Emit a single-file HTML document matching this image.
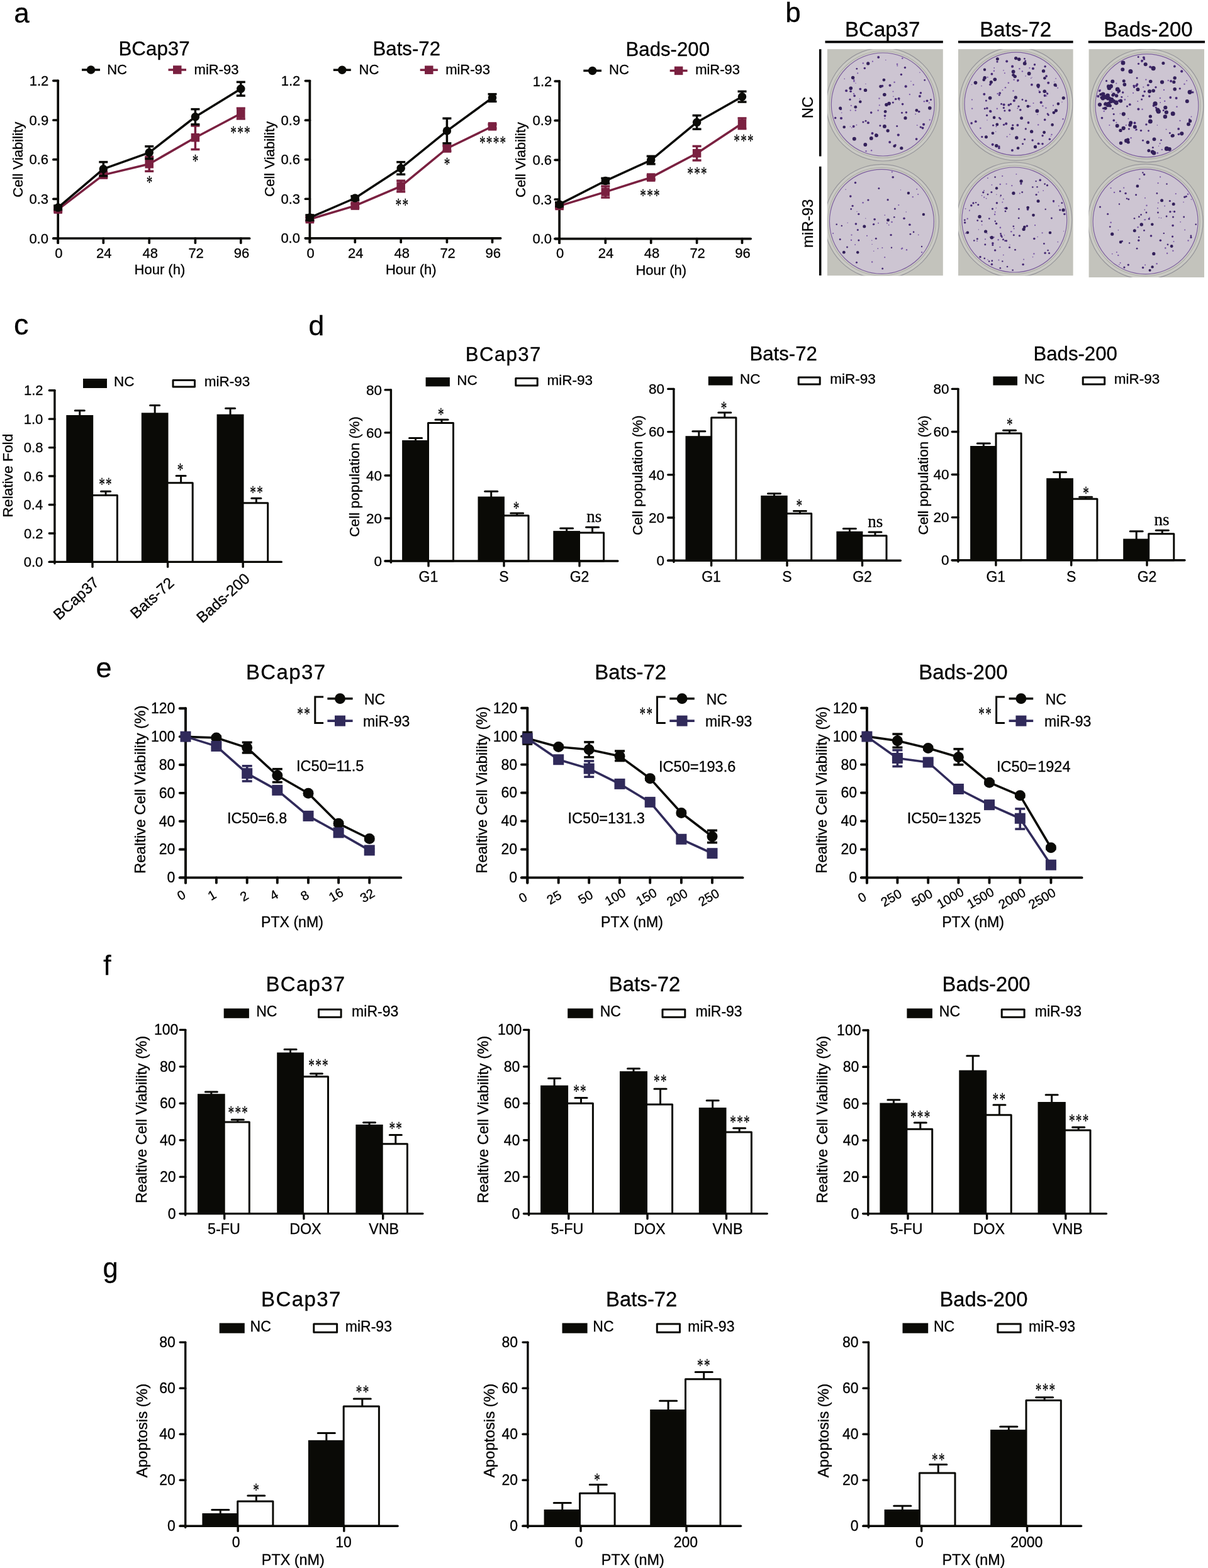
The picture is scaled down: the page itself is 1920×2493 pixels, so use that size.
<!DOCTYPE html>
<html><head><meta charset="utf-8"><title>Figure</title>
<style>html,body{margin:0;padding:0;background:#fff;width:1920px;height:2493px;overflow:hidden}svg{display:block}svg text{stroke:#000;stroke-width:0.3px}</style>
</head><body>
<svg width="1920" height="2493" viewBox="0 0 1920 2493">
<rect width="1920" height="2493" fill="#fff"/>
<text x="22.24" y="35.50" style="font-family:'Liberation Sans', Arial, Helvetica, sans-serif;font-size:44.00px" fill="#000">a</text>
<text x="1248.14" y="34.60" style="font-family:'Liberation Sans', Arial, Helvetica, sans-serif;font-size:44.00px" fill="#000">b</text>
<text x="22.02" y="532.40" style="font-family:'Liberation Sans', Arial, Helvetica, sans-serif;font-size:47.00px" fill="#000">c</text>
<text x="490.52" y="532.80" style="font-family:'Liberation Sans', Arial, Helvetica, sans-serif;font-size:44.50px" fill="#000">d</text>
<text x="152.60" y="1077.00" style="font-family:'Liberation Sans', Arial, Helvetica, sans-serif;font-size:45.00px" fill="#000">e</text>
<text x="164.34" y="1549.80" style="font-family:'Liberation Sans', Arial, Helvetica, sans-serif;font-size:44.00px" fill="#000">f</text>
<text x="163.46" y="2031.30" style="font-family:'Liberation Sans', Arial, Helvetica, sans-serif;font-size:43.50px" fill="#000">g</text>
<line x1="92.20" y1="128.30" x2="92.20" y2="386.15" stroke="#0a0a06" stroke-width="3.7" stroke-linecap="round"/>
<line x1="84.85" y1="379.00" x2="396.65" y2="379.00" stroke="#0a0a06" stroke-width="3.7" stroke-linecap="round"/>
<line x1="84.85" y1="379.00" x2="92.20" y2="379.00" stroke="#0a0a06" stroke-width="3.7" stroke-linecap="round"/>
<text x="46.39" y="386.59" style="font-family:'Liberation Sans', Arial, Helvetica, sans-serif;font-size:22.00px" fill="#000">0.0</text>
<line x1="84.85" y1="316.32" x2="92.20" y2="316.32" stroke="#0a0a06" stroke-width="3.7" stroke-linecap="round"/>
<text x="46.50" y="323.91" style="font-family:'Liberation Sans', Arial, Helvetica, sans-serif;font-size:22.00px" fill="#000">0.3</text>
<line x1="84.85" y1="253.65" x2="92.20" y2="253.65" stroke="#0a0a06" stroke-width="3.7" stroke-linecap="round"/>
<text x="46.50" y="261.24" style="font-family:'Liberation Sans', Arial, Helvetica, sans-serif;font-size:22.00px" fill="#000">0.6</text>
<line x1="84.85" y1="190.98" x2="92.20" y2="190.98" stroke="#0a0a06" stroke-width="3.7" stroke-linecap="round"/>
<text x="46.61" y="198.57" style="font-family:'Liberation Sans', Arial, Helvetica, sans-serif;font-size:22.00px" fill="#000">0.9</text>
<line x1="84.85" y1="128.30" x2="92.20" y2="128.30" stroke="#0a0a06" stroke-width="3.7" stroke-linecap="round"/>
<text x="46.72" y="136.00" style="font-family:'Liberation Sans', Arial, Helvetica, sans-serif;font-size:22.00px" fill="#000">1.2</text>
<line x1="92.20" y1="379.00" x2="92.20" y2="386.15" stroke="#0a0a06" stroke-width="3.7" stroke-linecap="round"/>
<line x1="164.30" y1="379.00" x2="164.30" y2="386.15" stroke="#0a0a06" stroke-width="3.7" stroke-linecap="round"/>
<line x1="237.20" y1="379.00" x2="237.20" y2="386.15" stroke="#0a0a06" stroke-width="3.7" stroke-linecap="round"/>
<line x1="310.40" y1="379.00" x2="310.40" y2="386.15" stroke="#0a0a06" stroke-width="3.7" stroke-linecap="round"/>
<line x1="382.80" y1="379.00" x2="382.80" y2="386.15" stroke="#0a0a06" stroke-width="3.7" stroke-linecap="round"/>
<line x1="92.20" y1="329.90" x2="92.20" y2="336.17" stroke="#7a2040" stroke-width="3.5" stroke-linecap="butt"/>
<line x1="85.20" y1="329.90" x2="99.20" y2="329.90" stroke="#7a2040" stroke-width="3.5" stroke-linecap="butt"/>
<line x1="85.20" y1="336.17" x2="99.20" y2="336.17" stroke="#7a2040" stroke-width="3.5" stroke-linecap="butt"/>
<line x1="164.30" y1="273.91" x2="164.30" y2="282.27" stroke="#7a2040" stroke-width="3.5" stroke-linecap="butt"/>
<line x1="157.30" y1="273.91" x2="171.30" y2="273.91" stroke="#7a2040" stroke-width="3.5" stroke-linecap="butt"/>
<line x1="157.30" y1="282.27" x2="171.30" y2="282.27" stroke="#7a2040" stroke-width="3.5" stroke-linecap="butt"/>
<line x1="237.20" y1="249.26" x2="237.20" y2="272.24" stroke="#7a2040" stroke-width="3.5" stroke-linecap="butt"/>
<line x1="230.20" y1="249.26" x2="244.20" y2="249.26" stroke="#7a2040" stroke-width="3.5" stroke-linecap="butt"/>
<line x1="230.20" y1="272.24" x2="244.20" y2="272.24" stroke="#7a2040" stroke-width="3.5" stroke-linecap="butt"/>
<line x1="310.40" y1="199.96" x2="310.40" y2="237.56" stroke="#7a2040" stroke-width="3.5" stroke-linecap="butt"/>
<line x1="303.40" y1="199.96" x2="317.40" y2="199.96" stroke="#7a2040" stroke-width="3.5" stroke-linecap="butt"/>
<line x1="303.40" y1="237.56" x2="317.40" y2="237.56" stroke="#7a2040" stroke-width="3.5" stroke-linecap="butt"/>
<line x1="382.80" y1="172.17" x2="382.80" y2="188.89" stroke="#7a2040" stroke-width="3.5" stroke-linecap="butt"/>
<line x1="375.80" y1="172.17" x2="389.80" y2="172.17" stroke="#7a2040" stroke-width="3.5" stroke-linecap="butt"/>
<line x1="375.80" y1="188.89" x2="389.80" y2="188.89" stroke="#7a2040" stroke-width="3.5" stroke-linecap="butt"/>
<path d="M92.20,333.04 L164.30,278.09 L237.20,260.75 L310.40,218.76 L382.80,180.53" fill="none" stroke="#7a2040" stroke-width="3.5" stroke-linejoin="round"/>
<rect x="85.45" y="326.29" width="13.50" height="13.50" fill="#7a2040"/>
<rect x="157.55" y="271.34" width="13.50" height="13.50" fill="#7a2040"/>
<rect x="230.45" y="254.00" width="13.50" height="13.50" fill="#7a2040"/>
<rect x="303.65" y="212.01" width="13.50" height="13.50" fill="#7a2040"/>
<rect x="376.05" y="173.78" width="13.50" height="13.50" fill="#7a2040"/>
<line x1="92.20" y1="326.98" x2="92.20" y2="333.25" stroke="#0a0a06" stroke-width="3.5" stroke-linecap="butt"/>
<line x1="85.20" y1="326.98" x2="99.20" y2="326.98" stroke="#0a0a06" stroke-width="3.5" stroke-linecap="butt"/>
<line x1="85.20" y1="333.25" x2="99.20" y2="333.25" stroke="#0a0a06" stroke-width="3.5" stroke-linecap="butt"/>
<line x1="164.30" y1="257.62" x2="164.30" y2="279.76" stroke="#0a0a06" stroke-width="3.5" stroke-linecap="butt"/>
<line x1="157.30" y1="257.62" x2="171.30" y2="257.62" stroke="#0a0a06" stroke-width="3.5" stroke-linecap="butt"/>
<line x1="157.30" y1="279.76" x2="171.30" y2="279.76" stroke="#0a0a06" stroke-width="3.5" stroke-linecap="butt"/>
<line x1="237.20" y1="232.76" x2="237.20" y2="252.40" stroke="#0a0a06" stroke-width="3.5" stroke-linecap="butt"/>
<line x1="230.20" y1="232.76" x2="244.20" y2="232.76" stroke="#0a0a06" stroke-width="3.5" stroke-linecap="butt"/>
<line x1="230.20" y1="252.40" x2="244.20" y2="252.40" stroke="#0a0a06" stroke-width="3.5" stroke-linecap="butt"/>
<line x1="310.40" y1="173.63" x2="310.40" y2="197.87" stroke="#0a0a06" stroke-width="3.5" stroke-linecap="butt"/>
<line x1="303.40" y1="173.63" x2="317.40" y2="173.63" stroke="#0a0a06" stroke-width="3.5" stroke-linecap="butt"/>
<line x1="303.40" y1="197.87" x2="317.40" y2="197.87" stroke="#0a0a06" stroke-width="3.5" stroke-linecap="butt"/>
<line x1="382.80" y1="130.39" x2="382.80" y2="152.12" stroke="#0a0a06" stroke-width="3.5" stroke-linecap="butt"/>
<line x1="375.80" y1="130.39" x2="389.80" y2="130.39" stroke="#0a0a06" stroke-width="3.5" stroke-linecap="butt"/>
<line x1="375.80" y1="152.12" x2="389.80" y2="152.12" stroke="#0a0a06" stroke-width="3.5" stroke-linecap="butt"/>
<path d="M92.20,330.11 L164.30,268.69 L237.20,242.58 L310.40,185.75 L382.80,141.25" fill="none" stroke="#0a0a06" stroke-width="3.5" stroke-linejoin="round"/>
<circle cx="92.20" cy="330.11" r="6.75" fill="#0a0a06"/>
<circle cx="164.30" cy="268.69" r="6.75" fill="#0a0a06"/>
<circle cx="237.20" cy="242.58" r="6.75" fill="#0a0a06"/>
<circle cx="310.40" cy="185.75" r="6.75" fill="#0a0a06"/>
<circle cx="382.80" cy="141.25" r="6.75" fill="#0a0a06"/>
<text transform="translate(237.50,298.67) scale(0.67,1)" x="-7.12" y="0" style="font-family:'Liberation Serif', 'Times New Roman', serif;font-size:28.50px;letter-spacing:2.0px" fill="#000">*</text>
<text transform="translate(310.50,264.67) scale(0.67,1)" x="-7.12" y="0" style="font-family:'Liberation Serif', 'Times New Roman', serif;font-size:28.50px;letter-spacing:2.0px" fill="#000">*</text>
<text transform="translate(382.00,219.67) scale(0.67,1)" x="-23.37" y="0" style="font-family:'Liberation Serif', 'Times New Roman', serif;font-size:28.50px;letter-spacing:2.0px" fill="#000">***</text>
<line x1="130.00" y1="111.00" x2="159.00" y2="111.00" stroke="#0a0a06" stroke-width="3.5" stroke-linecap="butt"/>
<circle cx="144.50" cy="111.00" r="6.75" fill="#0a0a06"/>
<text x="170.24" y="117.50" style="font-family:'Liberation Sans', Arial, Helvetica, sans-serif;font-size:22.00px" fill="#000">NC</text>
<line x1="267.50" y1="111.00" x2="296.00" y2="111.00" stroke="#7a2040" stroke-width="3.5" stroke-linecap="butt"/>
<rect x="275.00" y="104.25" width="13.50" height="13.50" fill="#7a2040"/>
<text x="308.57" y="117.50" style="font-family:'Liberation Sans', Arial, Helvetica, sans-serif;font-size:22.00px" fill="#000">miR-93</text>
<text x="188.50" y="87.50" style="font-family:'Liberation Sans', Arial, Helvetica, sans-serif;font-size:31.30px" fill="#000">BCap37</text>
<text transform="translate(35.62,253.10) rotate(-90)" x="-60.55" y="0" style="font-family:'Liberation Sans', Arial, Helvetica, sans-serif;font-size:22.10px" fill="#000">Cell Viability</text>
<text x="87.24" y="409.80" style="font-family:'Liberation Sans', Arial, Helvetica, sans-serif;font-size:22.00px" fill="#000">0</text>
<text x="153.07" y="409.80" style="font-family:'Liberation Sans', Arial, Helvetica, sans-serif;font-size:22.00px" fill="#000">24</text>
<text x="226.41" y="409.80" style="font-family:'Liberation Sans', Arial, Helvetica, sans-serif;font-size:22.00px" fill="#000">48</text>
<text x="299.39" y="409.80" style="font-family:'Liberation Sans', Arial, Helvetica, sans-serif;font-size:22.00px" fill="#000">72</text>
<text x="371.74" y="409.80" style="font-family:'Liberation Sans', Arial, Helvetica, sans-serif;font-size:22.00px" fill="#000">96</text>
<text x="213.54" y="436.40" style="font-family:'Liberation Sans', Arial, Helvetica, sans-serif;font-size:22.00px" fill="#000">Hour (h)</text>
<line x1="492.40" y1="128.60" x2="492.40" y2="385.15" stroke="#0a0a06" stroke-width="3.7" stroke-linecap="round"/>
<line x1="485.45" y1="378.80" x2="795.65" y2="378.80" stroke="#0a0a06" stroke-width="3.7" stroke-linecap="round"/>
<line x1="485.45" y1="378.80" x2="492.40" y2="378.80" stroke="#0a0a06" stroke-width="3.7" stroke-linecap="round"/>
<text x="446.39" y="386.39" style="font-family:'Liberation Sans', Arial, Helvetica, sans-serif;font-size:22.00px" fill="#000">0.0</text>
<line x1="485.45" y1="316.25" x2="492.40" y2="316.25" stroke="#0a0a06" stroke-width="3.7" stroke-linecap="round"/>
<text x="446.50" y="323.84" style="font-family:'Liberation Sans', Arial, Helvetica, sans-serif;font-size:22.00px" fill="#000">0.3</text>
<line x1="485.45" y1="253.70" x2="492.40" y2="253.70" stroke="#0a0a06" stroke-width="3.7" stroke-linecap="round"/>
<text x="446.50" y="261.29" style="font-family:'Liberation Sans', Arial, Helvetica, sans-serif;font-size:22.00px" fill="#000">0.6</text>
<line x1="485.45" y1="191.15" x2="492.40" y2="191.15" stroke="#0a0a06" stroke-width="3.7" stroke-linecap="round"/>
<text x="446.61" y="198.74" style="font-family:'Liberation Sans', Arial, Helvetica, sans-serif;font-size:22.00px" fill="#000">0.9</text>
<line x1="485.45" y1="128.60" x2="492.40" y2="128.60" stroke="#0a0a06" stroke-width="3.7" stroke-linecap="round"/>
<text x="446.72" y="136.30" style="font-family:'Liberation Sans', Arial, Helvetica, sans-serif;font-size:22.00px" fill="#000">1.2</text>
<line x1="492.40" y1="378.80" x2="492.40" y2="385.15" stroke="#0a0a06" stroke-width="3.7" stroke-linecap="round"/>
<line x1="564.30" y1="378.80" x2="564.30" y2="385.15" stroke="#0a0a06" stroke-width="3.7" stroke-linecap="round"/>
<line x1="637.20" y1="378.80" x2="637.20" y2="385.15" stroke="#0a0a06" stroke-width="3.7" stroke-linecap="round"/>
<line x1="710.40" y1="378.80" x2="710.40" y2="385.15" stroke="#0a0a06" stroke-width="3.7" stroke-linecap="round"/>
<line x1="782.50" y1="378.80" x2="782.50" y2="385.15" stroke="#0a0a06" stroke-width="3.7" stroke-linecap="round"/>
<line x1="492.40" y1="345.44" x2="492.40" y2="351.69" stroke="#7a2040" stroke-width="3.5" stroke-linecap="butt"/>
<line x1="485.40" y1="345.44" x2="499.40" y2="345.44" stroke="#7a2040" stroke-width="3.5" stroke-linecap="butt"/>
<line x1="485.40" y1="351.69" x2="499.40" y2="351.69" stroke="#7a2040" stroke-width="3.5" stroke-linecap="butt"/>
<line x1="564.30" y1="323.96" x2="564.30" y2="330.22" stroke="#7a2040" stroke-width="3.5" stroke-linecap="butt"/>
<line x1="557.30" y1="323.96" x2="571.30" y2="323.96" stroke="#7a2040" stroke-width="3.5" stroke-linecap="butt"/>
<line x1="557.30" y1="330.22" x2="571.30" y2="330.22" stroke="#7a2040" stroke-width="3.5" stroke-linecap="butt"/>
<line x1="637.20" y1="287.27" x2="637.20" y2="304.78" stroke="#7a2040" stroke-width="3.5" stroke-linecap="butt"/>
<line x1="630.20" y1="287.27" x2="644.20" y2="287.27" stroke="#7a2040" stroke-width="3.5" stroke-linecap="butt"/>
<line x1="630.20" y1="304.78" x2="644.20" y2="304.78" stroke="#7a2040" stroke-width="3.5" stroke-linecap="butt"/>
<line x1="710.40" y1="231.81" x2="710.40" y2="240.15" stroke="#7a2040" stroke-width="3.5" stroke-linecap="butt"/>
<line x1="703.40" y1="231.81" x2="717.40" y2="231.81" stroke="#7a2040" stroke-width="3.5" stroke-linecap="butt"/>
<line x1="703.40" y1="240.15" x2="717.40" y2="240.15" stroke="#7a2040" stroke-width="3.5" stroke-linecap="butt"/>
<line x1="782.50" y1="197.82" x2="782.50" y2="204.08" stroke="#7a2040" stroke-width="3.5" stroke-linecap="butt"/>
<line x1="775.50" y1="197.82" x2="789.50" y2="197.82" stroke="#7a2040" stroke-width="3.5" stroke-linecap="butt"/>
<line x1="775.50" y1="204.08" x2="789.50" y2="204.08" stroke="#7a2040" stroke-width="3.5" stroke-linecap="butt"/>
<path d="M492.40,348.57 L564.30,327.09 L637.20,296.03 L710.40,235.98 L782.50,200.95" fill="none" stroke="#7a2040" stroke-width="3.5" stroke-linejoin="round"/>
<rect x="485.65" y="341.82" width="13.50" height="13.50" fill="#7a2040"/>
<rect x="557.55" y="320.34" width="13.50" height="13.50" fill="#7a2040"/>
<rect x="630.45" y="289.28" width="13.50" height="13.50" fill="#7a2040"/>
<rect x="703.65" y="229.23" width="13.50" height="13.50" fill="#7a2040"/>
<rect x="775.75" y="194.20" width="13.50" height="13.50" fill="#7a2040"/>
<line x1="492.40" y1="341.90" x2="492.40" y2="350.24" stroke="#0a0a06" stroke-width="3.5" stroke-linecap="butt"/>
<line x1="485.40" y1="341.90" x2="499.40" y2="341.90" stroke="#0a0a06" stroke-width="3.5" stroke-linecap="butt"/>
<line x1="485.40" y1="350.24" x2="499.40" y2="350.24" stroke="#0a0a06" stroke-width="3.5" stroke-linecap="butt"/>
<line x1="564.30" y1="311.87" x2="564.30" y2="318.13" stroke="#0a0a06" stroke-width="3.5" stroke-linecap="butt"/>
<line x1="557.30" y1="311.87" x2="571.30" y2="311.87" stroke="#0a0a06" stroke-width="3.5" stroke-linecap="butt"/>
<line x1="557.30" y1="318.13" x2="571.30" y2="318.13" stroke="#0a0a06" stroke-width="3.5" stroke-linecap="butt"/>
<line x1="637.20" y1="257.66" x2="637.20" y2="277.26" stroke="#0a0a06" stroke-width="3.5" stroke-linecap="butt"/>
<line x1="630.20" y1="257.66" x2="644.20" y2="257.66" stroke="#0a0a06" stroke-width="3.5" stroke-linecap="butt"/>
<line x1="630.20" y1="277.26" x2="644.20" y2="277.26" stroke="#0a0a06" stroke-width="3.5" stroke-linecap="butt"/>
<line x1="710.40" y1="188.23" x2="710.40" y2="227.85" stroke="#0a0a06" stroke-width="3.5" stroke-linecap="butt"/>
<line x1="703.40" y1="188.23" x2="717.40" y2="188.23" stroke="#0a0a06" stroke-width="3.5" stroke-linecap="butt"/>
<line x1="703.40" y1="227.85" x2="717.40" y2="227.85" stroke="#0a0a06" stroke-width="3.5" stroke-linecap="butt"/>
<line x1="782.50" y1="149.66" x2="782.50" y2="161.33" stroke="#0a0a06" stroke-width="3.5" stroke-linecap="butt"/>
<line x1="775.50" y1="149.66" x2="789.50" y2="149.66" stroke="#0a0a06" stroke-width="3.5" stroke-linecap="butt"/>
<line x1="775.50" y1="161.33" x2="789.50" y2="161.33" stroke="#0a0a06" stroke-width="3.5" stroke-linecap="butt"/>
<path d="M492.40,346.07 L564.30,315.00 L637.20,267.46 L710.40,208.04 L782.50,155.50" fill="none" stroke="#0a0a06" stroke-width="3.5" stroke-linejoin="round"/>
<circle cx="492.40" cy="346.07" r="6.75" fill="#0a0a06"/>
<circle cx="564.30" cy="315.00" r="6.75" fill="#0a0a06"/>
<circle cx="637.20" cy="267.46" r="6.75" fill="#0a0a06"/>
<circle cx="710.40" cy="208.04" r="6.75" fill="#0a0a06"/>
<circle cx="782.50" cy="155.50" r="6.75" fill="#0a0a06"/>
<text transform="translate(638.70,335.17) scale(0.67,1)" x="-15.25" y="0" style="font-family:'Liberation Serif', 'Times New Roman', serif;font-size:28.50px;letter-spacing:2.0px" fill="#000">**</text>
<text transform="translate(710.50,270.17) scale(0.67,1)" x="-7.12" y="0" style="font-family:'Liberation Serif', 'Times New Roman', serif;font-size:28.50px;letter-spacing:2.0px" fill="#000">*</text>
<text transform="translate(783.00,236.42) scale(0.67,1)" x="-31.50" y="0" style="font-family:'Liberation Serif', 'Times New Roman', serif;font-size:28.50px;letter-spacing:2.0px" fill="#000">****</text>
<line x1="529.80" y1="111.20" x2="557.80" y2="111.20" stroke="#0a0a06" stroke-width="3.5" stroke-linecap="butt"/>
<circle cx="543.80" cy="111.20" r="6.75" fill="#0a0a06"/>
<text x="570.54" y="117.50" style="font-family:'Liberation Sans', Arial, Helvetica, sans-serif;font-size:22.00px" fill="#000">NC</text>
<line x1="667.70" y1="111.20" x2="695.90" y2="111.20" stroke="#7a2040" stroke-width="3.5" stroke-linecap="butt"/>
<rect x="675.05" y="104.45" width="13.50" height="13.50" fill="#7a2040"/>
<text x="708.17" y="117.50" style="font-family:'Liberation Sans', Arial, Helvetica, sans-serif;font-size:22.00px" fill="#000">miR-93</text>
<text x="592.50" y="88.00" style="font-family:'Liberation Sans', Arial, Helvetica, sans-serif;font-size:31.20px" fill="#000">Bats-72</text>
<text transform="translate(436.02,252.25) rotate(-90)" x="-60.55" y="0" style="font-family:'Liberation Sans', Arial, Helvetica, sans-serif;font-size:22.10px" fill="#000">Cell Viability</text>
<text x="487.44" y="409.50" style="font-family:'Liberation Sans', Arial, Helvetica, sans-serif;font-size:22.00px" fill="#000">0</text>
<text x="553.07" y="409.50" style="font-family:'Liberation Sans', Arial, Helvetica, sans-serif;font-size:22.00px" fill="#000">24</text>
<text x="626.41" y="409.50" style="font-family:'Liberation Sans', Arial, Helvetica, sans-serif;font-size:22.00px" fill="#000">48</text>
<text x="699.39" y="409.50" style="font-family:'Liberation Sans', Arial, Helvetica, sans-serif;font-size:22.00px" fill="#000">72</text>
<text x="771.44" y="409.50" style="font-family:'Liberation Sans', Arial, Helvetica, sans-serif;font-size:22.00px" fill="#000">96</text>
<text x="612.94" y="436.00" style="font-family:'Liberation Sans', Arial, Helvetica, sans-serif;font-size:22.00px" fill="#000">Hour (h)</text>
<line x1="889.10" y1="129.10" x2="889.10" y2="386.15" stroke="#0a0a06" stroke-width="3.7" stroke-linecap="round"/>
<line x1="882.15" y1="379.60" x2="1193.15" y2="379.60" stroke="#0a0a06" stroke-width="3.7" stroke-linecap="round"/>
<line x1="882.15" y1="379.60" x2="889.10" y2="379.60" stroke="#0a0a06" stroke-width="3.7" stroke-linecap="round"/>
<text x="846.39" y="387.19" style="font-family:'Liberation Sans', Arial, Helvetica, sans-serif;font-size:22.00px" fill="#000">0.0</text>
<line x1="882.15" y1="316.98" x2="889.10" y2="316.98" stroke="#0a0a06" stroke-width="3.7" stroke-linecap="round"/>
<text x="846.50" y="324.56" style="font-family:'Liberation Sans', Arial, Helvetica, sans-serif;font-size:22.00px" fill="#000">0.3</text>
<line x1="882.15" y1="254.35" x2="889.10" y2="254.35" stroke="#0a0a06" stroke-width="3.7" stroke-linecap="round"/>
<text x="846.50" y="261.94" style="font-family:'Liberation Sans', Arial, Helvetica, sans-serif;font-size:22.00px" fill="#000">0.6</text>
<line x1="882.15" y1="191.72" x2="889.10" y2="191.72" stroke="#0a0a06" stroke-width="3.7" stroke-linecap="round"/>
<text x="846.61" y="199.31" style="font-family:'Liberation Sans', Arial, Helvetica, sans-serif;font-size:22.00px" fill="#000">0.9</text>
<line x1="882.15" y1="129.10" x2="889.10" y2="129.10" stroke="#0a0a06" stroke-width="3.7" stroke-linecap="round"/>
<text x="846.72" y="136.80" style="font-family:'Liberation Sans', Arial, Helvetica, sans-serif;font-size:22.00px" fill="#000">1.2</text>
<line x1="889.10" y1="379.60" x2="889.10" y2="386.15" stroke="#0a0a06" stroke-width="3.7" stroke-linecap="round"/>
<line x1="962.30" y1="379.60" x2="962.30" y2="386.15" stroke="#0a0a06" stroke-width="3.7" stroke-linecap="round"/>
<line x1="1034.70" y1="379.60" x2="1034.70" y2="386.15" stroke="#0a0a06" stroke-width="3.7" stroke-linecap="round"/>
<line x1="1107.60" y1="379.60" x2="1107.60" y2="386.15" stroke="#0a0a06" stroke-width="3.7" stroke-linecap="round"/>
<line x1="1179.50" y1="379.60" x2="1179.50" y2="386.15" stroke="#0a0a06" stroke-width="3.7" stroke-linecap="round"/>
<line x1="889.10" y1="324.28" x2="889.10" y2="330.54" stroke="#7a2040" stroke-width="3.5" stroke-linecap="butt"/>
<line x1="882.10" y1="324.28" x2="896.10" y2="324.28" stroke="#7a2040" stroke-width="3.5" stroke-linecap="butt"/>
<line x1="882.10" y1="330.54" x2="896.10" y2="330.54" stroke="#7a2040" stroke-width="3.5" stroke-linecap="butt"/>
<line x1="962.30" y1="296.10" x2="962.30" y2="314.05" stroke="#7a2040" stroke-width="3.5" stroke-linecap="butt"/>
<line x1="955.30" y1="296.10" x2="969.30" y2="296.10" stroke="#7a2040" stroke-width="3.5" stroke-linecap="butt"/>
<line x1="955.30" y1="314.05" x2="969.30" y2="314.05" stroke="#7a2040" stroke-width="3.5" stroke-linecap="butt"/>
<line x1="1034.70" y1="278.98" x2="1034.70" y2="285.25" stroke="#7a2040" stroke-width="3.5" stroke-linecap="butt"/>
<line x1="1027.70" y1="278.98" x2="1041.70" y2="278.98" stroke="#7a2040" stroke-width="3.5" stroke-linecap="butt"/>
<line x1="1027.70" y1="285.25" x2="1041.70" y2="285.25" stroke="#7a2040" stroke-width="3.5" stroke-linecap="butt"/>
<line x1="1107.60" y1="232.43" x2="1107.60" y2="254.98" stroke="#7a2040" stroke-width="3.5" stroke-linecap="butt"/>
<line x1="1100.60" y1="232.43" x2="1114.60" y2="232.43" stroke="#7a2040" stroke-width="3.5" stroke-linecap="butt"/>
<line x1="1100.60" y1="254.98" x2="1114.60" y2="254.98" stroke="#7a2040" stroke-width="3.5" stroke-linecap="butt"/>
<line x1="1179.50" y1="187.97" x2="1179.50" y2="204.67" stroke="#7a2040" stroke-width="3.5" stroke-linecap="butt"/>
<line x1="1172.50" y1="187.97" x2="1186.50" y2="187.97" stroke="#7a2040" stroke-width="3.5" stroke-linecap="butt"/>
<line x1="1172.50" y1="204.67" x2="1186.50" y2="204.67" stroke="#7a2040" stroke-width="3.5" stroke-linecap="butt"/>
<path d="M889.10,327.41 L962.30,305.08 L1034.70,282.11 L1107.60,243.70 L1179.50,196.32" fill="none" stroke="#7a2040" stroke-width="3.5" stroke-linejoin="round"/>
<rect x="882.35" y="320.66" width="13.50" height="13.50" fill="#7a2040"/>
<rect x="955.55" y="298.33" width="13.50" height="13.50" fill="#7a2040"/>
<rect x="1027.95" y="275.36" width="13.50" height="13.50" fill="#7a2040"/>
<rect x="1100.85" y="236.95" width="13.50" height="13.50" fill="#7a2040"/>
<rect x="1172.75" y="189.57" width="13.50" height="13.50" fill="#7a2040"/>
<line x1="889.10" y1="321.78" x2="889.10" y2="328.04" stroke="#0a0a06" stroke-width="3.5" stroke-linecap="butt"/>
<line x1="882.10" y1="321.78" x2="896.10" y2="321.78" stroke="#0a0a06" stroke-width="3.5" stroke-linecap="butt"/>
<line x1="882.10" y1="328.04" x2="896.10" y2="328.04" stroke="#0a0a06" stroke-width="3.5" stroke-linecap="butt"/>
<line x1="962.30" y1="283.37" x2="962.30" y2="291.72" stroke="#0a0a06" stroke-width="3.5" stroke-linecap="butt"/>
<line x1="955.30" y1="283.37" x2="969.30" y2="283.37" stroke="#0a0a06" stroke-width="3.5" stroke-linecap="butt"/>
<line x1="955.30" y1="291.72" x2="969.30" y2="291.72" stroke="#0a0a06" stroke-width="3.5" stroke-linecap="butt"/>
<line x1="1034.70" y1="248.30" x2="1034.70" y2="260.82" stroke="#0a0a06" stroke-width="3.5" stroke-linecap="butt"/>
<line x1="1027.70" y1="248.30" x2="1041.70" y2="248.30" stroke="#0a0a06" stroke-width="3.5" stroke-linecap="butt"/>
<line x1="1027.70" y1="260.82" x2="1041.70" y2="260.82" stroke="#0a0a06" stroke-width="3.5" stroke-linecap="butt"/>
<line x1="1107.60" y1="183.58" x2="1107.60" y2="205.29" stroke="#0a0a06" stroke-width="3.5" stroke-linecap="butt"/>
<line x1="1100.60" y1="183.58" x2="1114.60" y2="183.58" stroke="#0a0a06" stroke-width="3.5" stroke-linecap="butt"/>
<line x1="1100.60" y1="205.29" x2="1114.60" y2="205.29" stroke="#0a0a06" stroke-width="3.5" stroke-linecap="butt"/>
<line x1="1179.50" y1="145.38" x2="1179.50" y2="162.08" stroke="#0a0a06" stroke-width="3.5" stroke-linecap="butt"/>
<line x1="1172.50" y1="145.38" x2="1186.50" y2="145.38" stroke="#0a0a06" stroke-width="3.5" stroke-linecap="butt"/>
<line x1="1172.50" y1="162.08" x2="1186.50" y2="162.08" stroke="#0a0a06" stroke-width="3.5" stroke-linecap="butt"/>
<path d="M889.10,324.91 L962.30,287.54 L1034.70,254.56 L1107.60,194.44 L1179.50,153.73" fill="none" stroke="#0a0a06" stroke-width="3.5" stroke-linejoin="round"/>
<circle cx="889.10" cy="324.91" r="6.75" fill="#0a0a06"/>
<circle cx="962.30" cy="287.54" r="6.75" fill="#0a0a06"/>
<circle cx="1034.70" cy="254.56" r="6.75" fill="#0a0a06"/>
<circle cx="1107.60" cy="194.44" r="6.75" fill="#0a0a06"/>
<circle cx="1179.50" cy="153.73" r="6.75" fill="#0a0a06"/>
<text transform="translate(1033.00,320.17) scale(0.67,1)" x="-23.37" y="0" style="font-family:'Liberation Serif', 'Times New Roman', serif;font-size:28.50px;letter-spacing:2.0px" fill="#000">***</text>
<text transform="translate(1108.00,285.17) scale(0.67,1)" x="-23.37" y="0" style="font-family:'Liberation Serif', 'Times New Roman', serif;font-size:28.50px;letter-spacing:2.0px" fill="#000">***</text>
<text transform="translate(1182.00,232.67) scale(0.67,1)" x="-23.37" y="0" style="font-family:'Liberation Serif', 'Times New Roman', serif;font-size:28.50px;letter-spacing:2.0px" fill="#000">***</text>
<line x1="927.30" y1="112.40" x2="956.00" y2="112.40" stroke="#0a0a06" stroke-width="3.5" stroke-linecap="butt"/>
<circle cx="941.65" cy="112.40" r="6.75" fill="#0a0a06"/>
<text x="968.04" y="117.60" style="font-family:'Liberation Sans', Arial, Helvetica, sans-serif;font-size:22.00px" fill="#000">NC</text>
<line x1="1064.70" y1="112.40" x2="1092.60" y2="112.40" stroke="#7a2040" stroke-width="3.5" stroke-linecap="butt"/>
<rect x="1071.90" y="105.65" width="13.50" height="13.50" fill="#7a2040"/>
<text x="1105.17" y="117.60" style="font-family:'Liberation Sans', Arial, Helvetica, sans-serif;font-size:22.00px" fill="#000">miR-93</text>
<text x="994.50" y="88.70" style="font-family:'Liberation Sans', Arial, Helvetica, sans-serif;font-size:31.20px" fill="#000">Bads-200</text>
<text transform="translate(834.72,253.50) rotate(-90)" x="-60.55" y="0" style="font-family:'Liberation Sans', Arial, Helvetica, sans-serif;font-size:22.10px" fill="#000">Cell Viability</text>
<text x="883.94" y="409.80" style="font-family:'Liberation Sans', Arial, Helvetica, sans-serif;font-size:22.00px" fill="#000">0</text>
<text x="950.87" y="409.80" style="font-family:'Liberation Sans', Arial, Helvetica, sans-serif;font-size:22.00px" fill="#000">24</text>
<text x="1023.71" y="409.80" style="font-family:'Liberation Sans', Arial, Helvetica, sans-serif;font-size:22.00px" fill="#000">48</text>
<text x="1096.39" y="409.80" style="font-family:'Liberation Sans', Arial, Helvetica, sans-serif;font-size:22.00px" fill="#000">72</text>
<text x="1168.23" y="409.80" style="font-family:'Liberation Sans', Arial, Helvetica, sans-serif;font-size:22.00px" fill="#000">96</text>
<text x="1010.44" y="437.00" style="font-family:'Liberation Sans', Arial, Helvetica, sans-serif;font-size:22.00px" fill="#000">Hour (h)</text>
<rect x="1314.9" y="78.2" width="183.9" height="360.0" fill="#c3c3bc"/>
<svg x="1314.9" y="78.2" width="183.9" height="360.0" viewBox="1314.9 78.2 183.9 360.0" overflow="hidden">
<circle cx="1403.3" cy="166.0" r="90.0" fill="#cacac4" stroke="#96959a" stroke-width="1.2"/>
<circle cx="1403.3" cy="166.0" r="85.0" fill="none" stroke="#b0afaa" stroke-width="1.2"/>
<circle cx="1403.3" cy="166.0" r="82.0" fill="#cdc5d2" stroke="#7d5f9e" stroke-width="1.2"/>
<g fill="#7b5aa6"><circle cx="1395.7" cy="175.6" r="1.3"/><circle cx="1397.8" cy="167.3" r="1.1"/><circle cx="1352.8" cy="167.9" r="1.1"/><circle cx="1371.8" cy="100.5" r="1.2"/><circle cx="1434.3" cy="92.7" r="1.3"/><circle cx="1477.7" cy="190.6" r="1.1"/><circle cx="1407.8" cy="95.5" r="0.8"/><circle cx="1397.5" cy="156.5" r="1.2"/><circle cx="1406.4" cy="188.4" r="1.0"/><circle cx="1429.3" cy="159.2" r="0.9"/><circle cx="1457.7" cy="199.2" r="0.9"/><circle cx="1360.0" cy="132.2" r="0.7"/><circle cx="1445.9" cy="150.1" r="1.2"/><circle cx="1385.1" cy="239.3" r="1.2"/><circle cx="1468.9" cy="161.2" r="1.3"/><circle cx="1386.9" cy="97.7" r="1.1"/><circle cx="1447.9" cy="129.2" r="0.8"/><circle cx="1376.5" cy="240.3" r="1.2"/><circle cx="1342.2" cy="125.4" r="0.8"/><circle cx="1351.7" cy="175.5" r="1.0"/><circle cx="1353.8" cy="203.1" r="0.8"/><circle cx="1426.3" cy="104.6" r="1.0"/><circle cx="1357.4" cy="129.2" r="1.3"/><circle cx="1451.8" cy="134.7" r="1.2"/><circle cx="1357.0" cy="149.1" r="1.2"/><circle cx="1426.0" cy="102.1" r="1.3"/><circle cx="1357.4" cy="127.3" r="1.2"/><circle cx="1375.9" cy="133.4" r="0.7"/><circle cx="1337.7" cy="179.2" r="0.8"/><circle cx="1419.5" cy="145.5" r="1.0"/><circle cx="1476.8" cy="163.4" r="1.0"/><circle cx="1461.9" cy="115.3" r="0.8"/><circle cx="1363.2" cy="116.4" r="1.1"/><circle cx="1419.9" cy="153.4" r="0.8"/><circle cx="1361.4" cy="198.7" r="0.9"/><circle cx="1455.1" cy="181.4" r="0.9"/><circle cx="1351.4" cy="201.3" r="0.7"/><circle cx="1359.8" cy="175.5" r="1.2"/><circle cx="1421.6" cy="130.8" r="1.3"/><circle cx="1366.4" cy="157.3" r="0.7"/></g>
<g fill="#472b75"><circle cx="1352.1" cy="145.3" r="1.8"/><circle cx="1345.1" cy="144.2" r="2.0"/><circle cx="1433.5" cy="179.3" r="1.5"/><circle cx="1468.1" cy="197.8" r="2.1"/><circle cx="1327.7" cy="187.5" r="1.7"/><circle cx="1439.7" cy="137.4" r="2.1"/><circle cx="1336.2" cy="173.3" r="1.9"/><circle cx="1466.5" cy="203.5" r="1.9"/><circle cx="1379.9" cy="195.3" r="2.0"/><circle cx="1461.9" cy="152.9" r="2.0"/><circle cx="1460.7" cy="177.5" r="1.8"/><circle cx="1384.7" cy="179.1" r="1.8"/><circle cx="1337.0" cy="188.0" r="2.1"/><circle cx="1463.3" cy="202.1" r="1.7"/><circle cx="1440.4" cy="178.8" r="1.7"/><circle cx="1419.3" cy="163.0" r="1.6"/><circle cx="1434.6" cy="165.6" r="1.8"/><circle cx="1469.7" cy="127.4" r="1.4"/><circle cx="1371.9" cy="194.1" r="1.5"/><circle cx="1428.6" cy="156.8" r="2.0"/><circle cx="1376.0" cy="192.2" r="1.5"/><circle cx="1392.4" cy="214.3" r="2.0"/><circle cx="1463.4" cy="147.7" r="1.8"/><circle cx="1374.3" cy="108.5" r="1.7"/><circle cx="1456.6" cy="221.1" r="1.9"/><circle cx="1351.0" cy="158.2" r="1.6"/><circle cx="1358.1" cy="152.4" r="1.8"/><circle cx="1402.3" cy="136.8" r="2.0"/><circle cx="1479.5" cy="158.5" r="1.5"/><circle cx="1414.5" cy="135.8" r="2.0"/><circle cx="1396.2" cy="90.9" r="2.0"/><circle cx="1361.8" cy="109.3" r="1.4"/><circle cx="1423.7" cy="157.5" r="1.8"/><circle cx="1427.8" cy="214.6" r="2.1"/><circle cx="1432.4" cy="118.5" r="1.7"/><circle cx="1398.9" cy="199.8" r="1.5"/><circle cx="1367.3" cy="141.6" r="1.9"/><circle cx="1406.5" cy="184.1" r="1.9"/><circle cx="1386.5" cy="212.1" r="2.0"/><circle cx="1438.4" cy="107.5" r="1.7"/><circle cx="1423.1" cy="230.8" r="1.7"/><circle cx="1414.2" cy="225.9" r="2.0"/><circle cx="1473.5" cy="160.3" r="1.9"/><circle cx="1356.7" cy="201.1" r="2.0"/><circle cx="1425.7" cy="200.4" r="1.5"/></g>
<g fill="#33205a"><circle cx="1477.8" cy="171.8" r="2.8"/><circle cx="1375.3" cy="230.0" r="2.9"/><circle cx="1379.7" cy="100.9" r="2.6"/><circle cx="1411.1" cy="207.8" r="2.6"/><circle cx="1352.3" cy="140.3" r="2.8"/><circle cx="1405.9" cy="200.9" r="2.9"/><circle cx="1432.8" cy="235.5" r="2.6"/><circle cx="1359.8" cy="170.2" r="2.4"/><circle cx="1439.0" cy="187.7" r="2.6"/><circle cx="1456.9" cy="175.4" r="2.4"/><circle cx="1384.8" cy="219.9" r="2.9"/><circle cx="1357.8" cy="220.7" r="3.0"/><circle cx="1407.1" cy="177.4" r="2.4"/><circle cx="1408.9" cy="166.5" r="2.7"/><circle cx="1405.8" cy="150.5" r="2.8"/><circle cx="1413.1" cy="164.6" r="2.8"/><circle cx="1335.6" cy="172.0" r="2.5"/><circle cx="1367.3" cy="161.8" r="2.3"/><circle cx="1393.0" cy="215.3" r="2.9"/><circle cx="1399.6" cy="137.5" r="2.4"/><circle cx="1421.7" cy="232.3" r="2.3"/><circle cx="1355.6" cy="123.5" r="2.7"/><circle cx="1375.5" cy="143.4" r="2.7"/><circle cx="1341.7" cy="202.0" r="2.3"/><circle cx="1404.9" cy="127.1" r="2.4"/></g>
<circle cx="1401.4" cy="352.3" r="91.0" fill="#cacac4" stroke="#96959a" stroke-width="1.2"/>
<circle cx="1401.4" cy="352.3" r="86.0" fill="none" stroke="#b0afaa" stroke-width="1.2"/>
<circle cx="1401.4" cy="352.3" r="83.0" fill="#cdc5d2" stroke="#7d5f9e" stroke-width="1.2"/>
<g fill="#7b5aa6"><circle cx="1406.3" cy="342.1" r="0.9"/><circle cx="1387.4" cy="357.1" r="0.8"/><circle cx="1353.5" cy="373.6" r="1.1"/><circle cx="1406.2" cy="409.2" r="1.1"/><circle cx="1459.2" cy="309.0" r="1.1"/><circle cx="1371.6" cy="322.3" r="1.3"/><circle cx="1359.2" cy="389.0" r="0.9"/><circle cx="1388.7" cy="399.3" r="0.8"/><circle cx="1385.7" cy="382.3" r="0.7"/><circle cx="1353.0" cy="381.8" r="1.2"/><circle cx="1402.3" cy="394.1" r="1.0"/><circle cx="1431.5" cy="301.9" r="0.7"/><circle cx="1409.8" cy="354.7" r="1.0"/><circle cx="1344.1" cy="301.2" r="0.8"/><circle cx="1395.3" cy="395.2" r="0.9"/><circle cx="1396.0" cy="354.8" r="1.0"/><circle cx="1417.8" cy="273.4" r="1.1"/><circle cx="1457.2" cy="300.7" r="1.0"/><circle cx="1440.2" cy="337.0" r="0.8"/><circle cx="1347.1" cy="354.3" r="0.7"/><circle cx="1465.1" cy="401.2" r="1.1"/><circle cx="1459.8" cy="373.3" r="0.9"/><circle cx="1417.5" cy="353.0" r="1.3"/><circle cx="1450.8" cy="313.1" r="1.2"/><circle cx="1441.0" cy="397.3" r="1.2"/><circle cx="1386.1" cy="416.5" r="1.2"/><circle cx="1433.0" cy="395.6" r="1.2"/><circle cx="1386.1" cy="388.4" r="0.7"/><circle cx="1375.8" cy="347.3" r="0.7"/><circle cx="1378.0" cy="374.8" r="1.1"/><circle cx="1428.3" cy="326.0" r="1.1"/><circle cx="1412.7" cy="357.7" r="0.9"/><circle cx="1434.0" cy="394.7" r="1.3"/><circle cx="1324.1" cy="371.0" r="1.1"/><circle cx="1362.0" cy="336.4" r="0.7"/></g>
<g fill="#472b75"><circle cx="1352.7" cy="332.4" r="1.3"/><circle cx="1361.5" cy="417.2" r="1.5"/><circle cx="1402.7" cy="427.0" r="1.5"/><circle cx="1417.0" cy="393.8" r="1.2"/><circle cx="1396.9" cy="299.4" r="1.5"/><circle cx="1419.2" cy="281.7" r="1.8"/><circle cx="1388.7" cy="356.6" r="1.6"/><circle cx="1379.9" cy="318.0" r="1.6"/><circle cx="1411.1" cy="317.7" r="1.6"/><circle cx="1346.5" cy="393.0" r="1.4"/><circle cx="1465.0" cy="392.0" r="1.2"/><circle cx="1390.1" cy="348.7" r="1.8"/><circle cx="1360.4" cy="356.0" r="1.8"/><circle cx="1437.0" cy="347.2" r="1.8"/><circle cx="1452.1" cy="368.9" r="1.3"/><circle cx="1421.3" cy="345.2" r="1.3"/><circle cx="1329.7" cy="356.8" r="1.3"/><circle cx="1392.3" cy="379.2" r="1.5"/><circle cx="1363.3" cy="365.5" r="1.5"/><circle cx="1445.9" cy="357.2" r="1.8"/><circle cx="1359.5" cy="290.5" r="1.7"/><circle cx="1446.9" cy="372.3" r="1.4"/><circle cx="1364.8" cy="381.9" r="1.5"/><circle cx="1416.1" cy="373.6" r="1.7"/><circle cx="1351.8" cy="312.1" r="1.8"/><circle cx="1364.8" cy="340.3" r="1.6"/><circle cx="1337.8" cy="359.0" r="1.2"/><circle cx="1335.2" cy="380.5" r="1.5"/><circle cx="1422.4" cy="332.0" r="1.5"/><circle cx="1355.1" cy="327.3" r="1.6"/></g>
<g fill="#33205a"><circle cx="1341.3" cy="401.2" r="2.4"/><circle cx="1443.9" cy="307.0" r="2.2"/><circle cx="1363.2" cy="401.3" r="2.2"/><circle cx="1373.8" cy="360.0" r="2.5"/><circle cx="1467.9" cy="340.9" r="2.2"/><circle cx="1411.5" cy="349.9" r="2.4"/></g>
</svg>
<rect x="1523.0" y="78.2" width="182.6" height="360.0" fill="#c3c3bc"/>
<svg x="1523.0" y="78.2" width="182.6" height="360.0" viewBox="1523.0 78.2 182.6 360.0" overflow="hidden">
<circle cx="1614.9" cy="165.1" r="90.0" fill="#cacac4" stroke="#96959a" stroke-width="1.2"/>
<circle cx="1614.9" cy="165.1" r="85.0" fill="none" stroke="#b0afaa" stroke-width="1.2"/>
<circle cx="1614.9" cy="165.1" r="82.0" fill="#cdc5d2" stroke="#7d5f9e" stroke-width="1.2"/>
<g fill="#7b5aa6"><circle cx="1582.7" cy="209.2" r="0.7"/><circle cx="1569.0" cy="191.0" r="0.7"/><circle cx="1583.5" cy="201.1" r="1.1"/><circle cx="1580.2" cy="108.0" r="0.9"/><circle cx="1651.1" cy="143.7" r="0.8"/><circle cx="1648.4" cy="176.2" r="1.3"/><circle cx="1605.0" cy="213.6" r="0.9"/><circle cx="1585.7" cy="149.0" r="1.3"/><circle cx="1678.1" cy="124.8" r="0.9"/><circle cx="1593.4" cy="143.2" r="0.9"/><circle cx="1596.9" cy="116.3" r="1.0"/><circle cx="1662.4" cy="171.6" r="1.2"/><circle cx="1624.9" cy="113.4" r="1.2"/><circle cx="1675.8" cy="130.1" r="0.7"/><circle cx="1617.4" cy="172.2" r="1.0"/><circle cx="1689.5" cy="189.3" r="1.2"/><circle cx="1545.1" cy="172.6" r="1.2"/><circle cx="1652.8" cy="229.0" r="0.8"/><circle cx="1636.4" cy="108.1" r="1.1"/><circle cx="1638.7" cy="124.4" r="0.8"/><circle cx="1657.4" cy="168.5" r="1.2"/><circle cx="1598.0" cy="139.2" r="1.3"/><circle cx="1642.5" cy="164.1" r="1.0"/><circle cx="1650.2" cy="198.4" r="1.2"/><circle cx="1600.6" cy="217.3" r="1.1"/><circle cx="1671.5" cy="214.0" r="1.2"/><circle cx="1637.3" cy="168.9" r="1.1"/><circle cx="1663.3" cy="152.6" r="1.0"/><circle cx="1558.3" cy="203.7" r="1.3"/><circle cx="1595.0" cy="111.9" r="0.8"/><circle cx="1602.9" cy="131.8" r="1.3"/><circle cx="1544.4" cy="134.5" r="0.8"/><circle cx="1638.6" cy="209.2" r="0.8"/><circle cx="1544.9" cy="158.5" r="1.1"/><circle cx="1569.7" cy="122.8" r="1.1"/><circle cx="1630.1" cy="120.9" r="0.8"/><circle cx="1579.9" cy="112.7" r="1.2"/><circle cx="1584.8" cy="172.8" r="1.2"/><circle cx="1611.6" cy="126.8" r="1.2"/><circle cx="1681.2" cy="139.8" r="1.0"/><circle cx="1688.0" cy="162.3" r="0.8"/><circle cx="1663.1" cy="146.7" r="1.0"/><circle cx="1617.4" cy="129.0" r="1.3"/><circle cx="1640.1" cy="123.1" r="0.7"/><circle cx="1610.5" cy="144.5" r="1.2"/><circle cx="1649.0" cy="182.1" r="0.8"/><circle cx="1560.0" cy="136.6" r="0.9"/><circle cx="1674.0" cy="167.7" r="1.1"/><circle cx="1620.4" cy="109.2" r="1.2"/><circle cx="1670.3" cy="216.6" r="0.7"/></g>
<g fill="#472b75"><circle cx="1578.5" cy="199.3" r="1.5"/><circle cx="1611.8" cy="160.1" r="2.1"/><circle cx="1628.6" cy="221.6" r="1.6"/><circle cx="1660.6" cy="152.0" r="2.0"/><circle cx="1568.8" cy="172.0" r="1.8"/><circle cx="1560.8" cy="217.6" r="1.6"/><circle cx="1585.0" cy="98.1" r="1.6"/><circle cx="1609.7" cy="199.1" r="1.7"/><circle cx="1644.5" cy="102.8" r="1.7"/><circle cx="1608.9" cy="238.9" r="2.0"/><circle cx="1595.5" cy="198.3" r="1.6"/><circle cx="1625.0" cy="158.5" r="1.4"/><circle cx="1568.6" cy="183.4" r="1.6"/><circle cx="1595.3" cy="171.4" r="1.6"/><circle cx="1589.2" cy="148.1" r="1.9"/><circle cx="1576.4" cy="117.7" r="1.9"/><circle cx="1587.9" cy="235.4" r="1.8"/><circle cx="1650.3" cy="138.5" r="2.0"/><circle cx="1550.8" cy="193.2" r="1.9"/><circle cx="1564.3" cy="149.7" r="2.0"/><circle cx="1629.6" cy="100.3" r="1.6"/><circle cx="1600.2" cy="97.6" r="2.0"/><circle cx="1603.4" cy="166.9" r="1.9"/><circle cx="1657.1" cy="215.8" r="1.7"/><circle cx="1588.3" cy="151.2" r="1.4"/><circle cx="1599.2" cy="196.7" r="2.1"/><circle cx="1660.7" cy="190.4" r="1.8"/><circle cx="1590.0" cy="188.9" r="1.5"/><circle cx="1595.6" cy="166.6" r="2.0"/><circle cx="1666.3" cy="182.7" r="1.5"/><circle cx="1657.0" cy="228.8" r="1.8"/><circle cx="1591.6" cy="165.2" r="1.5"/><circle cx="1617.4" cy="199.1" r="2.0"/><circle cx="1635.0" cy="117.4" r="1.5"/><circle cx="1574.5" cy="177.2" r="1.9"/><circle cx="1587.9" cy="232.9" r="1.7"/><circle cx="1609.1" cy="105.7" r="2.1"/><circle cx="1621.8" cy="174.7" r="1.8"/><circle cx="1577.7" cy="229.8" r="2.1"/><circle cx="1665.1" cy="181.1" r="1.5"/><circle cx="1666.2" cy="131.7" r="2.0"/><circle cx="1574.0" cy="176.7" r="2.0"/><circle cx="1565.2" cy="172.7" r="1.5"/><circle cx="1639.9" cy="134.7" r="1.9"/><circle cx="1652.5" cy="146.4" r="1.8"/><circle cx="1567.4" cy="160.0" r="1.5"/><circle cx="1596.9" cy="176.1" r="1.5"/><circle cx="1618.0" cy="127.8" r="1.8"/><circle cx="1588.4" cy="187.5" r="1.4"/><circle cx="1641.9" cy="109.0" r="2.1"/><circle cx="1630.7" cy="160.3" r="1.7"/><circle cx="1634.5" cy="195.0" r="1.9"/><circle cx="1654.7" cy="162.9" r="2.1"/><circle cx="1668.3" cy="221.2" r="1.7"/><circle cx="1604.5" cy="175.5" r="2.0"/><circle cx="1619.0" cy="169.1" r="1.7"/><circle cx="1678.8" cy="136.8" r="1.4"/><circle cx="1650.5" cy="228.3" r="1.9"/><circle cx="1630.3" cy="204.9" r="1.6"/><circle cx="1629.7" cy="97.1" r="1.5"/><circle cx="1606.5" cy="165.5" r="1.7"/><circle cx="1544.1" cy="195.9" r="1.8"/><circle cx="1573.7" cy="134.5" r="1.7"/><circle cx="1641.1" cy="223.0" r="1.7"/><circle cx="1663.1" cy="121.1" r="1.9"/><circle cx="1625.5" cy="228.8" r="1.5"/><circle cx="1661.1" cy="105.7" r="1.8"/><circle cx="1574.4" cy="133.4" r="1.6"/><circle cx="1664.7" cy="148.9" r="1.6"/><circle cx="1628.4" cy="93.4" r="1.4"/></g>
<g fill="#33205a"><circle cx="1677.1" cy="135.1" r="2.6"/><circle cx="1610.6" cy="119.3" r="2.4"/><circle cx="1567.4" cy="217.8" r="2.5"/><circle cx="1610.6" cy="113.9" r="2.9"/><circle cx="1635.6" cy="117.0" r="2.9"/><circle cx="1650.1" cy="135.9" r="2.9"/><circle cx="1672.6" cy="198.4" r="2.3"/><circle cx="1645.5" cy="233.4" r="2.6"/><circle cx="1584.8" cy="197.9" r="2.4"/><circle cx="1565.1" cy="123.8" r="2.7"/><circle cx="1660.2" cy="145.2" r="2.7"/><circle cx="1674.9" cy="179.1" r="2.4"/><circle cx="1583.8" cy="231.7" r="2.7"/><circle cx="1580.1" cy="186.9" r="2.3"/><circle cx="1690.3" cy="155.8" r="2.6"/><circle cx="1619.7" cy="94.2" r="2.7"/><circle cx="1581.3" cy="126.2" r="2.8"/><circle cx="1550.5" cy="131.6" r="2.8"/><circle cx="1575.3" cy="130.6" r="2.6"/><circle cx="1608.9" cy="204.2" r="2.5"/><circle cx="1681.9" cy="165.1" r="2.3"/><circle cx="1623.6" cy="187.7" r="2.5"/><circle cx="1639.6" cy="209.2" r="2.6"/><circle cx="1615.8" cy="219.0" r="2.7"/><circle cx="1618.1" cy="235.5" r="2.3"/><circle cx="1658.5" cy="112.9" r="2.7"/><circle cx="1573.6" cy="155.8" r="2.8"/><circle cx="1659.6" cy="210.5" r="2.4"/><circle cx="1613.2" cy="121.6" r="2.7"/><circle cx="1614.7" cy="92.6" r="2.7"/><circle cx="1648.4" cy="176.4" r="2.9"/><circle cx="1565.0" cy="110.8" r="2.2"/><circle cx="1614.3" cy="154.9" r="2.6"/><circle cx="1577.9" cy="211.7" r="2.3"/><circle cx="1678.4" cy="175.8" r="2.6"/><circle cx="1660.4" cy="124.2" r="2.3"/><circle cx="1585.4" cy="93.7" r="2.5"/><circle cx="1633.8" cy="169.1" r="2.4"/><circle cx="1628.7" cy="100.9" r="2.9"/><circle cx="1563.7" cy="126.9" r="2.3"/></g>
<circle cx="1612.3" cy="349.5" r="91.5" fill="#cacac4" stroke="#96959a" stroke-width="1.2"/>
<circle cx="1612.3" cy="349.5" r="86.5" fill="none" stroke="#b0afaa" stroke-width="1.2"/>
<circle cx="1612.3" cy="349.5" r="83.5" fill="#cdc5d2" stroke="#7d5f9e" stroke-width="1.2"/>
<g fill="#7b5aa6"><circle cx="1643.4" cy="403.4" r="1.2"/><circle cx="1540.8" cy="334.9" r="0.9"/><circle cx="1537.7" cy="347.8" r="1.2"/><circle cx="1605.0" cy="389.4" r="0.7"/><circle cx="1570.0" cy="413.1" r="0.8"/><circle cx="1594.8" cy="316.6" r="1.0"/><circle cx="1650.5" cy="305.5" r="0.9"/><circle cx="1620.8" cy="307.4" r="1.0"/><circle cx="1682.8" cy="327.3" r="0.9"/><circle cx="1690.7" cy="367.6" r="0.7"/><circle cx="1596.5" cy="373.9" r="0.7"/><circle cx="1586.7" cy="381.2" r="1.2"/><circle cx="1627.1" cy="412.5" r="1.0"/><circle cx="1594.8" cy="405.4" r="0.9"/><circle cx="1658.2" cy="303.1" r="0.9"/><circle cx="1560.7" cy="357.6" r="0.8"/><circle cx="1564.0" cy="303.0" r="1.0"/><circle cx="1581.1" cy="340.9" r="1.3"/><circle cx="1641.5" cy="408.6" r="0.8"/><circle cx="1593.2" cy="279.9" r="1.1"/><circle cx="1589.9" cy="312.7" r="0.7"/><circle cx="1560.5" cy="310.8" r="0.9"/><circle cx="1681.3" cy="384.6" r="0.9"/><circle cx="1589.7" cy="293.0" r="1.3"/><circle cx="1589.4" cy="392.8" r="1.1"/><circle cx="1583.3" cy="330.7" r="0.7"/><circle cx="1674.6" cy="321.0" r="1.2"/><circle cx="1615.4" cy="276.9" r="0.9"/><circle cx="1555.4" cy="365.0" r="0.7"/><circle cx="1581.7" cy="337.1" r="1.0"/><circle cx="1553.0" cy="383.2" r="0.9"/><circle cx="1649.1" cy="376.6" r="0.8"/><circle cx="1564.2" cy="313.7" r="1.1"/><circle cx="1596.9" cy="331.0" r="1.2"/><circle cx="1567.6" cy="315.6" r="0.9"/><circle cx="1534.8" cy="370.8" r="1.0"/><circle cx="1579.4" cy="377.3" r="1.3"/><circle cx="1566.0" cy="380.3" r="1.1"/><circle cx="1569.0" cy="371.1" r="0.8"/><circle cx="1600.5" cy="332.0" r="0.7"/><circle cx="1593.3" cy="321.5" r="1.0"/><circle cx="1576.4" cy="293.9" r="0.9"/><circle cx="1608.3" cy="295.2" r="1.1"/><circle cx="1569.9" cy="283.2" r="0.9"/><circle cx="1599.6" cy="292.6" r="1.0"/><circle cx="1645.1" cy="358.2" r="1.1"/><circle cx="1534.6" cy="331.8" r="0.9"/><circle cx="1541.1" cy="333.9" r="0.7"/><circle cx="1611.6" cy="363.5" r="1.0"/><circle cx="1583.9" cy="309.3" r="0.7"/><circle cx="1587.4" cy="413.4" r="1.0"/><circle cx="1573.5" cy="376.9" r="0.8"/><circle cx="1607.3" cy="368.3" r="1.3"/><circle cx="1589.9" cy="361.9" r="1.3"/><circle cx="1656.6" cy="370.3" r="1.1"/></g>
<g fill="#472b75"><circle cx="1598.0" cy="335.9" r="1.4"/><circle cx="1593.3" cy="415.4" r="1.2"/><circle cx="1553.7" cy="350.6" r="1.4"/><circle cx="1589.8" cy="426.3" r="1.3"/><circle cx="1562.8" cy="305.8" r="1.6"/><circle cx="1619.4" cy="332.4" r="1.3"/><circle cx="1611.3" cy="373.7" r="1.5"/><circle cx="1632.3" cy="359.3" r="1.7"/><circle cx="1687.8" cy="322.7" r="1.4"/><circle cx="1674.5" cy="319.5" r="1.6"/><circle cx="1643.8" cy="379.5" r="1.8"/><circle cx="1664.5" cy="294.7" r="1.6"/><circle cx="1610.8" cy="359.8" r="1.4"/><circle cx="1577.8" cy="389.6" r="1.5"/><circle cx="1570.0" cy="309.1" r="1.4"/><circle cx="1560.4" cy="351.7" r="1.3"/><circle cx="1548.3" cy="382.5" r="1.3"/><circle cx="1604.5" cy="393.3" r="1.5"/><circle cx="1558.0" cy="408.5" r="1.7"/><circle cx="1613.5" cy="397.2" r="1.4"/><circle cx="1647.1" cy="309.5" r="1.6"/><circle cx="1584.4" cy="322.7" r="1.7"/><circle cx="1667.5" cy="402.4" r="1.5"/><circle cx="1599.5" cy="382.8" r="1.6"/><circle cx="1665.6" cy="398.0" r="1.3"/><circle cx="1592.5" cy="376.8" r="1.3"/><circle cx="1626.1" cy="420.5" r="1.8"/><circle cx="1553.3" cy="379.7" r="1.5"/><circle cx="1633.5" cy="332.9" r="1.8"/><circle cx="1646.6" cy="288.1" r="1.2"/><circle cx="1577.9" cy="386.7" r="1.8"/><circle cx="1551.1" cy="322.1" r="1.2"/><circle cx="1619.2" cy="346.8" r="1.4"/><circle cx="1581.6" cy="397.9" r="1.7"/><circle cx="1577.5" cy="332.1" r="1.6"/><circle cx="1594.5" cy="380.7" r="1.5"/><circle cx="1660.6" cy="292.6" r="1.3"/><circle cx="1572.3" cy="347.6" r="1.3"/><circle cx="1622.9" cy="292.1" r="1.6"/><circle cx="1575.9" cy="305.6" r="1.5"/><circle cx="1590.7" cy="310.8" r="1.2"/><circle cx="1581.6" cy="281.6" r="1.3"/><circle cx="1609.6" cy="429.5" r="1.3"/><circle cx="1671.4" cy="347.0" r="1.4"/><circle cx="1661.7" cy="332.7" r="1.2"/><circle cx="1620.4" cy="374.8" r="1.6"/><circle cx="1576.4" cy="420.2" r="1.7"/><circle cx="1691.9" cy="340.4" r="1.7"/><circle cx="1648.5" cy="297.3" r="1.2"/><circle cx="1543.8" cy="326.8" r="1.7"/><circle cx="1581.7" cy="351.8" r="1.2"/><circle cx="1533.6" cy="353.9" r="1.7"/><circle cx="1659.4" cy="387.4" r="1.4"/><circle cx="1661.1" cy="402.3" r="1.7"/><circle cx="1684.8" cy="333.8" r="1.6"/><circle cx="1572.1" cy="415.5" r="1.2"/><circle cx="1624.7" cy="305.6" r="1.4"/><circle cx="1591.3" cy="374.8" r="1.7"/><circle cx="1590.5" cy="371.7" r="1.4"/><circle cx="1576.8" cy="414.7" r="1.4"/><circle cx="1547.0" cy="322.9" r="1.6"/><circle cx="1565.8" cy="388.7" r="1.5"/><circle cx="1641.3" cy="297.5" r="1.3"/><circle cx="1554.8" cy="325.4" r="1.5"/><circle cx="1533.3" cy="349.9" r="1.4"/><circle cx="1583.6" cy="355.5" r="1.8"/><circle cx="1564.8" cy="410.8" r="1.4"/><circle cx="1653.2" cy="286.4" r="1.8"/><circle cx="1601.0" cy="424.0" r="1.3"/><circle cx="1597.5" cy="382.7" r="1.3"/></g>
<g fill="#33205a"><circle cx="1576.3" cy="377.7" r="2.7"/><circle cx="1584.0" cy="299.2" r="2.2"/><circle cx="1633.7" cy="330.1" r="2.4"/><circle cx="1566.6" cy="368.0" r="2.6"/><circle cx="1669.0" cy="370.0" r="2.3"/><circle cx="1623.1" cy="288.1" r="2.6"/><circle cx="1642.5" cy="342.1" r="2.4"/><circle cx="1599.5" cy="331.2" r="2.1"/><circle cx="1628.3" cy="361.1" r="2.3"/><circle cx="1537.9" cy="369.7" r="2.3"/><circle cx="1627.1" cy="364.5" r="2.6"/><circle cx="1557.0" cy="344.5" r="2.7"/><circle cx="1650.1" cy="319.8" r="2.5"/><circle cx="1690.1" cy="333.9" r="2.6"/><circle cx="1610.9" cy="307.2" r="2.6"/></g>
</svg>
<rect x="1730.6" y="78.2" width="183.4" height="362.8" fill="#c3c3bc"/>
<svg x="1730.6" y="78.2" width="183.4" height="362.8" viewBox="1730.6 78.2 183.4 362.8" overflow="hidden">
<circle cx="1822.9" cy="167.9" r="90.0" fill="#cacac4" stroke="#96959a" stroke-width="1.2"/>
<circle cx="1822.9" cy="167.9" r="85.0" fill="none" stroke="#b0afaa" stroke-width="1.2"/>
<circle cx="1822.9" cy="167.9" r="82.0" fill="#cdc5d2" stroke="#7d5f9e" stroke-width="1.2"/>
<g fill="#7b5aa6"><circle cx="1846.8" cy="237.9" r="1.2"/><circle cx="1870.5" cy="169.8" r="1.3"/><circle cx="1856.8" cy="128.0" r="1.2"/><circle cx="1815.6" cy="173.7" r="1.2"/><circle cx="1774.3" cy="132.6" r="1.1"/><circle cx="1754.7" cy="176.7" r="1.2"/><circle cx="1821.4" cy="126.6" r="1.2"/><circle cx="1879.7" cy="211.2" r="1.0"/><circle cx="1767.2" cy="146.4" r="0.8"/><circle cx="1748.8" cy="143.2" r="1.2"/><circle cx="1772.0" cy="150.1" r="1.2"/><circle cx="1841.6" cy="232.2" r="0.7"/><circle cx="1843.6" cy="228.2" r="1.1"/><circle cx="1774.4" cy="194.8" r="1.0"/><circle cx="1793.4" cy="188.7" r="0.9"/><circle cx="1839.4" cy="199.1" r="0.8"/><circle cx="1763.4" cy="198.9" r="1.0"/><circle cx="1893.5" cy="185.5" r="0.9"/><circle cx="1853.6" cy="205.7" r="0.9"/><circle cx="1792.5" cy="153.2" r="0.8"/><circle cx="1843.9" cy="155.9" r="1.2"/><circle cx="1808.3" cy="161.0" r="1.0"/><circle cx="1893.6" cy="143.3" r="1.1"/><circle cx="1780.5" cy="180.6" r="0.9"/><circle cx="1882.5" cy="133.7" r="1.2"/><circle cx="1851.2" cy="160.7" r="1.3"/><circle cx="1804.9" cy="206.8" r="1.1"/><circle cx="1814.6" cy="98.2" r="1.0"/><circle cx="1787.9" cy="158.4" r="1.3"/><circle cx="1789.8" cy="199.1" r="1.1"/><circle cx="1782.1" cy="153.7" r="0.8"/><circle cx="1886.2" cy="128.2" r="1.0"/><circle cx="1797.6" cy="219.2" r="1.2"/><circle cx="1837.4" cy="175.2" r="0.8"/><circle cx="1801.1" cy="147.8" r="1.1"/><circle cx="1850.0" cy="142.9" r="1.2"/><circle cx="1844.2" cy="163.0" r="0.9"/><circle cx="1817.3" cy="138.5" r="1.1"/><circle cx="1839.8" cy="243.2" r="1.3"/><circle cx="1875.5" cy="191.9" r="1.1"/></g>
<g fill="#472b75"><circle cx="1816.9" cy="152.3" r="1.9"/><circle cx="1777.0" cy="147.3" r="1.5"/><circle cx="1806.3" cy="206.1" r="1.5"/><circle cx="1770.3" cy="191.4" r="1.8"/><circle cx="1861.1" cy="128.9" r="2.0"/><circle cx="1859.4" cy="211.5" r="1.5"/><circle cx="1817.9" cy="91.4" r="2.0"/><circle cx="1747.7" cy="144.4" r="1.8"/><circle cx="1828.2" cy="106.5" r="2.0"/><circle cx="1791.5" cy="169.1" r="1.5"/><circle cx="1833.6" cy="109.4" r="1.5"/><circle cx="1824.8" cy="135.3" r="1.9"/><circle cx="1782.9" cy="154.3" r="1.4"/><circle cx="1778.3" cy="160.3" r="1.8"/><circle cx="1816.5" cy="223.3" r="1.5"/><circle cx="1878.2" cy="113.4" r="2.1"/><circle cx="1826.8" cy="153.1" r="1.8"/><circle cx="1809.2" cy="90.6" r="1.5"/><circle cx="1873.2" cy="204.9" r="1.9"/><circle cx="1768.6" cy="172.8" r="1.4"/><circle cx="1761.3" cy="136.4" r="2.1"/><circle cx="1845.5" cy="222.8" r="1.4"/><circle cx="1809.6" cy="101.3" r="1.6"/><circle cx="1795.8" cy="166.2" r="1.9"/><circle cx="1833.6" cy="168.0" r="2.0"/><circle cx="1806.2" cy="136.2" r="1.9"/><circle cx="1784.7" cy="147.0" r="1.7"/><circle cx="1819.2" cy="145.5" r="1.7"/><circle cx="1815.1" cy="96.7" r="2.0"/><circle cx="1753.7" cy="172.3" r="1.8"/><circle cx="1807.1" cy="124.1" r="1.5"/><circle cx="1802.7" cy="138.6" r="1.7"/><circle cx="1780.3" cy="207.3" r="1.7"/><circle cx="1745.3" cy="153.1" r="2.1"/><circle cx="1895.7" cy="146.7" r="1.8"/><circle cx="1802.2" cy="136.5" r="1.8"/><circle cx="1837.0" cy="138.7" r="1.7"/><circle cx="1825.5" cy="208.0" r="1.4"/><circle cx="1758.6" cy="128.7" r="1.6"/><circle cx="1869.6" cy="156.1" r="2.0"/><circle cx="1807.5" cy="134.1" r="1.9"/><circle cx="1875.3" cy="140.8" r="1.6"/><circle cx="1873.4" cy="213.5" r="1.8"/><circle cx="1751.5" cy="187.6" r="1.8"/><circle cx="1890.4" cy="189.8" r="1.4"/><circle cx="1860.3" cy="155.0" r="1.9"/><circle cx="1813.5" cy="207.6" r="1.7"/><circle cx="1814.6" cy="157.9" r="1.5"/><circle cx="1794.4" cy="205.0" r="1.5"/><circle cx="1849.2" cy="175.5" r="1.5"/><circle cx="1762.6" cy="137.9" r="2.1"/><circle cx="1832.4" cy="234.6" r="1.5"/><circle cx="1809.4" cy="173.6" r="2.0"/><circle cx="1818.5" cy="93.9" r="1.7"/><circle cx="1803.5" cy="195.4" r="2.0"/><circle cx="1821.9" cy="197.9" r="1.7"/><circle cx="1866.9" cy="105.5" r="1.9"/><circle cx="1770.2" cy="181.5" r="1.5"/><circle cx="1798.6" cy="114.8" r="1.6"/><circle cx="1837.3" cy="171.1" r="1.7"/></g>
<g fill="#33205a"><circle cx="1834.5" cy="221.3" r="2.9"/><circle cx="1836.0" cy="164.9" r="3.6"/><circle cx="1796.1" cy="198.7" r="2.8"/><circle cx="1785.7" cy="203.8" r="3.1"/><circle cx="1785.0" cy="99.9" r="3.4"/><circle cx="1803.8" cy="201.7" r="3.0"/><circle cx="1841.3" cy="177.2" r="3.6"/><circle cx="1886.8" cy="161.0" r="3.0"/><circle cx="1781.0" cy="207.4" r="2.6"/><circle cx="1792.7" cy="222.1" r="2.5"/><circle cx="1853.9" cy="178.5" r="3.1"/><circle cx="1796.9" cy="113.5" r="3.5"/><circle cx="1864.2" cy="215.6" r="2.6"/><circle cx="1867.2" cy="124.0" r="2.7"/><circle cx="1828.4" cy="185.0" r="2.6"/><circle cx="1864.2" cy="180.8" r="3.5"/><circle cx="1889.0" cy="197.4" r="2.9"/><circle cx="1790.3" cy="223.7" r="3.3"/><circle cx="1786.2" cy="128.8" r="2.5"/><circle cx="1828.7" cy="129.5" r="2.8"/><circle cx="1784.3" cy="110.4" r="3.0"/><circle cx="1787.4" cy="134.4" r="2.8"/><circle cx="1824.3" cy="226.2" r="2.7"/><circle cx="1840.0" cy="174.7" r="3.3"/><circle cx="1828.3" cy="192.9" r="3.5"/><circle cx="1865.8" cy="130.4" r="2.6"/><circle cx="1891.0" cy="146.5" r="3.4"/><circle cx="1781.3" cy="160.5" r="2.9"/><circle cx="1858.7" cy="237.1" r="3.1"/><circle cx="1833.2" cy="144.3" r="2.8"/><circle cx="1891.6" cy="192.4" r="2.6"/><circle cx="1833.1" cy="108.6" r="3.6"/><circle cx="1793.2" cy="226.0" r="2.6"/><circle cx="1848.9" cy="100.5" r="2.5"/><circle cx="1834.0" cy="243.2" r="3.3"/><circle cx="1878.3" cy="212.3" r="3.1"/><circle cx="1756.9" cy="172.1" r="2.7"/><circle cx="1827.1" cy="145.2" r="3.0"/><circle cx="1775.7" cy="199.9" r="3.0"/><circle cx="1820.7" cy="102.2" r="3.0"/><circle cx="1831.9" cy="241.6" r="3.1"/><circle cx="1765.9" cy="136.7" r="2.9"/><circle cx="1854.4" cy="236.4" r="3.6"/><circle cx="1748.0" cy="166.3" r="3.1"/><circle cx="1851.9" cy="185.5" r="3.2"/><circle cx="1825.9" cy="239.6" r="2.5"/><circle cx="1852.3" cy="171.0" r="3.1"/><circle cx="1863.1" cy="215.9" r="2.5"/><circle cx="1808.5" cy="142.2" r="2.9"/><circle cx="1785.8" cy="181.3" r="3.1"/><circle cx="1797.2" cy="195.2" r="3.0"/><circle cx="1781.5" cy="227.5" r="2.7"/><circle cx="1768.3" cy="129.4" r="3.0"/><circle cx="1867.2" cy="141.8" r="2.8"/><circle cx="1847.0" cy="130.5" r="3.1"/><circle cx="1764.4" cy="167.9" r="2.5"/><circle cx="1765.9" cy="161.6" r="2.7"/><circle cx="1763.0" cy="139.9" r="3.3"/><circle cx="1760.6" cy="151.8" r="3.3"/><circle cx="1765.2" cy="160.4" r="2.8"/><circle cx="1774.6" cy="152.3" r="2.7"/><circle cx="1778.4" cy="144.5" r="2.7"/><circle cx="1774.3" cy="163.6" r="3.3"/><circle cx="1757.4" cy="165.0" r="2.7"/><circle cx="1762.1" cy="164.9" r="3.2"/><circle cx="1750.6" cy="155.1" r="2.2"/><circle cx="1755.0" cy="153.0" r="2.3"/><circle cx="1770.1" cy="149.8" r="2.5"/><circle cx="1776.2" cy="142.0" r="3.5"/><circle cx="1756.5" cy="165.8" r="2.4"/><circle cx="1761.5" cy="137.7" r="2.5"/><circle cx="1773.6" cy="162.8" r="3.4"/><circle cx="1762.6" cy="137.5" r="2.8"/><circle cx="1761.0" cy="156.9" r="2.6"/><circle cx="1768.9" cy="151.3" r="2.5"/><circle cx="1762.9" cy="155.8" r="2.6"/><circle cx="1767.2" cy="158.0" r="2.9"/><circle cx="1753.2" cy="149.9" r="3.3"/><circle cx="1749.5" cy="150.3" r="2.3"/><circle cx="1765.6" cy="157.3" r="2.6"/><circle cx="1765.9" cy="137.6" r="2.9"/><circle cx="1769.8" cy="160.7" r="3.0"/><circle cx="1761.0" cy="166.6" r="3.6"/><circle cx="1752.9" cy="156.0" r="3.4"/><circle cx="1758.1" cy="154.4" r="3.5"/></g>
<circle cx="1820.6" cy="352.3" r="91.5" fill="#cacac4" stroke="#96959a" stroke-width="1.2"/>
<circle cx="1820.6" cy="352.3" r="86.5" fill="none" stroke="#b0afaa" stroke-width="1.2"/>
<circle cx="1820.6" cy="352.3" r="83.5" fill="#cdc5d2" stroke="#7d5f9e" stroke-width="1.2"/>
<g fill="#7b5aa6"><circle cx="1863.4" cy="336.1" r="0.7"/><circle cx="1765.6" cy="299.0" r="1.1"/><circle cx="1774.9" cy="401.1" r="1.0"/><circle cx="1845.5" cy="346.6" r="0.8"/><circle cx="1840.0" cy="331.0" r="1.0"/><circle cx="1840.8" cy="322.5" r="0.9"/><circle cx="1883.2" cy="365.5" r="1.0"/><circle cx="1827.1" cy="345.8" r="0.9"/><circle cx="1888.0" cy="308.8" r="1.3"/><circle cx="1765.6" cy="353.7" r="1.3"/><circle cx="1786.2" cy="298.7" r="1.1"/><circle cx="1777.4" cy="365.9" r="0.8"/><circle cx="1893.5" cy="317.1" r="0.8"/><circle cx="1851.1" cy="327.4" r="1.0"/><circle cx="1820.1" cy="421.2" r="1.0"/><circle cx="1820.0" cy="314.7" r="1.0"/><circle cx="1842.1" cy="346.1" r="0.8"/><circle cx="1820.2" cy="349.3" r="1.1"/><circle cx="1811.3" cy="284.6" r="1.2"/><circle cx="1777.3" cy="405.9" r="1.2"/><circle cx="1780.6" cy="418.0" r="1.0"/><circle cx="1808.6" cy="361.3" r="1.3"/><circle cx="1818.9" cy="349.4" r="0.9"/><circle cx="1876.2" cy="352.8" r="0.9"/><circle cx="1771.1" cy="305.9" r="1.2"/><circle cx="1888.6" cy="382.5" r="1.2"/><circle cx="1855.1" cy="402.8" r="1.2"/><circle cx="1767.8" cy="403.6" r="0.9"/><circle cx="1778.9" cy="420.7" r="0.7"/><circle cx="1822.5" cy="326.7" r="1.2"/><circle cx="1838.6" cy="419.3" r="1.3"/><circle cx="1844.1" cy="281.3" r="1.1"/><circle cx="1881.1" cy="321.4" r="0.8"/><circle cx="1852.3" cy="394.4" r="1.3"/><circle cx="1840.6" cy="291.2" r="1.1"/><circle cx="1864.4" cy="398.8" r="1.2"/><circle cx="1831.9" cy="424.6" r="1.1"/><circle cx="1819.3" cy="333.5" r="0.9"/><circle cx="1868.8" cy="308.1" r="1.1"/><circle cx="1865.5" cy="384.0" r="1.0"/></g>
<g fill="#472b75"><circle cx="1791.0" cy="315.7" r="1.3"/><circle cx="1844.4" cy="382.3" r="1.8"/><circle cx="1793.3" cy="421.1" r="1.7"/><circle cx="1786.9" cy="425.1" r="1.6"/><circle cx="1793.8" cy="316.8" r="1.5"/><circle cx="1818.6" cy="277.5" r="1.7"/><circle cx="1826.3" cy="348.0" r="1.6"/><circle cx="1780.3" cy="303.9" r="1.5"/><circle cx="1779.0" cy="324.5" r="1.2"/><circle cx="1748.5" cy="329.0" r="1.5"/><circle cx="1892.9" cy="374.8" r="1.4"/><circle cx="1805.6" cy="309.7" r="1.5"/><circle cx="1809.8" cy="382.2" r="1.7"/><circle cx="1829.5" cy="375.0" r="1.8"/><circle cx="1885.4" cy="312.2" r="1.5"/><circle cx="1900.7" cy="356.8" r="1.3"/><circle cx="1764.3" cy="360.6" r="1.4"/><circle cx="1856.0" cy="388.8" r="1.4"/><circle cx="1863.6" cy="376.1" r="1.6"/><circle cx="1813.6" cy="341.4" r="1.3"/><circle cx="1816.6" cy="425.5" r="1.7"/><circle cx="1783.5" cy="383.6" r="1.5"/><circle cx="1760.7" cy="340.3" r="1.5"/><circle cx="1859.9" cy="336.7" r="1.6"/><circle cx="1849.8" cy="370.9" r="1.2"/><circle cx="1854.5" cy="292.5" r="1.2"/><circle cx="1816.4" cy="274.5" r="1.2"/><circle cx="1803.0" cy="347.2" r="1.3"/><circle cx="1818.5" cy="366.4" r="1.4"/><circle cx="1789.1" cy="307.4" r="1.7"/><circle cx="1822.0" cy="337.9" r="1.4"/><circle cx="1882.9" cy="313.2" r="1.7"/><circle cx="1854.1" cy="344.0" r="1.4"/><circle cx="1810.4" cy="344.7" r="1.4"/><circle cx="1840.5" cy="338.0" r="1.4"/><circle cx="1864.5" cy="345.1" r="1.5"/><circle cx="1881.7" cy="345.0" r="1.4"/><circle cx="1866.6" cy="336.4" r="1.6"/><circle cx="1859.4" cy="319.5" r="1.6"/><circle cx="1893.0" cy="377.4" r="1.6"/><circle cx="1810.2" cy="377.0" r="1.3"/><circle cx="1864.1" cy="358.6" r="1.8"/><circle cx="1795.1" cy="386.4" r="1.2"/><circle cx="1807.1" cy="395.2" r="1.4"/><circle cx="1838.9" cy="307.4" r="1.4"/></g>
<g fill="#33205a"><circle cx="1833.8" cy="403.4" r="2.6"/><circle cx="1803.3" cy="366.7" r="2.5"/><circle cx="1862.2" cy="391.5" r="2.4"/><circle cx="1781.1" cy="384.9" r="2.3"/><circle cx="1827.6" cy="429.7" r="2.0"/><circle cx="1865.2" cy="324.4" r="2.5"/><circle cx="1831.3" cy="356.8" r="2.3"/><circle cx="1767.7" cy="372.2" r="2.6"/><circle cx="1846.6" cy="318.8" r="2.5"/><circle cx="1807.9" cy="295.9" r="2.4"/><circle cx="1814.3" cy="357.0" r="2.7"/><circle cx="1831.6" cy="424.4" r="2.2"/></g>
</svg>
<text x="1343.06" y="58.00" style="font-family:'Liberation Sans', Arial, Helvetica, sans-serif;font-size:33.00px" fill="#000">BCap37</text>
<text x="1557.36" y="58.00" style="font-family:'Liberation Sans', Arial, Helvetica, sans-serif;font-size:33.00px" fill="#000">Bats-72</text>
<text x="1754.36" y="58.00" style="font-family:'Liberation Sans', Arial, Helvetica, sans-serif;font-size:33.00px" fill="#000">Bads-200</text>
<line x1="1311.50" y1="66.60" x2="1498.80" y2="66.60" stroke="#000" stroke-width="3.8" stroke-linecap="butt"/>
<line x1="1523.00" y1="66.60" x2="1705.60" y2="66.60" stroke="#000" stroke-width="3.8" stroke-linecap="butt"/>
<line x1="1729.80" y1="66.60" x2="1915.00" y2="66.60" stroke="#000" stroke-width="3.8" stroke-linecap="butt"/>
<line x1="1303.70" y1="78.30" x2="1303.70" y2="248.40" stroke="#000" stroke-width="3.5" stroke-linecap="butt"/>
<line x1="1303.70" y1="264.70" x2="1303.70" y2="438.00" stroke="#000" stroke-width="3.5" stroke-linecap="butt"/>
<text transform="translate(1291.80,170.50) rotate(-90)" x="-17.82" y="0" style="font-family:'Liberation Sans', Arial, Helvetica, sans-serif;font-size:24.00px" fill="#000">NC</text>
<text transform="translate(1292.40,355.00) rotate(-90)" x="-38.94" y="0" style="font-family:'Liberation Sans', Arial, Helvetica, sans-serif;font-size:24.00px" fill="#000">miR-93</text>
<line x1="126.75" y1="661.00" x2="126.75" y2="652.70" stroke="#0a0a06" stroke-width="3" stroke-linecap="butt"/>
<line x1="119.25" y1="652.70" x2="134.25" y2="652.70" stroke="#0a0a06" stroke-width="3" stroke-linecap="round"/>
<line x1="168.05" y1="787.00" x2="168.05" y2="781.30" stroke="#0a0a06" stroke-width="3" stroke-linecap="butt"/>
<line x1="160.55" y1="781.30" x2="175.55" y2="781.30" stroke="#0a0a06" stroke-width="3" stroke-linecap="round"/>
<rect x="105.30" y="660.00" width="42.90" height="233.40" fill="#0a0a06"/>
<rect x="146.70" y="787.50" width="39.70" height="105.90" fill="#fff" stroke="#0a0a06" stroke-width="3" stroke-linejoin="round"/>
<line x1="246.15" y1="657.30" x2="246.15" y2="644.50" stroke="#0a0a06" stroke-width="3" stroke-linecap="butt"/>
<line x1="238.65" y1="644.50" x2="253.65" y2="644.50" stroke="#0a0a06" stroke-width="3" stroke-linecap="round"/>
<line x1="287.60" y1="767.20" x2="287.60" y2="756.60" stroke="#0a0a06" stroke-width="3" stroke-linecap="butt"/>
<line x1="280.10" y1="756.60" x2="295.10" y2="756.60" stroke="#0a0a06" stroke-width="3" stroke-linecap="round"/>
<rect x="224.80" y="656.30" width="42.70" height="237.10" fill="#0a0a06"/>
<rect x="266.00" y="767.70" width="40.20" height="125.70" fill="#fff" stroke="#0a0a06" stroke-width="3" stroke-linejoin="round"/>
<line x1="366.05" y1="659.70" x2="366.05" y2="649.20" stroke="#0a0a06" stroke-width="3" stroke-linecap="butt"/>
<line x1="358.55" y1="649.20" x2="373.55" y2="649.20" stroke="#0a0a06" stroke-width="3" stroke-linecap="round"/>
<line x1="407.35" y1="799.20" x2="407.35" y2="792.20" stroke="#0a0a06" stroke-width="3" stroke-linecap="butt"/>
<line x1="399.85" y1="792.20" x2="414.85" y2="792.20" stroke="#0a0a06" stroke-width="3" stroke-linecap="round"/>
<rect x="344.60" y="658.70" width="42.90" height="234.70" fill="#0a0a06"/>
<rect x="386.00" y="799.70" width="39.70" height="93.70" fill="#fff" stroke="#0a0a06" stroke-width="3" stroke-linejoin="round"/>
<line x1="86.90" y1="620.70" x2="86.90" y2="895.70" stroke="#0a0a06" stroke-width="3.4" stroke-linecap="round"/>
<line x1="78.30" y1="893.40" x2="447.30" y2="893.40" stroke="#0a0a06" stroke-width="3.4" stroke-linecap="round"/>
<line x1="78.30" y1="893.40" x2="86.90" y2="893.40" stroke="#0a0a06" stroke-width="3.4" stroke-linecap="round"/>
<text x="37.69" y="900.99" style="font-family:'Liberation Sans', Arial, Helvetica, sans-serif;font-size:22.00px" fill="#000">0.0</text>
<line x1="78.30" y1="847.95" x2="86.90" y2="847.95" stroke="#0a0a06" stroke-width="3.4" stroke-linecap="round"/>
<text x="38.02" y="855.54" style="font-family:'Liberation Sans', Arial, Helvetica, sans-serif;font-size:22.00px" fill="#000">0.2</text>
<line x1="78.30" y1="802.50" x2="86.90" y2="802.50" stroke="#0a0a06" stroke-width="3.4" stroke-linecap="round"/>
<text x="37.58" y="810.09" style="font-family:'Liberation Sans', Arial, Helvetica, sans-serif;font-size:22.00px" fill="#000">0.4</text>
<line x1="78.30" y1="757.05" x2="86.90" y2="757.05" stroke="#0a0a06" stroke-width="3.4" stroke-linecap="round"/>
<text x="37.80" y="764.64" style="font-family:'Liberation Sans', Arial, Helvetica, sans-serif;font-size:22.00px" fill="#000">0.6</text>
<line x1="78.30" y1="711.60" x2="86.90" y2="711.60" stroke="#0a0a06" stroke-width="3.4" stroke-linecap="round"/>
<text x="37.80" y="719.19" style="font-family:'Liberation Sans', Arial, Helvetica, sans-serif;font-size:22.00px" fill="#000">0.8</text>
<line x1="78.30" y1="666.15" x2="86.90" y2="666.15" stroke="#0a0a06" stroke-width="3.4" stroke-linecap="round"/>
<text x="37.69" y="673.74" style="font-family:'Liberation Sans', Arial, Helvetica, sans-serif;font-size:22.00px" fill="#000">1.0</text>
<line x1="78.30" y1="620.70" x2="86.90" y2="620.70" stroke="#0a0a06" stroke-width="3.4" stroke-linecap="round"/>
<text x="38.02" y="628.40" style="font-family:'Liberation Sans', Arial, Helvetica, sans-serif;font-size:22.00px" fill="#000">1.2</text>
<line x1="147.00" y1="893.40" x2="147.00" y2="901.30" stroke="#0a0a06" stroke-width="3.4" stroke-linecap="round"/>
<line x1="266.60" y1="893.40" x2="266.60" y2="901.30" stroke="#0a0a06" stroke-width="3.4" stroke-linecap="round"/>
<line x1="386.20" y1="893.40" x2="386.20" y2="901.30" stroke="#0a0a06" stroke-width="3.4" stroke-linecap="round"/>
<text transform="translate(167.40,779.47) scale(0.67,1)" x="-15.25" y="0" style="font-family:'Liberation Serif', 'Times New Roman', serif;font-size:28.50px;letter-spacing:2.0px" fill="#000">**</text>
<text transform="translate(286.60,755.67) scale(0.67,1)" x="-7.12" y="0" style="font-family:'Liberation Serif', 'Times New Roman', serif;font-size:28.50px;letter-spacing:2.0px" fill="#000">*</text>
<text transform="translate(407.50,791.97) scale(0.67,1)" x="-15.25" y="0" style="font-family:'Liberation Serif', 'Times New Roman', serif;font-size:28.50px;letter-spacing:2.0px" fill="#000">**</text>
<rect x="132.00" y="602.00" width="38.00" height="15.00" fill="#0a0a06"/>
<rect x="275.00" y="604.50" width="34.50" height="10.60" fill="#fff" stroke="#0a0a06" stroke-width="3" stroke-linejoin="round"/>
<text x="180.90" y="614.40" style="font-family:'Liberation Sans', Arial, Helvetica, sans-serif;font-size:22.50px" fill="#000">NC</text>
<text x="324.84" y="614.40" style="font-family:'Liberation Sans', Arial, Helvetica, sans-serif;font-size:22.50px" fill="#000">miR-93</text>
<text transform="translate(19.83,756.00) rotate(-90)" x="-66.69" y="0" style="font-family:'Liberation Sans', Arial, Helvetica, sans-serif;font-size:22.80px" fill="#000">Relative Fold</text>
<text transform="translate(126.67,957.31) rotate(-42)" x="-44.10" y="0" style="font-family:'Liberation Sans', Arial, Helvetica, sans-serif;font-size:24.20px" fill="#000">BCap37</text>
<text transform="translate(247.59,956.60) rotate(-42)" x="-42.05" y="0" style="font-family:'Liberation Sans', Arial, Helvetica, sans-serif;font-size:24.20px" fill="#000">Bats-72</text>
<text transform="translate(360.39,956.53) rotate(-42)" x="-52.33" y="0" style="font-family:'Liberation Sans', Arial, Helvetica, sans-serif;font-size:24.20px" fill="#000">Bads-200</text>
<line x1="660.55" y1="701.00" x2="660.55" y2="696.50" stroke="#0a0a06" stroke-width="3" stroke-linecap="butt"/>
<line x1="650.55" y1="696.50" x2="670.55" y2="696.50" stroke="#0a0a06" stroke-width="3" stroke-linecap="round"/>
<line x1="702.00" y1="672.00" x2="702.00" y2="667.20" stroke="#0a0a06" stroke-width="3" stroke-linecap="butt"/>
<line x1="692.00" y1="667.20" x2="712.00" y2="667.20" stroke="#0a0a06" stroke-width="3" stroke-linecap="round"/>
<rect x="639.10" y="700.00" width="42.90" height="192.00" fill="#0a0a06"/>
<rect x="680.50" y="672.50" width="40.00" height="219.50" fill="#fff" stroke="#0a0a06" stroke-width="3" stroke-linejoin="round"/>
<line x1="780.70" y1="790.50" x2="780.70" y2="781.30" stroke="#0a0a06" stroke-width="3" stroke-linecap="butt"/>
<line x1="770.70" y1="781.30" x2="790.70" y2="781.30" stroke="#0a0a06" stroke-width="3" stroke-linecap="round"/>
<line x1="821.70" y1="819.20" x2="821.70" y2="816.00" stroke="#0a0a06" stroke-width="3" stroke-linecap="butt"/>
<line x1="811.70" y1="816.00" x2="831.70" y2="816.00" stroke="#0a0a06" stroke-width="3" stroke-linecap="round"/>
<rect x="759.50" y="789.50" width="42.40" height="102.50" fill="#0a0a06"/>
<rect x="800.40" y="819.70" width="39.60" height="72.30" fill="#fff" stroke="#0a0a06" stroke-width="3" stroke-linejoin="round"/>
<line x1="900.65" y1="845.10" x2="900.65" y2="840.00" stroke="#0a0a06" stroke-width="3" stroke-linecap="butt"/>
<line x1="890.65" y1="840.00" x2="910.65" y2="840.00" stroke="#0a0a06" stroke-width="3" stroke-linecap="round"/>
<line x1="941.55" y1="846.40" x2="941.55" y2="838.30" stroke="#0a0a06" stroke-width="3" stroke-linecap="butt"/>
<line x1="931.55" y1="838.30" x2="951.55" y2="838.30" stroke="#0a0a06" stroke-width="3" stroke-linecap="round"/>
<rect x="879.30" y="844.10" width="42.70" height="47.90" fill="#0a0a06"/>
<rect x="920.50" y="846.90" width="39.10" height="45.10" fill="#fff" stroke="#0a0a06" stroke-width="3" stroke-linejoin="round"/>
<line x1="621.40" y1="619.90" x2="621.40" y2="894.30" stroke="#0a0a06" stroke-width="3.4" stroke-linecap="round"/>
<line x1="612.10" y1="892.00" x2="981.90" y2="892.00" stroke="#0a0a06" stroke-width="3.4" stroke-linecap="round"/>
<line x1="612.10" y1="892.00" x2="621.40" y2="892.00" stroke="#0a0a06" stroke-width="3.4" stroke-linecap="round"/>
<text x="594.60" y="899.76" style="font-family:'Liberation Sans', Arial, Helvetica, sans-serif;font-size:22.50px" fill="#000">0</text>
<line x1="612.10" y1="823.98" x2="621.40" y2="823.98" stroke="#0a0a06" stroke-width="3.4" stroke-linecap="round"/>
<text x="582.11" y="831.74" style="font-family:'Liberation Sans', Arial, Helvetica, sans-serif;font-size:22.50px" fill="#000">20</text>
<line x1="612.10" y1="755.95" x2="621.40" y2="755.95" stroke="#0a0a06" stroke-width="3.4" stroke-linecap="round"/>
<text x="582.11" y="763.71" style="font-family:'Liberation Sans', Arial, Helvetica, sans-serif;font-size:22.50px" fill="#000">40</text>
<line x1="612.10" y1="687.92" x2="621.40" y2="687.92" stroke="#0a0a06" stroke-width="3.4" stroke-linecap="round"/>
<text x="582.11" y="695.69" style="font-family:'Liberation Sans', Arial, Helvetica, sans-serif;font-size:22.50px" fill="#000">60</text>
<line x1="612.10" y1="619.90" x2="621.40" y2="619.90" stroke="#0a0a06" stroke-width="3.4" stroke-linecap="round"/>
<text x="582.11" y="627.66" style="font-family:'Liberation Sans', Arial, Helvetica, sans-serif;font-size:22.50px" fill="#000">80</text>
<line x1="681.00" y1="892.00" x2="681.00" y2="899.90" stroke="#0a0a06" stroke-width="3.4" stroke-linecap="round"/>
<line x1="801.00" y1="892.00" x2="801.00" y2="899.90" stroke="#0a0a06" stroke-width="3.4" stroke-linecap="round"/>
<line x1="921.00" y1="892.00" x2="921.00" y2="899.90" stroke="#0a0a06" stroke-width="3.4" stroke-linecap="round"/>
<text transform="translate(700.70,668.17) scale(0.67,1)" x="-7.12" y="0" style="font-family:'Liberation Serif', 'Times New Roman', serif;font-size:28.50px;letter-spacing:2.0px" fill="#000">*</text>
<text transform="translate(820.40,816.67) scale(0.67,1)" x="-7.12" y="0" style="font-family:'Liberation Serif', 'Times New Roman', serif;font-size:28.50px;letter-spacing:2.0px" fill="#000">*</text>
<text x="932.19" y="830.21" style="font-family:'Liberation Serif', 'Times New Roman', serif;font-size:27.00px" fill="#000">ns</text>
<rect x="676.60" y="600.00" width="38.30" height="14.40" fill="#0a0a06"/>
<rect x="819.80" y="601.50" width="34.40" height="11.40" fill="#fff" stroke="#0a0a06" stroke-width="3" stroke-linejoin="round"/>
<text x="726.20" y="611.70" style="font-family:'Liberation Sans', Arial, Helvetica, sans-serif;font-size:22.50px" fill="#000">NC</text>
<text x="869.54" y="611.70" style="font-family:'Liberation Sans', Arial, Helvetica, sans-serif;font-size:22.50px" fill="#000">miR-93</text>
<text x="739.70" y="574.20" style="font-family:'Liberation Sans', Arial, Helvetica, sans-serif;font-size:31.20px;letter-spacing:1.40px" fill="#000">BCap37</text>
<text transform="translate(570.86,758.05) rotate(-90)" x="-95.74" y="0" style="font-family:'Liberation Sans', Arial, Helvetica, sans-serif;font-size:22.70px" fill="#000">Cell population (%)</text>
<text x="665.59" y="924.80" style="font-family:'Liberation Sans', Arial, Helvetica, sans-serif;font-size:23.00px" fill="#000">G1</text>
<text x="793.35" y="924.80" style="font-family:'Liberation Sans', Arial, Helvetica, sans-serif;font-size:23.00px" fill="#000">S</text>
<text x="905.65" y="924.80" style="font-family:'Liberation Sans', Arial, Helvetica, sans-serif;font-size:23.00px" fill="#000">G2</text>
<line x1="1110.85" y1="694.20" x2="1110.85" y2="685.80" stroke="#0a0a06" stroke-width="3" stroke-linecap="butt"/>
<line x1="1100.85" y1="685.80" x2="1120.85" y2="685.80" stroke="#0a0a06" stroke-width="3" stroke-linecap="round"/>
<line x1="1151.80" y1="663.40" x2="1151.80" y2="656.00" stroke="#0a0a06" stroke-width="3" stroke-linecap="butt"/>
<line x1="1141.80" y1="656.00" x2="1161.80" y2="656.00" stroke="#0a0a06" stroke-width="3" stroke-linecap="round"/>
<rect x="1089.50" y="693.20" width="42.70" height="198.10" fill="#0a0a06"/>
<rect x="1130.70" y="663.90" width="39.20" height="227.40" fill="#fff" stroke="#0a0a06" stroke-width="3" stroke-linejoin="round"/>
<line x1="1230.50" y1="788.90" x2="1230.50" y2="784.70" stroke="#0a0a06" stroke-width="3" stroke-linecap="butt"/>
<line x1="1220.50" y1="784.70" x2="1240.50" y2="784.70" stroke="#0a0a06" stroke-width="3" stroke-linecap="round"/>
<line x1="1271.45" y1="815.90" x2="1271.45" y2="812.60" stroke="#0a0a06" stroke-width="3" stroke-linecap="butt"/>
<line x1="1261.45" y1="812.60" x2="1281.45" y2="812.60" stroke="#0a0a06" stroke-width="3" stroke-linecap="round"/>
<rect x="1209.30" y="787.90" width="42.40" height="103.40" fill="#0a0a06"/>
<rect x="1250.20" y="816.40" width="39.50" height="74.90" fill="#fff" stroke="#0a0a06" stroke-width="3" stroke-linejoin="round"/>
<line x1="1350.40" y1="845.80" x2="1350.40" y2="840.60" stroke="#0a0a06" stroke-width="3" stroke-linecap="butt"/>
<line x1="1340.40" y1="840.60" x2="1360.40" y2="840.60" stroke="#0a0a06" stroke-width="3" stroke-linecap="round"/>
<line x1="1390.95" y1="851.20" x2="1390.95" y2="846.00" stroke="#0a0a06" stroke-width="3" stroke-linecap="butt"/>
<line x1="1380.95" y1="846.00" x2="1400.95" y2="846.00" stroke="#0a0a06" stroke-width="3" stroke-linecap="round"/>
<rect x="1329.40" y="844.80" width="42.00" height="46.50" fill="#0a0a06"/>
<rect x="1369.90" y="851.70" width="39.10" height="39.60" fill="#fff" stroke="#0a0a06" stroke-width="3" stroke-linejoin="round"/>
<line x1="1070.90" y1="618.40" x2="1070.90" y2="893.60" stroke="#0a0a06" stroke-width="3.4" stroke-linecap="round"/>
<line x1="1061.70" y1="891.30" x2="1431.30" y2="891.30" stroke="#0a0a06" stroke-width="3.4" stroke-linecap="round"/>
<line x1="1061.70" y1="891.30" x2="1070.90" y2="891.30" stroke="#0a0a06" stroke-width="3.4" stroke-linecap="round"/>
<text x="1043.50" y="899.06" style="font-family:'Liberation Sans', Arial, Helvetica, sans-serif;font-size:22.50px" fill="#000">0</text>
<line x1="1061.70" y1="823.07" x2="1070.90" y2="823.07" stroke="#0a0a06" stroke-width="3.4" stroke-linecap="round"/>
<text x="1031.01" y="830.84" style="font-family:'Liberation Sans', Arial, Helvetica, sans-serif;font-size:22.50px" fill="#000">20</text>
<line x1="1061.70" y1="754.85" x2="1070.90" y2="754.85" stroke="#0a0a06" stroke-width="3.4" stroke-linecap="round"/>
<text x="1031.01" y="762.61" style="font-family:'Liberation Sans', Arial, Helvetica, sans-serif;font-size:22.50px" fill="#000">40</text>
<line x1="1061.70" y1="686.62" x2="1070.90" y2="686.62" stroke="#0a0a06" stroke-width="3.4" stroke-linecap="round"/>
<text x="1031.01" y="694.39" style="font-family:'Liberation Sans', Arial, Helvetica, sans-serif;font-size:22.50px" fill="#000">60</text>
<line x1="1061.70" y1="618.40" x2="1070.90" y2="618.40" stroke="#0a0a06" stroke-width="3.4" stroke-linecap="round"/>
<text x="1031.01" y="626.16" style="font-family:'Liberation Sans', Arial, Helvetica, sans-serif;font-size:22.50px" fill="#000">80</text>
<line x1="1130.60" y1="891.30" x2="1130.60" y2="899.30" stroke="#0a0a06" stroke-width="3.4" stroke-linecap="round"/>
<line x1="1251.00" y1="891.30" x2="1251.00" y2="899.30" stroke="#0a0a06" stroke-width="3.4" stroke-linecap="round"/>
<line x1="1370.50" y1="891.30" x2="1370.50" y2="899.30" stroke="#0a0a06" stroke-width="3.4" stroke-linecap="round"/>
<text transform="translate(1150.50,658.37) scale(0.67,1)" x="-7.12" y="0" style="font-family:'Liberation Serif', 'Times New Roman', serif;font-size:28.50px;letter-spacing:2.0px" fill="#000">*</text>
<text transform="translate(1270.30,813.47) scale(0.67,1)" x="-7.12" y="0" style="font-family:'Liberation Serif', 'Times New Roman', serif;font-size:28.50px;letter-spacing:2.0px" fill="#000">*</text>
<text x="1379.19" y="838.21" style="font-family:'Liberation Serif', 'Times New Roman', serif;font-size:27.00px" fill="#000">ns</text>
<rect x="1125.80" y="598.50" width="38.60" height="14.10" fill="#0a0a06"/>
<rect x="1269.20" y="600.00" width="34.00" height="11.10" fill="#fff" stroke="#0a0a06" stroke-width="3" stroke-linejoin="round"/>
<text x="1176.00" y="610.40" style="font-family:'Liberation Sans', Arial, Helvetica, sans-serif;font-size:22.50px" fill="#000">NC</text>
<text x="1319.24" y="610.40" style="font-family:'Liberation Sans', Arial, Helvetica, sans-serif;font-size:22.50px" fill="#000">miR-93</text>
<text x="1191.40" y="572.80" style="font-family:'Liberation Sans', Arial, Helvetica, sans-serif;font-size:31.20px" fill="#000">Bats-72</text>
<text transform="translate(1020.88,755.70) rotate(-90)" x="-95.32" y="0" style="font-family:'Liberation Sans', Arial, Helvetica, sans-serif;font-size:22.60px" fill="#000">Cell population (%)</text>
<text x="1115.19" y="924.50" style="font-family:'Liberation Sans', Arial, Helvetica, sans-serif;font-size:23.00px" fill="#000">G1</text>
<text x="1243.35" y="924.50" style="font-family:'Liberation Sans', Arial, Helvetica, sans-serif;font-size:23.00px" fill="#000">S</text>
<text x="1355.15" y="924.50" style="font-family:'Liberation Sans', Arial, Helvetica, sans-serif;font-size:23.00px" fill="#000">G2</text>
<line x1="1563.30" y1="710.00" x2="1563.30" y2="705.10" stroke="#0a0a06" stroke-width="3" stroke-linecap="butt"/>
<line x1="1553.30" y1="705.10" x2="1573.30" y2="705.10" stroke="#0a0a06" stroke-width="3" stroke-linecap="round"/>
<line x1="1604.55" y1="688.40" x2="1604.55" y2="684.20" stroke="#0a0a06" stroke-width="3" stroke-linecap="butt"/>
<line x1="1594.55" y1="684.20" x2="1614.55" y2="684.20" stroke="#0a0a06" stroke-width="3" stroke-linecap="round"/>
<rect x="1542.10" y="709.00" width="42.40" height="181.70" fill="#0a0a06"/>
<rect x="1583.00" y="688.90" width="40.10" height="201.80" fill="#fff" stroke="#0a0a06" stroke-width="3" stroke-linejoin="round"/>
<line x1="1684.55" y1="761.30" x2="1684.55" y2="750.70" stroke="#0a0a06" stroke-width="3" stroke-linecap="butt"/>
<line x1="1674.55" y1="750.70" x2="1694.55" y2="750.70" stroke="#0a0a06" stroke-width="3" stroke-linecap="round"/>
<line x1="1725.65" y1="792.80" x2="1725.65" y2="790.20" stroke="#0a0a06" stroke-width="3" stroke-linecap="butt"/>
<line x1="1715.65" y1="790.20" x2="1735.65" y2="790.20" stroke="#0a0a06" stroke-width="3" stroke-linecap="round"/>
<rect x="1663.20" y="760.30" width="42.70" height="130.40" fill="#0a0a06"/>
<rect x="1704.40" y="793.30" width="39.50" height="97.40" fill="#fff" stroke="#0a0a06" stroke-width="3" stroke-linejoin="round"/>
<line x1="1806.20" y1="857.60" x2="1806.20" y2="844.80" stroke="#0a0a06" stroke-width="3" stroke-linecap="butt"/>
<line x1="1796.20" y1="844.80" x2="1816.20" y2="844.80" stroke="#0a0a06" stroke-width="3" stroke-linecap="round"/>
<line x1="1847.25" y1="848.30" x2="1847.25" y2="843.20" stroke="#0a0a06" stroke-width="3" stroke-linecap="butt"/>
<line x1="1837.25" y1="843.20" x2="1857.25" y2="843.20" stroke="#0a0a06" stroke-width="3" stroke-linecap="round"/>
<rect x="1785.20" y="856.60" width="42.00" height="34.10" fill="#0a0a06"/>
<rect x="1825.70" y="848.80" width="40.10" height="41.90" fill="#fff" stroke="#0a0a06" stroke-width="3" stroke-linejoin="round"/>
<line x1="1522.90" y1="618.40" x2="1522.90" y2="893.00" stroke="#0a0a06" stroke-width="3.4" stroke-linecap="round"/>
<line x1="1513.30" y1="890.70" x2="1883.00" y2="890.70" stroke="#0a0a06" stroke-width="3.4" stroke-linecap="round"/>
<line x1="1513.30" y1="890.70" x2="1522.90" y2="890.70" stroke="#0a0a06" stroke-width="3.4" stroke-linecap="round"/>
<text x="1496.10" y="898.46" style="font-family:'Liberation Sans', Arial, Helvetica, sans-serif;font-size:22.50px" fill="#000">0</text>
<line x1="1513.30" y1="822.62" x2="1522.90" y2="822.62" stroke="#0a0a06" stroke-width="3.4" stroke-linecap="round"/>
<text x="1483.61" y="830.39" style="font-family:'Liberation Sans', Arial, Helvetica, sans-serif;font-size:22.50px" fill="#000">20</text>
<line x1="1513.30" y1="754.55" x2="1522.90" y2="754.55" stroke="#0a0a06" stroke-width="3.4" stroke-linecap="round"/>
<text x="1483.61" y="762.31" style="font-family:'Liberation Sans', Arial, Helvetica, sans-serif;font-size:22.50px" fill="#000">40</text>
<line x1="1513.30" y1="686.48" x2="1522.90" y2="686.48" stroke="#0a0a06" stroke-width="3.4" stroke-linecap="round"/>
<text x="1483.61" y="694.24" style="font-family:'Liberation Sans', Arial, Helvetica, sans-serif;font-size:22.50px" fill="#000">60</text>
<line x1="1513.30" y1="618.40" x2="1522.90" y2="618.40" stroke="#0a0a06" stroke-width="3.4" stroke-linecap="round"/>
<text x="1483.61" y="626.16" style="font-family:'Liberation Sans', Arial, Helvetica, sans-serif;font-size:22.50px" fill="#000">80</text>
<line x1="1582.90" y1="890.70" x2="1582.90" y2="898.80" stroke="#0a0a06" stroke-width="3.4" stroke-linecap="round"/>
<line x1="1702.70" y1="890.70" x2="1702.70" y2="898.80" stroke="#0a0a06" stroke-width="3.4" stroke-linecap="round"/>
<line x1="1823.00" y1="890.70" x2="1823.00" y2="898.80" stroke="#0a0a06" stroke-width="3.4" stroke-linecap="round"/>
<text transform="translate(1604.70,684.07) scale(0.67,1)" x="-7.12" y="0" style="font-family:'Liberation Serif', 'Times New Roman', serif;font-size:28.50px;letter-spacing:2.0px" fill="#000">*</text>
<text transform="translate(1726.10,792.67) scale(0.67,1)" x="-7.12" y="0" style="font-family:'Liberation Serif', 'Times New Roman', serif;font-size:28.50px;letter-spacing:2.0px" fill="#000">*</text>
<text x="1834.39" y="834.91" style="font-family:'Liberation Serif', 'Times New Roman', serif;font-size:27.00px" fill="#000">ns</text>
<rect x="1578.40" y="598.50" width="38.60" height="14.10" fill="#0a0a06"/>
<rect x="1721.20" y="600.00" width="34.50" height="11.10" fill="#fff" stroke="#0a0a06" stroke-width="3" stroke-linejoin="round"/>
<text x="1628.00" y="610.40" style="font-family:'Liberation Sans', Arial, Helvetica, sans-serif;font-size:22.50px" fill="#000">NC</text>
<text x="1770.84" y="610.40" style="font-family:'Liberation Sans', Arial, Helvetica, sans-serif;font-size:22.50px" fill="#000">miR-93</text>
<text x="1642.40" y="572.80" style="font-family:'Liberation Sans', Arial, Helvetica, sans-serif;font-size:31.20px" fill="#000">Bads-200</text>
<text transform="translate(1475.01,755.70) rotate(-90)" x="-94.89" y="0" style="font-family:'Liberation Sans', Arial, Helvetica, sans-serif;font-size:22.50px" fill="#000">Cell population (%)</text>
<text x="1567.49" y="924.50" style="font-family:'Liberation Sans', Arial, Helvetica, sans-serif;font-size:23.00px" fill="#000">G1</text>
<text x="1695.05" y="924.50" style="font-family:'Liberation Sans', Arial, Helvetica, sans-serif;font-size:23.00px" fill="#000">S</text>
<text x="1807.65" y="924.50" style="font-family:'Liberation Sans', Arial, Helvetica, sans-serif;font-size:23.00px" fill="#000">G2</text>
<line x1="295.00" y1="1126.30" x2="295.00" y2="1403.65" stroke="#0a0a06" stroke-width="3.9" stroke-linecap="round"/>
<line x1="285.75" y1="1395.40" x2="637.25" y2="1395.40" stroke="#0a0a06" stroke-width="3.9" stroke-linecap="round"/>
<line x1="285.75" y1="1395.40" x2="295.00" y2="1395.40" stroke="#0a0a06" stroke-width="3.9" stroke-linecap="round"/>
<text x="265.44" y="1403.34" style="font-family:'Liberation Sans', Arial, Helvetica, sans-serif;font-size:23.00px" fill="#000">0</text>
<line x1="285.75" y1="1350.55" x2="295.00" y2="1350.55" stroke="#0a0a06" stroke-width="3.9" stroke-linecap="round"/>
<text x="252.67" y="1358.49" style="font-family:'Liberation Sans', Arial, Helvetica, sans-serif;font-size:23.00px" fill="#000">20</text>
<line x1="285.75" y1="1305.70" x2="295.00" y2="1305.70" stroke="#0a0a06" stroke-width="3.9" stroke-linecap="round"/>
<text x="252.67" y="1313.63" style="font-family:'Liberation Sans', Arial, Helvetica, sans-serif;font-size:23.00px" fill="#000">40</text>
<line x1="285.75" y1="1260.85" x2="295.00" y2="1260.85" stroke="#0a0a06" stroke-width="3.9" stroke-linecap="round"/>
<text x="252.67" y="1268.78" style="font-family:'Liberation Sans', Arial, Helvetica, sans-serif;font-size:23.00px" fill="#000">60</text>
<line x1="285.75" y1="1216.00" x2="295.00" y2="1216.00" stroke="#0a0a06" stroke-width="3.9" stroke-linecap="round"/>
<text x="252.67" y="1223.93" style="font-family:'Liberation Sans', Arial, Helvetica, sans-serif;font-size:23.00px" fill="#000">80</text>
<line x1="285.75" y1="1171.15" x2="295.00" y2="1171.15" stroke="#0a0a06" stroke-width="3.9" stroke-linecap="round"/>
<text x="239.91" y="1179.09" style="font-family:'Liberation Sans', Arial, Helvetica, sans-serif;font-size:23.00px" fill="#000">100</text>
<line x1="285.75" y1="1126.30" x2="295.00" y2="1126.30" stroke="#0a0a06" stroke-width="3.9" stroke-linecap="round"/>
<text x="239.91" y="1134.23" style="font-family:'Liberation Sans', Arial, Helvetica, sans-serif;font-size:23.00px" fill="#000">120</text>
<line x1="295.00" y1="1395.40" x2="295.00" y2="1403.65" stroke="#0a0a06" stroke-width="3.9" stroke-linecap="round"/>
<line x1="343.90" y1="1395.40" x2="343.90" y2="1403.65" stroke="#0a0a06" stroke-width="3.9" stroke-linecap="round"/>
<line x1="392.70" y1="1395.40" x2="392.70" y2="1403.65" stroke="#0a0a06" stroke-width="3.9" stroke-linecap="round"/>
<line x1="440.80" y1="1395.40" x2="440.80" y2="1403.65" stroke="#0a0a06" stroke-width="3.9" stroke-linecap="round"/>
<line x1="490.00" y1="1395.40" x2="490.00" y2="1403.65" stroke="#0a0a06" stroke-width="3.9" stroke-linecap="round"/>
<line x1="538.10" y1="1395.40" x2="538.10" y2="1403.65" stroke="#0a0a06" stroke-width="3.9" stroke-linecap="round"/>
<line x1="587.20" y1="1395.40" x2="587.20" y2="1403.65" stroke="#0a0a06" stroke-width="3.9" stroke-linecap="round"/>
<line x1="295.00" y1="1169.13" x2="295.00" y2="1173.62" stroke="#0a0a06" stroke-width="3.6" stroke-linecap="butt"/>
<line x1="287.00" y1="1169.13" x2="303.00" y2="1169.13" stroke="#0a0a06" stroke-width="3.6" stroke-linecap="butt"/>
<line x1="287.00" y1="1173.62" x2="303.00" y2="1173.62" stroke="#0a0a06" stroke-width="3.6" stroke-linecap="butt"/>
<line x1="343.90" y1="1170.70" x2="343.90" y2="1175.19" stroke="#0a0a06" stroke-width="3.6" stroke-linecap="butt"/>
<line x1="335.90" y1="1170.70" x2="351.90" y2="1170.70" stroke="#0a0a06" stroke-width="3.6" stroke-linecap="butt"/>
<line x1="335.90" y1="1175.19" x2="351.90" y2="1175.19" stroke="#0a0a06" stroke-width="3.6" stroke-linecap="butt"/>
<line x1="392.70" y1="1180.34" x2="392.70" y2="1196.94" stroke="#0a0a06" stroke-width="3.6" stroke-linecap="butt"/>
<line x1="384.70" y1="1180.34" x2="400.70" y2="1180.34" stroke="#0a0a06" stroke-width="3.6" stroke-linecap="butt"/>
<line x1="384.70" y1="1196.94" x2="400.70" y2="1196.94" stroke="#0a0a06" stroke-width="3.6" stroke-linecap="butt"/>
<line x1="440.80" y1="1222.73" x2="440.80" y2="1243.58" stroke="#0a0a06" stroke-width="3.6" stroke-linecap="butt"/>
<line x1="432.80" y1="1222.73" x2="448.80" y2="1222.73" stroke="#0a0a06" stroke-width="3.6" stroke-linecap="butt"/>
<line x1="432.80" y1="1243.58" x2="448.80" y2="1243.58" stroke="#0a0a06" stroke-width="3.6" stroke-linecap="butt"/>
<line x1="490.00" y1="1259.06" x2="490.00" y2="1263.54" stroke="#0a0a06" stroke-width="3.6" stroke-linecap="butt"/>
<line x1="482.00" y1="1259.06" x2="498.00" y2="1259.06" stroke="#0a0a06" stroke-width="3.6" stroke-linecap="butt"/>
<line x1="482.00" y1="1263.54" x2="498.00" y2="1263.54" stroke="#0a0a06" stroke-width="3.6" stroke-linecap="butt"/>
<line x1="538.10" y1="1307.05" x2="538.10" y2="1311.53" stroke="#0a0a06" stroke-width="3.6" stroke-linecap="butt"/>
<line x1="530.10" y1="1307.05" x2="546.10" y2="1307.05" stroke="#0a0a06" stroke-width="3.6" stroke-linecap="butt"/>
<line x1="530.10" y1="1311.53" x2="546.10" y2="1311.53" stroke="#0a0a06" stroke-width="3.6" stroke-linecap="butt"/>
<line x1="587.20" y1="1331.26" x2="587.20" y2="1335.75" stroke="#0a0a06" stroke-width="3.6" stroke-linecap="butt"/>
<line x1="579.20" y1="1331.26" x2="595.20" y2="1331.26" stroke="#0a0a06" stroke-width="3.6" stroke-linecap="butt"/>
<line x1="579.20" y1="1335.75" x2="595.20" y2="1335.75" stroke="#0a0a06" stroke-width="3.6" stroke-linecap="butt"/>
<path d="M295.00,1171.37 L343.90,1172.94 L392.70,1188.87 L440.80,1233.04 L490.00,1261.30 L538.10,1309.29 L587.20,1333.51" fill="none" stroke="#0a0a06" stroke-width="3.6" stroke-linejoin="round"/>
<circle cx="295.00" cy="1171.37" r="8.50" fill="#0a0a06"/>
<circle cx="343.90" cy="1172.94" r="8.50" fill="#0a0a06"/>
<circle cx="392.70" cy="1188.87" r="8.50" fill="#0a0a06"/>
<circle cx="440.80" cy="1233.04" r="8.50" fill="#0a0a06"/>
<circle cx="490.00" cy="1261.30" r="8.50" fill="#0a0a06"/>
<circle cx="538.10" cy="1309.29" r="8.50" fill="#0a0a06"/>
<circle cx="587.20" cy="1333.51" r="8.50" fill="#0a0a06"/>
<line x1="295.00" y1="1168.91" x2="295.00" y2="1173.39" stroke="#302a5a" stroke-width="3.6" stroke-linecap="butt"/>
<line x1="287.00" y1="1168.91" x2="303.00" y2="1168.91" stroke="#302a5a" stroke-width="3.6" stroke-linecap="butt"/>
<line x1="287.00" y1="1173.39" x2="303.00" y2="1173.39" stroke="#302a5a" stroke-width="3.6" stroke-linecap="butt"/>
<line x1="343.90" y1="1184.16" x2="343.90" y2="1188.64" stroke="#302a5a" stroke-width="3.6" stroke-linecap="butt"/>
<line x1="335.90" y1="1184.16" x2="351.90" y2="1184.16" stroke="#302a5a" stroke-width="3.6" stroke-linecap="butt"/>
<line x1="335.90" y1="1188.64" x2="351.90" y2="1188.64" stroke="#302a5a" stroke-width="3.6" stroke-linecap="butt"/>
<line x1="392.70" y1="1217.79" x2="392.70" y2="1242.01" stroke="#302a5a" stroke-width="3.6" stroke-linecap="butt"/>
<line x1="384.70" y1="1217.79" x2="400.70" y2="1217.79" stroke="#302a5a" stroke-width="3.6" stroke-linecap="butt"/>
<line x1="384.70" y1="1242.01" x2="400.70" y2="1242.01" stroke="#302a5a" stroke-width="3.6" stroke-linecap="butt"/>
<line x1="440.80" y1="1254.12" x2="440.80" y2="1258.61" stroke="#302a5a" stroke-width="3.6" stroke-linecap="butt"/>
<line x1="432.80" y1="1254.12" x2="448.80" y2="1254.12" stroke="#302a5a" stroke-width="3.6" stroke-linecap="butt"/>
<line x1="432.80" y1="1258.61" x2="448.80" y2="1258.61" stroke="#302a5a" stroke-width="3.6" stroke-linecap="butt"/>
<line x1="490.00" y1="1295.16" x2="490.00" y2="1299.65" stroke="#302a5a" stroke-width="3.6" stroke-linecap="butt"/>
<line x1="482.00" y1="1295.16" x2="498.00" y2="1295.16" stroke="#302a5a" stroke-width="3.6" stroke-linecap="butt"/>
<line x1="482.00" y1="1299.65" x2="498.00" y2="1299.65" stroke="#302a5a" stroke-width="3.6" stroke-linecap="butt"/>
<line x1="538.10" y1="1321.62" x2="538.10" y2="1326.11" stroke="#302a5a" stroke-width="3.6" stroke-linecap="butt"/>
<line x1="530.10" y1="1321.62" x2="546.10" y2="1321.62" stroke="#302a5a" stroke-width="3.6" stroke-linecap="butt"/>
<line x1="530.10" y1="1326.11" x2="546.10" y2="1326.11" stroke="#302a5a" stroke-width="3.6" stroke-linecap="butt"/>
<line x1="587.20" y1="1349.65" x2="587.20" y2="1354.14" stroke="#302a5a" stroke-width="3.6" stroke-linecap="butt"/>
<line x1="579.20" y1="1349.65" x2="595.20" y2="1349.65" stroke="#302a5a" stroke-width="3.6" stroke-linecap="butt"/>
<line x1="579.20" y1="1354.14" x2="595.20" y2="1354.14" stroke="#302a5a" stroke-width="3.6" stroke-linecap="butt"/>
<path d="M295.00,1171.15 L343.90,1186.40 L392.70,1229.68 L440.80,1256.37 L490.00,1297.40 L538.10,1323.86 L587.20,1351.90" fill="none" stroke="#302a5a" stroke-width="3.6" stroke-linejoin="round"/>
<rect x="286.50" y="1162.65" width="17.00" height="17.00" fill="#302a5a"/>
<rect x="335.40" y="1177.90" width="17.00" height="17.00" fill="#302a5a"/>
<rect x="384.20" y="1221.18" width="17.00" height="17.00" fill="#302a5a"/>
<rect x="432.30" y="1247.87" width="17.00" height="17.00" fill="#302a5a"/>
<rect x="481.50" y="1288.90" width="17.00" height="17.00" fill="#302a5a"/>
<rect x="529.60" y="1315.36" width="17.00" height="17.00" fill="#302a5a"/>
<rect x="578.70" y="1343.40" width="17.00" height="17.00" fill="#302a5a"/>
<line x1="520.40" y1="1110.70" x2="560.60" y2="1110.70" stroke="#0a0a06" stroke-width="3.6" stroke-linecap="butt"/>
<circle cx="540.50" cy="1110.70" r="8.50" fill="#0a0a06"/>
<text x="578.96" y="1119.90" style="font-family:'Liberation Sans', Arial, Helvetica, sans-serif;font-size:23.00px" fill="#000">NC</text>
<line x1="520.40" y1="1146.10" x2="560.60" y2="1146.10" stroke="#302a5a" stroke-width="3.6" stroke-linecap="butt"/>
<rect x="532.00" y="1137.60" width="17.00" height="17.00" fill="#302a5a"/>
<text x="577.11" y="1155.20" style="font-family:'Liberation Sans', Arial, Helvetica, sans-serif;font-size:23.00px" fill="#000">miR-93</text>
<path d="M514.10,1108.10 L500.80,1108.10 L500.80,1149.40 L514.10,1149.40" fill="none" stroke="#0a0a06" stroke-width="3"/>
<text transform="translate(482.50,1144.17) scale(0.67,1)" x="-15.25" y="0" style="font-family:'Liberation Serif', 'Times New Roman', serif;font-size:28.50px;letter-spacing:2.0px" fill="#000">**</text>
<text x="390.96" y="1080.30" style="font-family:'Liberation Sans', Arial, Helvetica, sans-serif;font-size:33.00px;letter-spacing:1.40px" fill="#000">BCap37</text>
<text transform="translate(230.60,1255.05) rotate(-90)" x="-134.04" y="0" style="font-family:'Liberation Sans', Arial, Helvetica, sans-serif;font-size:24.00px" fill="#000">Realtive Cell Viability (%)</text>
<text transform="translate(291.74,1429.32) rotate(-30)" x="-5.74" y="0" style="font-family:'Liberation Sans', Arial, Helvetica, sans-serif;font-size:20.50px" fill="#000">0</text>
<text transform="translate(340.64,1429.32) rotate(-30)" x="-6.00" y="0" style="font-family:'Liberation Sans', Arial, Helvetica, sans-serif;font-size:20.50px" fill="#000">1</text>
<text transform="translate(391.69,1430.91) rotate(-30)" x="-5.69" y="0" style="font-family:'Liberation Sans', Arial, Helvetica, sans-serif;font-size:20.50px" fill="#000">2</text>
<text transform="translate(438.94,1429.32) rotate(-30)" x="-5.59" y="0" style="font-family:'Liberation Sans', Arial, Helvetica, sans-serif;font-size:20.50px" fill="#000">4</text>
<text transform="translate(488.04,1429.82) rotate(-30)" x="-5.74" y="0" style="font-family:'Liberation Sans', Arial, Helvetica, sans-serif;font-size:20.50px" fill="#000">8</text>
<text transform="translate(537.84,1428.52) rotate(-30)" x="-11.74" y="0" style="font-family:'Liberation Sans', Arial, Helvetica, sans-serif;font-size:20.50px" fill="#000">16</text>
<text transform="translate(587.24,1430.02) rotate(-30)" x="-11.28" y="0" style="font-family:'Liberation Sans', Arial, Helvetica, sans-serif;font-size:20.50px" fill="#000">32</text>
<text x="415.05" y="1473.60" style="font-family:'Liberation Sans', Arial, Helvetica, sans-serif;font-size:23.10px" fill="#000">PTX (nM)</text>
<text x="471.08" y="1225.80" style="font-family:'Liberation Sans', Arial, Helvetica, sans-serif;font-size:23.50px" fill="#000">IC50=11.5</text>
<text x="361.00" y="1309.30" style="font-family:'Liberation Sans', Arial, Helvetica, sans-serif;font-size:23.30px" fill="#000">IC50=6.8</text>
<line x1="838.30" y1="1125.70" x2="838.30" y2="1403.65" stroke="#0a0a06" stroke-width="3.9" stroke-linecap="round"/>
<line x1="828.95" y1="1395.40" x2="1180.45" y2="1395.40" stroke="#0a0a06" stroke-width="3.9" stroke-linecap="round"/>
<line x1="828.95" y1="1395.40" x2="838.30" y2="1395.40" stroke="#0a0a06" stroke-width="3.9" stroke-linecap="round"/>
<text x="809.34" y="1403.34" style="font-family:'Liberation Sans', Arial, Helvetica, sans-serif;font-size:23.00px" fill="#000">0</text>
<line x1="828.95" y1="1350.45" x2="838.30" y2="1350.45" stroke="#0a0a06" stroke-width="3.9" stroke-linecap="round"/>
<text x="796.57" y="1358.38" style="font-family:'Liberation Sans', Arial, Helvetica, sans-serif;font-size:23.00px" fill="#000">20</text>
<line x1="828.95" y1="1305.50" x2="838.30" y2="1305.50" stroke="#0a0a06" stroke-width="3.9" stroke-linecap="round"/>
<text x="796.57" y="1313.43" style="font-family:'Liberation Sans', Arial, Helvetica, sans-serif;font-size:23.00px" fill="#000">40</text>
<line x1="828.95" y1="1260.55" x2="838.30" y2="1260.55" stroke="#0a0a06" stroke-width="3.9" stroke-linecap="round"/>
<text x="796.57" y="1268.49" style="font-family:'Liberation Sans', Arial, Helvetica, sans-serif;font-size:23.00px" fill="#000">60</text>
<line x1="828.95" y1="1215.60" x2="838.30" y2="1215.60" stroke="#0a0a06" stroke-width="3.9" stroke-linecap="round"/>
<text x="796.57" y="1223.54" style="font-family:'Liberation Sans', Arial, Helvetica, sans-serif;font-size:23.00px" fill="#000">80</text>
<line x1="828.95" y1="1170.65" x2="838.30" y2="1170.65" stroke="#0a0a06" stroke-width="3.9" stroke-linecap="round"/>
<text x="783.81" y="1178.59" style="font-family:'Liberation Sans', Arial, Helvetica, sans-serif;font-size:23.00px" fill="#000">100</text>
<line x1="828.95" y1="1125.70" x2="838.30" y2="1125.70" stroke="#0a0a06" stroke-width="3.9" stroke-linecap="round"/>
<text x="783.81" y="1133.63" style="font-family:'Liberation Sans', Arial, Helvetica, sans-serif;font-size:23.00px" fill="#000">120</text>
<line x1="838.30" y1="1395.40" x2="838.30" y2="1403.65" stroke="#0a0a06" stroke-width="3.9" stroke-linecap="round"/>
<line x1="887.70" y1="1395.40" x2="887.70" y2="1403.65" stroke="#0a0a06" stroke-width="3.9" stroke-linecap="round"/>
<line x1="936.20" y1="1395.40" x2="936.20" y2="1403.65" stroke="#0a0a06" stroke-width="3.9" stroke-linecap="round"/>
<line x1="985.00" y1="1395.40" x2="985.00" y2="1403.65" stroke="#0a0a06" stroke-width="3.9" stroke-linecap="round"/>
<line x1="1033.20" y1="1395.40" x2="1033.20" y2="1403.65" stroke="#0a0a06" stroke-width="3.9" stroke-linecap="round"/>
<line x1="1082.90" y1="1395.40" x2="1082.90" y2="1403.65" stroke="#0a0a06" stroke-width="3.9" stroke-linecap="round"/>
<line x1="1132.00" y1="1395.40" x2="1132.00" y2="1403.65" stroke="#0a0a06" stroke-width="3.9" stroke-linecap="round"/>
<line x1="838.30" y1="1164.36" x2="838.30" y2="1183.01" stroke="#0a0a06" stroke-width="3.6" stroke-linecap="butt"/>
<line x1="830.30" y1="1164.36" x2="846.30" y2="1164.36" stroke="#0a0a06" stroke-width="3.6" stroke-linecap="butt"/>
<line x1="830.30" y1="1183.01" x2="846.30" y2="1183.01" stroke="#0a0a06" stroke-width="3.6" stroke-linecap="butt"/>
<line x1="887.70" y1="1185.26" x2="887.70" y2="1189.75" stroke="#0a0a06" stroke-width="3.6" stroke-linecap="butt"/>
<line x1="879.70" y1="1185.26" x2="895.70" y2="1185.26" stroke="#0a0a06" stroke-width="3.6" stroke-linecap="butt"/>
<line x1="879.70" y1="1189.75" x2="895.70" y2="1189.75" stroke="#0a0a06" stroke-width="3.6" stroke-linecap="butt"/>
<line x1="936.20" y1="1179.86" x2="936.20" y2="1203.91" stroke="#0a0a06" stroke-width="3.6" stroke-linecap="butt"/>
<line x1="928.20" y1="1179.86" x2="944.20" y2="1179.86" stroke="#0a0a06" stroke-width="3.6" stroke-linecap="butt"/>
<line x1="928.20" y1="1203.91" x2="944.20" y2="1203.91" stroke="#0a0a06" stroke-width="3.6" stroke-linecap="butt"/>
<line x1="985.00" y1="1194.02" x2="985.00" y2="1209.53" stroke="#0a0a06" stroke-width="3.6" stroke-linecap="butt"/>
<line x1="977.00" y1="1194.02" x2="993.00" y2="1194.02" stroke="#0a0a06" stroke-width="3.6" stroke-linecap="butt"/>
<line x1="977.00" y1="1209.53" x2="993.00" y2="1209.53" stroke="#0a0a06" stroke-width="3.6" stroke-linecap="butt"/>
<line x1="1033.20" y1="1235.38" x2="1033.20" y2="1239.87" stroke="#0a0a06" stroke-width="3.6" stroke-linecap="butt"/>
<line x1="1025.20" y1="1235.38" x2="1041.20" y2="1235.38" stroke="#0a0a06" stroke-width="3.6" stroke-linecap="butt"/>
<line x1="1025.20" y1="1239.87" x2="1041.20" y2="1239.87" stroke="#0a0a06" stroke-width="3.6" stroke-linecap="butt"/>
<line x1="1082.90" y1="1290.22" x2="1082.90" y2="1294.71" stroke="#0a0a06" stroke-width="3.6" stroke-linecap="butt"/>
<line x1="1074.90" y1="1290.22" x2="1090.90" y2="1290.22" stroke="#0a0a06" stroke-width="3.6" stroke-linecap="butt"/>
<line x1="1074.90" y1="1294.71" x2="1090.90" y2="1294.71" stroke="#0a0a06" stroke-width="3.6" stroke-linecap="butt"/>
<line x1="1132.00" y1="1320.33" x2="1132.00" y2="1339.66" stroke="#0a0a06" stroke-width="3.6" stroke-linecap="butt"/>
<line x1="1124.00" y1="1320.33" x2="1140.00" y2="1320.33" stroke="#0a0a06" stroke-width="3.6" stroke-linecap="butt"/>
<line x1="1124.00" y1="1339.66" x2="1140.00" y2="1339.66" stroke="#0a0a06" stroke-width="3.6" stroke-linecap="butt"/>
<path d="M838.30,1174.02 L887.70,1187.51 L936.20,1191.78 L985.00,1202.34 L1033.20,1237.63 L1082.90,1292.46 L1132.00,1330.00" fill="none" stroke="#0a0a06" stroke-width="3.6" stroke-linejoin="round"/>
<circle cx="838.30" cy="1174.02" r="8.50" fill="#0a0a06"/>
<circle cx="887.70" cy="1187.51" r="8.50" fill="#0a0a06"/>
<circle cx="936.20" cy="1191.78" r="8.50" fill="#0a0a06"/>
<circle cx="985.00" cy="1202.34" r="8.50" fill="#0a0a06"/>
<circle cx="1033.20" cy="1237.63" r="8.50" fill="#0a0a06"/>
<circle cx="1082.90" cy="1292.46" r="8.50" fill="#0a0a06"/>
<circle cx="1132.00" cy="1330.00" r="8.50" fill="#0a0a06"/>
<line x1="838.30" y1="1171.77" x2="838.30" y2="1176.27" stroke="#302a5a" stroke-width="3.6" stroke-linecap="butt"/>
<line x1="830.30" y1="1171.77" x2="846.30" y2="1171.77" stroke="#302a5a" stroke-width="3.6" stroke-linecap="butt"/>
<line x1="830.30" y1="1176.27" x2="846.30" y2="1176.27" stroke="#302a5a" stroke-width="3.6" stroke-linecap="butt"/>
<line x1="887.70" y1="1205.49" x2="887.70" y2="1209.98" stroke="#302a5a" stroke-width="3.6" stroke-linecap="butt"/>
<line x1="879.70" y1="1205.49" x2="895.70" y2="1205.49" stroke="#302a5a" stroke-width="3.6" stroke-linecap="butt"/>
<line x1="879.70" y1="1209.98" x2="895.70" y2="1209.98" stroke="#302a5a" stroke-width="3.6" stroke-linecap="butt"/>
<line x1="936.20" y1="1209.98" x2="936.20" y2="1235.15" stroke="#302a5a" stroke-width="3.6" stroke-linecap="butt"/>
<line x1="928.20" y1="1209.98" x2="944.20" y2="1209.98" stroke="#302a5a" stroke-width="3.6" stroke-linecap="butt"/>
<line x1="928.20" y1="1235.15" x2="944.20" y2="1235.15" stroke="#302a5a" stroke-width="3.6" stroke-linecap="butt"/>
<line x1="985.00" y1="1244.14" x2="985.00" y2="1248.64" stroke="#302a5a" stroke-width="3.6" stroke-linecap="butt"/>
<line x1="977.00" y1="1244.14" x2="993.00" y2="1244.14" stroke="#302a5a" stroke-width="3.6" stroke-linecap="butt"/>
<line x1="977.00" y1="1248.64" x2="993.00" y2="1248.64" stroke="#302a5a" stroke-width="3.6" stroke-linecap="butt"/>
<line x1="1033.20" y1="1273.14" x2="1033.20" y2="1277.63" stroke="#302a5a" stroke-width="3.6" stroke-linecap="butt"/>
<line x1="1025.20" y1="1273.14" x2="1041.20" y2="1273.14" stroke="#302a5a" stroke-width="3.6" stroke-linecap="butt"/>
<line x1="1025.20" y1="1277.63" x2="1041.20" y2="1277.63" stroke="#302a5a" stroke-width="3.6" stroke-linecap="butt"/>
<line x1="1082.90" y1="1332.02" x2="1082.90" y2="1336.52" stroke="#302a5a" stroke-width="3.6" stroke-linecap="butt"/>
<line x1="1074.90" y1="1332.02" x2="1090.90" y2="1332.02" stroke="#302a5a" stroke-width="3.6" stroke-linecap="butt"/>
<line x1="1074.90" y1="1336.52" x2="1090.90" y2="1336.52" stroke="#302a5a" stroke-width="3.6" stroke-linecap="butt"/>
<line x1="1132.00" y1="1354.50" x2="1132.00" y2="1358.99" stroke="#302a5a" stroke-width="3.6" stroke-linecap="butt"/>
<line x1="1124.00" y1="1354.50" x2="1140.00" y2="1354.50" stroke="#302a5a" stroke-width="3.6" stroke-linecap="butt"/>
<line x1="1124.00" y1="1358.99" x2="1140.00" y2="1358.99" stroke="#302a5a" stroke-width="3.6" stroke-linecap="butt"/>
<path d="M838.30,1174.02 L887.70,1207.73 L936.20,1222.12 L985.00,1246.39 L1033.20,1275.38 L1082.90,1334.27 L1132.00,1356.74" fill="none" stroke="#302a5a" stroke-width="3.6" stroke-linejoin="round"/>
<rect x="829.80" y="1165.52" width="17.00" height="17.00" fill="#302a5a"/>
<rect x="879.20" y="1199.23" width="17.00" height="17.00" fill="#302a5a"/>
<rect x="927.70" y="1213.62" width="17.00" height="17.00" fill="#302a5a"/>
<rect x="976.50" y="1237.89" width="17.00" height="17.00" fill="#302a5a"/>
<rect x="1024.70" y="1266.88" width="17.00" height="17.00" fill="#302a5a"/>
<rect x="1074.40" y="1325.77" width="17.00" height="17.00" fill="#302a5a"/>
<rect x="1123.50" y="1348.24" width="17.00" height="17.00" fill="#302a5a"/>
<line x1="1064.30" y1="1110.70" x2="1103.80" y2="1110.70" stroke="#0a0a06" stroke-width="3.6" stroke-linecap="butt"/>
<circle cx="1084.05" cy="1110.70" r="8.50" fill="#0a0a06"/>
<text x="1122.66" y="1119.90" style="font-family:'Liberation Sans', Arial, Helvetica, sans-serif;font-size:23.00px" fill="#000">NC</text>
<line x1="1064.30" y1="1146.10" x2="1103.80" y2="1146.10" stroke="#302a5a" stroke-width="3.6" stroke-linecap="butt"/>
<rect x="1075.55" y="1137.60" width="17.00" height="17.00" fill="#302a5a"/>
<text x="1121.11" y="1155.20" style="font-family:'Liberation Sans', Arial, Helvetica, sans-serif;font-size:23.00px" fill="#000">miR-93</text>
<path d="M1057.80,1108.10 L1044.50,1108.10 L1044.50,1149.40 L1057.80,1149.40" fill="none" stroke="#0a0a06" stroke-width="3"/>
<text transform="translate(1026.70,1144.17) scale(0.67,1)" x="-15.25" y="0" style="font-family:'Liberation Serif', 'Times New Roman', serif;font-size:28.50px;letter-spacing:2.0px" fill="#000">**</text>
<text x="945.36" y="1079.80" style="font-family:'Liberation Sans', Arial, Helvetica, sans-serif;font-size:33.00px" fill="#000">Bats-72</text>
<text transform="translate(774.25,1255.85) rotate(-90)" x="-132.92" y="0" style="font-family:'Liberation Sans', Arial, Helvetica, sans-serif;font-size:23.80px" fill="#000">Realtive Cell Viability (%)</text>
<text transform="translate(834.84,1433.12) rotate(-30)" x="-5.74" y="0" style="font-family:'Liberation Sans', Arial, Helvetica, sans-serif;font-size:20.50px" fill="#000">0</text>
<text transform="translate(884.24,1432.92) rotate(-30)" x="-11.48" y="0" style="font-family:'Liberation Sans', Arial, Helvetica, sans-serif;font-size:20.50px" fill="#000">25</text>
<text transform="translate(934.24,1432.42) rotate(-30)" x="-11.43" y="0" style="font-family:'Liberation Sans', Arial, Helvetica, sans-serif;font-size:20.50px" fill="#000">50</text>
<text transform="translate(981.54,1431.92) rotate(-30)" x="-17.48" y="0" style="font-family:'Liberation Sans', Arial, Helvetica, sans-serif;font-size:20.50px" fill="#000">100</text>
<text transform="translate(1031.14,1431.92) rotate(-30)" x="-17.48" y="0" style="font-family:'Liberation Sans', Arial, Helvetica, sans-serif;font-size:20.50px" fill="#000">150</text>
<text transform="translate(1079.84,1432.92) rotate(-30)" x="-17.22" y="0" style="font-family:'Liberation Sans', Arial, Helvetica, sans-serif;font-size:20.50px" fill="#000">200</text>
<text transform="translate(1130.14,1432.92) rotate(-30)" x="-17.22" y="0" style="font-family:'Liberation Sans', Arial, Helvetica, sans-serif;font-size:20.50px" fill="#000">250</text>
<text x="955.05" y="1473.60" style="font-family:'Liberation Sans', Arial, Helvetica, sans-serif;font-size:23.10px" fill="#000">PTX (nM)</text>
<text x="1047.09" y="1226.50" style="font-family:'Liberation Sans', Arial, Helvetica, sans-serif;font-size:23.50px" fill="#000">IC50=193.6</text>
<text x="902.59" y="1309.30" style="font-family:'Liberation Sans', Arial, Helvetica, sans-serif;font-size:23.50px" fill="#000">IC50=131.3</text>
<line x1="1377.90" y1="1125.70" x2="1377.90" y2="1403.65" stroke="#0a0a06" stroke-width="3.9" stroke-linecap="round"/>
<line x1="1368.95" y1="1395.40" x2="1719.55" y2="1395.40" stroke="#0a0a06" stroke-width="3.9" stroke-linecap="round"/>
<line x1="1368.95" y1="1395.40" x2="1377.90" y2="1395.40" stroke="#0a0a06" stroke-width="3.9" stroke-linecap="round"/>
<text x="1349.34" y="1403.34" style="font-family:'Liberation Sans', Arial, Helvetica, sans-serif;font-size:23.00px" fill="#000">0</text>
<line x1="1368.95" y1="1350.45" x2="1377.90" y2="1350.45" stroke="#0a0a06" stroke-width="3.9" stroke-linecap="round"/>
<text x="1336.58" y="1358.38" style="font-family:'Liberation Sans', Arial, Helvetica, sans-serif;font-size:23.00px" fill="#000">20</text>
<line x1="1368.95" y1="1305.50" x2="1377.90" y2="1305.50" stroke="#0a0a06" stroke-width="3.9" stroke-linecap="round"/>
<text x="1336.58" y="1313.43" style="font-family:'Liberation Sans', Arial, Helvetica, sans-serif;font-size:23.00px" fill="#000">40</text>
<line x1="1368.95" y1="1260.55" x2="1377.90" y2="1260.55" stroke="#0a0a06" stroke-width="3.9" stroke-linecap="round"/>
<text x="1336.58" y="1268.49" style="font-family:'Liberation Sans', Arial, Helvetica, sans-serif;font-size:23.00px" fill="#000">60</text>
<line x1="1368.95" y1="1215.60" x2="1377.90" y2="1215.60" stroke="#0a0a06" stroke-width="3.9" stroke-linecap="round"/>
<text x="1336.58" y="1223.54" style="font-family:'Liberation Sans', Arial, Helvetica, sans-serif;font-size:23.00px" fill="#000">80</text>
<line x1="1368.95" y1="1170.65" x2="1377.90" y2="1170.65" stroke="#0a0a06" stroke-width="3.9" stroke-linecap="round"/>
<text x="1323.81" y="1178.59" style="font-family:'Liberation Sans', Arial, Helvetica, sans-serif;font-size:23.00px" fill="#000">100</text>
<line x1="1368.95" y1="1125.70" x2="1377.90" y2="1125.70" stroke="#0a0a06" stroke-width="3.9" stroke-linecap="round"/>
<text x="1323.81" y="1133.63" style="font-family:'Liberation Sans', Arial, Helvetica, sans-serif;font-size:23.00px" fill="#000">120</text>
<line x1="1377.90" y1="1395.40" x2="1377.90" y2="1403.65" stroke="#0a0a06" stroke-width="3.9" stroke-linecap="round"/>
<line x1="1426.40" y1="1395.40" x2="1426.40" y2="1403.65" stroke="#0a0a06" stroke-width="3.9" stroke-linecap="round"/>
<line x1="1475.20" y1="1395.40" x2="1475.20" y2="1403.65" stroke="#0a0a06" stroke-width="3.9" stroke-linecap="round"/>
<line x1="1523.40" y1="1395.40" x2="1523.40" y2="1403.65" stroke="#0a0a06" stroke-width="3.9" stroke-linecap="round"/>
<line x1="1572.50" y1="1395.40" x2="1572.50" y2="1403.65" stroke="#0a0a06" stroke-width="3.9" stroke-linecap="round"/>
<line x1="1621.30" y1="1395.40" x2="1621.30" y2="1403.65" stroke="#0a0a06" stroke-width="3.9" stroke-linecap="round"/>
<line x1="1670.40" y1="1395.40" x2="1670.40" y2="1403.65" stroke="#0a0a06" stroke-width="3.9" stroke-linecap="round"/>
<line x1="1377.90" y1="1168.63" x2="1377.90" y2="1173.12" stroke="#0a0a06" stroke-width="3.6" stroke-linecap="butt"/>
<line x1="1369.90" y1="1168.63" x2="1385.90" y2="1168.63" stroke="#0a0a06" stroke-width="3.6" stroke-linecap="butt"/>
<line x1="1369.90" y1="1173.12" x2="1385.90" y2="1173.12" stroke="#0a0a06" stroke-width="3.6" stroke-linecap="butt"/>
<line x1="1426.40" y1="1167.05" x2="1426.40" y2="1188.41" stroke="#0a0a06" stroke-width="3.6" stroke-linecap="butt"/>
<line x1="1418.40" y1="1167.05" x2="1434.40" y2="1167.05" stroke="#0a0a06" stroke-width="3.6" stroke-linecap="butt"/>
<line x1="1418.40" y1="1188.41" x2="1434.40" y2="1188.41" stroke="#0a0a06" stroke-width="3.6" stroke-linecap="butt"/>
<line x1="1475.20" y1="1187.28" x2="1475.20" y2="1191.78" stroke="#0a0a06" stroke-width="3.6" stroke-linecap="butt"/>
<line x1="1467.20" y1="1187.28" x2="1483.20" y2="1187.28" stroke="#0a0a06" stroke-width="3.6" stroke-linecap="butt"/>
<line x1="1467.20" y1="1191.78" x2="1483.20" y2="1191.78" stroke="#0a0a06" stroke-width="3.6" stroke-linecap="butt"/>
<line x1="1523.40" y1="1190.88" x2="1523.40" y2="1215.82" stroke="#0a0a06" stroke-width="3.6" stroke-linecap="butt"/>
<line x1="1515.40" y1="1190.88" x2="1531.40" y2="1190.88" stroke="#0a0a06" stroke-width="3.6" stroke-linecap="butt"/>
<line x1="1515.40" y1="1215.82" x2="1531.40" y2="1215.82" stroke="#0a0a06" stroke-width="3.6" stroke-linecap="butt"/>
<line x1="1572.50" y1="1241.90" x2="1572.50" y2="1246.39" stroke="#0a0a06" stroke-width="3.6" stroke-linecap="butt"/>
<line x1="1564.50" y1="1241.90" x2="1580.50" y2="1241.90" stroke="#0a0a06" stroke-width="3.6" stroke-linecap="butt"/>
<line x1="1564.50" y1="1246.39" x2="1580.50" y2="1246.39" stroke="#0a0a06" stroke-width="3.6" stroke-linecap="butt"/>
<line x1="1621.30" y1="1262.57" x2="1621.30" y2="1267.07" stroke="#0a0a06" stroke-width="3.6" stroke-linecap="butt"/>
<line x1="1613.30" y1="1262.57" x2="1629.30" y2="1262.57" stroke="#0a0a06" stroke-width="3.6" stroke-linecap="butt"/>
<line x1="1613.30" y1="1267.07" x2="1629.30" y2="1267.07" stroke="#0a0a06" stroke-width="3.6" stroke-linecap="butt"/>
<line x1="1670.40" y1="1345.51" x2="1670.40" y2="1350.00" stroke="#0a0a06" stroke-width="3.6" stroke-linecap="butt"/>
<line x1="1662.40" y1="1345.51" x2="1678.40" y2="1345.51" stroke="#0a0a06" stroke-width="3.6" stroke-linecap="butt"/>
<line x1="1662.40" y1="1350.00" x2="1678.40" y2="1350.00" stroke="#0a0a06" stroke-width="3.6" stroke-linecap="butt"/>
<path d="M1377.90,1170.87 L1426.40,1177.84 L1475.20,1189.53 L1523.40,1203.69 L1572.50,1244.14 L1621.30,1264.82 L1670.40,1347.75" fill="none" stroke="#0a0a06" stroke-width="3.6" stroke-linejoin="round"/>
<circle cx="1377.90" cy="1170.87" r="8.50" fill="#0a0a06"/>
<circle cx="1426.40" cy="1177.84" r="8.50" fill="#0a0a06"/>
<circle cx="1475.20" cy="1189.53" r="8.50" fill="#0a0a06"/>
<circle cx="1523.40" cy="1203.69" r="8.50" fill="#0a0a06"/>
<circle cx="1572.50" cy="1244.14" r="8.50" fill="#0a0a06"/>
<circle cx="1621.30" cy="1264.82" r="8.50" fill="#0a0a06"/>
<circle cx="1670.40" cy="1347.75" r="8.50" fill="#0a0a06"/>
<line x1="1377.90" y1="1168.85" x2="1377.90" y2="1173.35" stroke="#302a5a" stroke-width="3.6" stroke-linecap="butt"/>
<line x1="1369.90" y1="1168.85" x2="1385.90" y2="1168.85" stroke="#302a5a" stroke-width="3.6" stroke-linecap="butt"/>
<line x1="1369.90" y1="1173.35" x2="1385.90" y2="1173.35" stroke="#302a5a" stroke-width="3.6" stroke-linecap="butt"/>
<line x1="1426.40" y1="1192.68" x2="1426.40" y2="1218.52" stroke="#302a5a" stroke-width="3.6" stroke-linecap="butt"/>
<line x1="1418.40" y1="1192.68" x2="1434.40" y2="1192.68" stroke="#302a5a" stroke-width="3.6" stroke-linecap="butt"/>
<line x1="1418.40" y1="1218.52" x2="1434.40" y2="1218.52" stroke="#302a5a" stroke-width="3.6" stroke-linecap="butt"/>
<line x1="1475.20" y1="1209.76" x2="1475.20" y2="1214.25" stroke="#302a5a" stroke-width="3.6" stroke-linecap="butt"/>
<line x1="1467.20" y1="1209.76" x2="1483.20" y2="1209.76" stroke="#302a5a" stroke-width="3.6" stroke-linecap="butt"/>
<line x1="1467.20" y1="1214.25" x2="1483.20" y2="1214.25" stroke="#302a5a" stroke-width="3.6" stroke-linecap="butt"/>
<line x1="1523.40" y1="1252.23" x2="1523.40" y2="1256.73" stroke="#302a5a" stroke-width="3.6" stroke-linecap="butt"/>
<line x1="1515.40" y1="1252.23" x2="1531.40" y2="1252.23" stroke="#302a5a" stroke-width="3.6" stroke-linecap="butt"/>
<line x1="1515.40" y1="1256.73" x2="1531.40" y2="1256.73" stroke="#302a5a" stroke-width="3.6" stroke-linecap="butt"/>
<line x1="1572.50" y1="1277.41" x2="1572.50" y2="1281.90" stroke="#302a5a" stroke-width="3.6" stroke-linecap="butt"/>
<line x1="1564.50" y1="1277.41" x2="1580.50" y2="1277.41" stroke="#302a5a" stroke-width="3.6" stroke-linecap="butt"/>
<line x1="1564.50" y1="1281.90" x2="1580.50" y2="1281.90" stroke="#302a5a" stroke-width="3.6" stroke-linecap="butt"/>
<line x1="1621.30" y1="1285.95" x2="1621.30" y2="1318.09" stroke="#302a5a" stroke-width="3.6" stroke-linecap="butt"/>
<line x1="1613.30" y1="1285.95" x2="1629.30" y2="1285.95" stroke="#302a5a" stroke-width="3.6" stroke-linecap="butt"/>
<line x1="1613.30" y1="1318.09" x2="1629.30" y2="1318.09" stroke="#302a5a" stroke-width="3.6" stroke-linecap="butt"/>
<line x1="1670.40" y1="1372.93" x2="1670.40" y2="1377.42" stroke="#302a5a" stroke-width="3.6" stroke-linecap="butt"/>
<line x1="1662.40" y1="1372.93" x2="1678.40" y2="1372.93" stroke="#302a5a" stroke-width="3.6" stroke-linecap="butt"/>
<line x1="1662.40" y1="1377.42" x2="1678.40" y2="1377.42" stroke="#302a5a" stroke-width="3.6" stroke-linecap="butt"/>
<path d="M1377.90,1171.10 L1426.40,1205.49 L1475.20,1212.00 L1523.40,1254.48 L1572.50,1279.65 L1621.30,1301.23 L1670.40,1375.17" fill="none" stroke="#302a5a" stroke-width="3.6" stroke-linejoin="round"/>
<rect x="1369.40" y="1162.60" width="17.00" height="17.00" fill="#302a5a"/>
<rect x="1417.90" y="1196.99" width="17.00" height="17.00" fill="#302a5a"/>
<rect x="1466.70" y="1203.50" width="17.00" height="17.00" fill="#302a5a"/>
<rect x="1514.90" y="1245.98" width="17.00" height="17.00" fill="#302a5a"/>
<rect x="1564.00" y="1271.15" width="17.00" height="17.00" fill="#302a5a"/>
<rect x="1612.80" y="1292.73" width="17.00" height="17.00" fill="#302a5a"/>
<rect x="1661.90" y="1366.67" width="17.00" height="17.00" fill="#302a5a"/>
<line x1="1603.60" y1="1110.70" x2="1642.20" y2="1110.70" stroke="#0a0a06" stroke-width="3.6" stroke-linecap="butt"/>
<circle cx="1622.90" cy="1110.70" r="8.50" fill="#0a0a06"/>
<text x="1661.66" y="1119.90" style="font-family:'Liberation Sans', Arial, Helvetica, sans-serif;font-size:23.00px" fill="#000">NC</text>
<line x1="1603.60" y1="1146.10" x2="1642.20" y2="1146.10" stroke="#302a5a" stroke-width="3.6" stroke-linecap="butt"/>
<rect x="1614.40" y="1137.60" width="17.00" height="17.00" fill="#302a5a"/>
<text x="1660.11" y="1155.20" style="font-family:'Liberation Sans', Arial, Helvetica, sans-serif;font-size:23.00px" fill="#000">miR-93</text>
<path d="M1596.90,1108.10 L1583.60,1108.10 L1583.60,1149.40 L1596.90,1149.40" fill="none" stroke="#0a0a06" stroke-width="3"/>
<text transform="translate(1565.50,1144.17) scale(0.67,1)" x="-15.25" y="0" style="font-family:'Liberation Serif', 'Times New Roman', serif;font-size:28.50px;letter-spacing:2.0px" fill="#000">**</text>
<text x="1460.36" y="1079.80" style="font-family:'Liberation Sans', Arial, Helvetica, sans-serif;font-size:33.00px" fill="#000">Bads-200</text>
<text transform="translate(1313.66,1255.85) rotate(-90)" x="-132.92" y="0" style="font-family:'Liberation Sans', Arial, Helvetica, sans-serif;font-size:23.80px" fill="#000">Realtive Cell Viability (%)</text>
<text transform="translate(1373.84,1432.92) rotate(-30)" x="-5.74" y="0" style="font-family:'Liberation Sans', Arial, Helvetica, sans-serif;font-size:20.50px" fill="#000">0</text>
<text transform="translate(1420.14,1433.52) rotate(-30)" x="-17.22" y="0" style="font-family:'Liberation Sans', Arial, Helvetica, sans-serif;font-size:20.50px" fill="#000">250</text>
<text transform="translate(1469.04,1433.52) rotate(-30)" x="-17.12" y="0" style="font-family:'Liberation Sans', Arial, Helvetica, sans-serif;font-size:20.50px" fill="#000">500</text>
<text transform="translate(1514.34,1433.52) rotate(-30)" x="-23.22" y="0" style="font-family:'Liberation Sans', Arial, Helvetica, sans-serif;font-size:20.50px" fill="#000">1000</text>
<text transform="translate(1562.14,1433.52) rotate(-30)" x="-23.22" y="0" style="font-family:'Liberation Sans', Arial, Helvetica, sans-serif;font-size:20.50px" fill="#000">1500</text>
<text transform="translate(1612.14,1434.52) rotate(-30)" x="-22.96" y="0" style="font-family:'Liberation Sans', Arial, Helvetica, sans-serif;font-size:20.50px" fill="#000">2000</text>
<text transform="translate(1659.94,1434.52) rotate(-30)" x="-22.96" y="0" style="font-family:'Liberation Sans', Arial, Helvetica, sans-serif;font-size:20.50px" fill="#000">2500</text>
<text x="1497.15" y="1473.60" style="font-family:'Liberation Sans', Arial, Helvetica, sans-serif;font-size:23.10px" fill="#000">PTX (nM)</text>
<text x="1583.88" y="1226.50" style="font-family:'Liberation Sans', Arial, Helvetica, sans-serif;font-size:23.50px;word-spacing:-4.60px" fill="#000">IC50= 1924</text>
<text x="1441.68" y="1309.30" style="font-family:'Liberation Sans', Arial, Helvetica, sans-serif;font-size:23.50px;word-spacing:-4.60px" fill="#000">IC50= 1325</text>
<line x1="335.85" y1="1740.20" x2="335.85" y2="1736.00" stroke="#0a0a06" stroke-width="3" stroke-linecap="butt"/>
<line x1="326.35" y1="1736.00" x2="345.35" y2="1736.00" stroke="#0a0a06" stroke-width="3" stroke-linecap="round"/>
<line x1="377.75" y1="1783.50" x2="377.75" y2="1780.30" stroke="#0a0a06" stroke-width="3" stroke-linecap="butt"/>
<line x1="368.25" y1="1780.30" x2="387.25" y2="1780.30" stroke="#0a0a06" stroke-width="3" stroke-linecap="round"/>
<rect x="314.00" y="1739.20" width="43.70" height="190.40" fill="#0a0a06"/>
<rect x="356.20" y="1784.00" width="40.10" height="145.60" fill="#fff" stroke="#0a0a06" stroke-width="3" stroke-linejoin="round"/>
<line x1="461.55" y1="1674.40" x2="461.55" y2="1668.60" stroke="#0a0a06" stroke-width="3" stroke-linecap="butt"/>
<line x1="452.05" y1="1668.60" x2="471.05" y2="1668.60" stroke="#0a0a06" stroke-width="3" stroke-linecap="round"/>
<line x1="502.95" y1="1711.30" x2="502.95" y2="1707.10" stroke="#0a0a06" stroke-width="3" stroke-linecap="butt"/>
<line x1="493.45" y1="1707.10" x2="512.45" y2="1707.10" stroke="#0a0a06" stroke-width="3" stroke-linecap="round"/>
<rect x="440.20" y="1673.40" width="42.70" height="256.20" fill="#0a0a06"/>
<rect x="481.40" y="1711.80" width="40.10" height="217.80" fill="#fff" stroke="#0a0a06" stroke-width="3" stroke-linejoin="round"/>
<line x1="587.05" y1="1789.00" x2="587.05" y2="1784.80" stroke="#0a0a06" stroke-width="3" stroke-linecap="butt"/>
<line x1="577.55" y1="1784.80" x2="596.55" y2="1784.80" stroke="#0a0a06" stroke-width="3" stroke-linecap="round"/>
<line x1="628.80" y1="1818.20" x2="628.80" y2="1804.40" stroke="#0a0a06" stroke-width="3" stroke-linecap="butt"/>
<line x1="619.30" y1="1804.40" x2="638.30" y2="1804.40" stroke="#0a0a06" stroke-width="3" stroke-linecap="round"/>
<rect x="565.40" y="1788.00" width="43.30" height="141.60" fill="#0a0a06"/>
<rect x="607.20" y="1818.70" width="40.20" height="110.90" fill="#fff" stroke="#0a0a06" stroke-width="3" stroke-linejoin="round"/>
<line x1="294.70" y1="1637.40" x2="294.70" y2="1931.90" stroke="#0a0a06" stroke-width="3.4" stroke-linecap="round"/>
<line x1="286.20" y1="1929.60" x2="671.90" y2="1929.60" stroke="#0a0a06" stroke-width="3.4" stroke-linecap="round"/>
<line x1="286.20" y1="1929.60" x2="294.70" y2="1929.60" stroke="#0a0a06" stroke-width="3.4" stroke-linecap="round"/>
<text x="266.64" y="1937.53" style="font-family:'Liberation Sans', Arial, Helvetica, sans-serif;font-size:23.00px" fill="#000">0</text>
<line x1="286.20" y1="1871.16" x2="294.70" y2="1871.16" stroke="#0a0a06" stroke-width="3.4" stroke-linecap="round"/>
<text x="253.88" y="1879.09" style="font-family:'Liberation Sans', Arial, Helvetica, sans-serif;font-size:23.00px" fill="#000">20</text>
<line x1="286.20" y1="1812.72" x2="294.70" y2="1812.72" stroke="#0a0a06" stroke-width="3.4" stroke-linecap="round"/>
<text x="253.88" y="1820.65" style="font-family:'Liberation Sans', Arial, Helvetica, sans-serif;font-size:23.00px" fill="#000">40</text>
<line x1="286.20" y1="1754.28" x2="294.70" y2="1754.28" stroke="#0a0a06" stroke-width="3.4" stroke-linecap="round"/>
<text x="253.88" y="1762.21" style="font-family:'Liberation Sans', Arial, Helvetica, sans-serif;font-size:23.00px" fill="#000">60</text>
<line x1="286.20" y1="1695.84" x2="294.70" y2="1695.84" stroke="#0a0a06" stroke-width="3.4" stroke-linecap="round"/>
<text x="253.88" y="1703.78" style="font-family:'Liberation Sans', Arial, Helvetica, sans-serif;font-size:23.00px" fill="#000">80</text>
<line x1="286.20" y1="1637.40" x2="294.70" y2="1637.40" stroke="#0a0a06" stroke-width="3.4" stroke-linecap="round"/>
<text x="245.01" y="1645.34" style="font-family:'Liberation Sans', Arial, Helvetica, sans-serif;font-size:23.00px" fill="#000">100</text>
<line x1="356.70" y1="1929.60" x2="356.70" y2="1937.80" stroke="#0a0a06" stroke-width="3.4" stroke-linecap="round"/>
<line x1="482.90" y1="1929.60" x2="482.90" y2="1937.80" stroke="#0a0a06" stroke-width="3.4" stroke-linecap="round"/>
<line x1="608.70" y1="1929.60" x2="608.70" y2="1937.80" stroke="#0a0a06" stroke-width="3.4" stroke-linecap="round"/>
<text transform="translate(378.20,1778.47) scale(0.67,1)" x="-23.37" y="0" style="font-family:'Liberation Serif', 'Times New Roman', serif;font-size:28.50px;letter-spacing:2.0px" fill="#000">***</text>
<text transform="translate(506.00,1702.67) scale(0.67,1)" x="-23.37" y="0" style="font-family:'Liberation Serif', 'Times New Roman', serif;font-size:28.50px;letter-spacing:2.0px" fill="#000">***</text>
<text transform="translate(628.60,1802.57) scale(0.67,1)" x="-15.25" y="0" style="font-family:'Liberation Serif', 'Times New Roman', serif;font-size:28.50px;letter-spacing:2.0px" fill="#000">**</text>
<rect x="355.70" y="1603.40" width="40.20" height="15.40" fill="#0a0a06"/>
<rect x="506.50" y="1604.90" width="35.60" height="12.40" fill="#fff" stroke="#0a0a06" stroke-width="3" stroke-linejoin="round"/>
<text x="407.16" y="1616.20" style="font-family:'Liberation Sans', Arial, Helvetica, sans-serif;font-size:23.00px" fill="#000">NC</text>
<text x="559.11" y="1616.20" style="font-family:'Liberation Sans', Arial, Helvetica, sans-serif;font-size:23.00px" fill="#000">miR-93</text>
<text x="422.46" y="1576.40" style="font-family:'Liberation Sans', Arial, Helvetica, sans-serif;font-size:33.00px;letter-spacing:1.30px" fill="#000">BCap37</text>
<text transform="translate(232.73,1779.65) rotate(-90)" x="-133.48" y="0" style="font-family:'Liberation Sans', Arial, Helvetica, sans-serif;font-size:23.90px" fill="#000">Realtive Cell Viability (%)</text>
<text x="330.07" y="1961.60" style="font-family:'Liberation Sans', Arial, Helvetica, sans-serif;font-size:23.30px" fill="#000">5-FU</text>
<text x="460.14" y="1961.60" style="font-family:'Liberation Sans', Arial, Helvetica, sans-serif;font-size:23.30px" fill="#000">DOX</text>
<text x="586.18" y="1961.60" style="font-family:'Liberation Sans', Arial, Helvetica, sans-serif;font-size:23.30px" fill="#000">VNB</text>
<line x1="881.10" y1="1726.70" x2="881.10" y2="1714.50" stroke="#0a0a06" stroke-width="3" stroke-linecap="butt"/>
<line x1="871.60" y1="1714.50" x2="890.60" y2="1714.50" stroke="#0a0a06" stroke-width="3" stroke-linecap="round"/>
<line x1="923.50" y1="1753.70" x2="923.50" y2="1745.60" stroke="#0a0a06" stroke-width="3" stroke-linecap="butt"/>
<line x1="914.00" y1="1745.60" x2="933.00" y2="1745.60" stroke="#0a0a06" stroke-width="3" stroke-linecap="round"/>
<rect x="859.10" y="1725.70" width="44.00" height="203.90" fill="#0a0a06"/>
<rect x="901.60" y="1754.20" width="40.80" height="175.40" fill="#fff" stroke="#0a0a06" stroke-width="3" stroke-linejoin="round"/>
<line x1="1007.00" y1="1704.20" x2="1007.00" y2="1699.00" stroke="#0a0a06" stroke-width="3" stroke-linecap="butt"/>
<line x1="997.50" y1="1699.00" x2="1016.50" y2="1699.00" stroke="#0a0a06" stroke-width="3" stroke-linecap="round"/>
<line x1="1049.55" y1="1755.60" x2="1049.55" y2="1731.20" stroke="#0a0a06" stroke-width="3" stroke-linecap="butt"/>
<line x1="1040.05" y1="1731.20" x2="1059.05" y2="1731.20" stroke="#0a0a06" stroke-width="3" stroke-linecap="round"/>
<rect x="985.00" y="1703.20" width="44.00" height="226.40" fill="#0a0a06"/>
<rect x="1027.50" y="1756.10" width="41.10" height="173.50" fill="#fff" stroke="#0a0a06" stroke-width="3" stroke-linejoin="round"/>
<line x1="1132.65" y1="1762.00" x2="1132.65" y2="1749.80" stroke="#0a0a06" stroke-width="3" stroke-linecap="butt"/>
<line x1="1123.15" y1="1749.80" x2="1142.15" y2="1749.80" stroke="#0a0a06" stroke-width="3" stroke-linecap="round"/>
<line x1="1175.20" y1="1799.60" x2="1175.20" y2="1793.80" stroke="#0a0a06" stroke-width="3" stroke-linecap="butt"/>
<line x1="1165.70" y1="1793.80" x2="1184.70" y2="1793.80" stroke="#0a0a06" stroke-width="3" stroke-linecap="round"/>
<rect x="1110.80" y="1761.00" width="43.70" height="168.60" fill="#0a0a06"/>
<rect x="1153.00" y="1800.10" width="41.40" height="129.50" fill="#fff" stroke="#0a0a06" stroke-width="3" stroke-linejoin="round"/>
<line x1="840.50" y1="1637.40" x2="840.50" y2="1931.90" stroke="#0a0a06" stroke-width="3.4" stroke-linecap="round"/>
<line x1="832.60" y1="1929.60" x2="1219.20" y2="1929.60" stroke="#0a0a06" stroke-width="3.4" stroke-linecap="round"/>
<line x1="832.60" y1="1929.60" x2="840.50" y2="1929.60" stroke="#0a0a06" stroke-width="3.4" stroke-linecap="round"/>
<text x="813.54" y="1937.53" style="font-family:'Liberation Sans', Arial, Helvetica, sans-serif;font-size:23.00px" fill="#000">0</text>
<line x1="832.60" y1="1871.16" x2="840.50" y2="1871.16" stroke="#0a0a06" stroke-width="3.4" stroke-linecap="round"/>
<text x="800.77" y="1879.09" style="font-family:'Liberation Sans', Arial, Helvetica, sans-serif;font-size:23.00px" fill="#000">20</text>
<line x1="832.60" y1="1812.72" x2="840.50" y2="1812.72" stroke="#0a0a06" stroke-width="3.4" stroke-linecap="round"/>
<text x="800.77" y="1820.65" style="font-family:'Liberation Sans', Arial, Helvetica, sans-serif;font-size:23.00px" fill="#000">40</text>
<line x1="832.60" y1="1754.28" x2="840.50" y2="1754.28" stroke="#0a0a06" stroke-width="3.4" stroke-linecap="round"/>
<text x="800.77" y="1762.21" style="font-family:'Liberation Sans', Arial, Helvetica, sans-serif;font-size:23.00px" fill="#000">60</text>
<line x1="832.60" y1="1695.84" x2="840.50" y2="1695.84" stroke="#0a0a06" stroke-width="3.4" stroke-linecap="round"/>
<text x="800.77" y="1703.78" style="font-family:'Liberation Sans', Arial, Helvetica, sans-serif;font-size:23.00px" fill="#000">80</text>
<line x1="832.60" y1="1637.40" x2="840.50" y2="1637.40" stroke="#0a0a06" stroke-width="3.4" stroke-linecap="round"/>
<text x="790.91" y="1645.34" style="font-family:'Liberation Sans', Arial, Helvetica, sans-serif;font-size:23.00px" fill="#000">100</text>
<line x1="903.80" y1="1929.60" x2="903.80" y2="1937.80" stroke="#0a0a06" stroke-width="3.4" stroke-linecap="round"/>
<line x1="1029.00" y1="1929.60" x2="1029.00" y2="1937.80" stroke="#0a0a06" stroke-width="3.4" stroke-linecap="round"/>
<line x1="1154.50" y1="1929.60" x2="1154.50" y2="1937.80" stroke="#0a0a06" stroke-width="3.4" stroke-linecap="round"/>
<text transform="translate(921.40,1744.47) scale(0.67,1)" x="-15.25" y="0" style="font-family:'Liberation Serif', 'Times New Roman', serif;font-size:28.50px;letter-spacing:2.0px" fill="#000">**</text>
<text transform="translate(1049.20,1728.37) scale(0.67,1)" x="-15.25" y="0" style="font-family:'Liberation Serif', 'Times New Roman', serif;font-size:28.50px;letter-spacing:2.0px" fill="#000">**</text>
<text transform="translate(1176.00,1792.67) scale(0.67,1)" x="-23.37" y="0" style="font-family:'Liberation Serif', 'Times New Roman', serif;font-size:28.50px;letter-spacing:2.0px" fill="#000">***</text>
<rect x="902.20" y="1603.40" width="40.40" height="15.40" fill="#0a0a06"/>
<rect x="1053.00" y="1604.90" width="35.80" height="12.40" fill="#fff" stroke="#0a0a06" stroke-width="3" stroke-linejoin="round"/>
<text x="953.66" y="1616.20" style="font-family:'Liberation Sans', Arial, Helvetica, sans-serif;font-size:23.00px" fill="#000">NC</text>
<text x="1105.51" y="1616.20" style="font-family:'Liberation Sans', Arial, Helvetica, sans-serif;font-size:23.00px" fill="#000">miR-93</text>
<text x="967.87" y="1576.40" style="font-family:'Liberation Sans', Arial, Helvetica, sans-serif;font-size:32.90px" fill="#000">Bats-72</text>
<text transform="translate(776.03,1779.65) rotate(-90)" x="-133.48" y="0" style="font-family:'Liberation Sans', Arial, Helvetica, sans-serif;font-size:23.90px" fill="#000">Realtive Cell Viability (%)</text>
<text x="875.57" y="1961.60" style="font-family:'Liberation Sans', Arial, Helvetica, sans-serif;font-size:23.30px" fill="#000">5-FU</text>
<text x="1007.14" y="1961.60" style="font-family:'Liberation Sans', Arial, Helvetica, sans-serif;font-size:23.30px" fill="#000">DOX</text>
<text x="1132.58" y="1961.60" style="font-family:'Liberation Sans', Arial, Helvetica, sans-serif;font-size:23.30px" fill="#000">VNB</text>
<line x1="1420.40" y1="1754.60" x2="1420.40" y2="1748.80" stroke="#0a0a06" stroke-width="3" stroke-linecap="butt"/>
<line x1="1410.90" y1="1748.80" x2="1429.90" y2="1748.80" stroke="#0a0a06" stroke-width="3" stroke-linecap="round"/>
<line x1="1462.80" y1="1794.80" x2="1462.80" y2="1785.10" stroke="#0a0a06" stroke-width="3" stroke-linecap="butt"/>
<line x1="1453.30" y1="1785.10" x2="1472.30" y2="1785.10" stroke="#0a0a06" stroke-width="3" stroke-linecap="round"/>
<rect x="1398.40" y="1753.60" width="44.00" height="176.00" fill="#0a0a06"/>
<rect x="1440.90" y="1795.30" width="40.80" height="134.30" fill="#fff" stroke="#0a0a06" stroke-width="3" stroke-linejoin="round"/>
<line x1="1546.25" y1="1702.60" x2="1546.25" y2="1678.80" stroke="#0a0a06" stroke-width="3" stroke-linecap="butt"/>
<line x1="1536.75" y1="1678.80" x2="1555.75" y2="1678.80" stroke="#0a0a06" stroke-width="3" stroke-linecap="round"/>
<line x1="1588.45" y1="1772.30" x2="1588.45" y2="1756.80" stroke="#0a0a06" stroke-width="3" stroke-linecap="butt"/>
<line x1="1578.95" y1="1756.80" x2="1597.95" y2="1756.80" stroke="#0a0a06" stroke-width="3" stroke-linecap="round"/>
<rect x="1524.30" y="1701.60" width="43.90" height="228.00" fill="#0a0a06"/>
<rect x="1566.70" y="1772.80" width="40.50" height="156.80" fill="#fff" stroke="#0a0a06" stroke-width="3" stroke-linejoin="round"/>
<line x1="1671.65" y1="1753.00" x2="1671.65" y2="1740.80" stroke="#0a0a06" stroke-width="3" stroke-linecap="butt"/>
<line x1="1662.15" y1="1740.80" x2="1681.15" y2="1740.80" stroke="#0a0a06" stroke-width="3" stroke-linecap="round"/>
<line x1="1714.15" y1="1796.40" x2="1714.15" y2="1792.20" stroke="#0a0a06" stroke-width="3" stroke-linecap="butt"/>
<line x1="1704.65" y1="1792.20" x2="1723.65" y2="1792.20" stroke="#0a0a06" stroke-width="3" stroke-linecap="round"/>
<rect x="1649.50" y="1752.00" width="44.30" height="177.60" fill="#0a0a06"/>
<rect x="1692.30" y="1796.90" width="40.70" height="132.70" fill="#fff" stroke="#0a0a06" stroke-width="3" stroke-linejoin="round"/>
<line x1="1379.80" y1="1638.00" x2="1379.80" y2="1931.90" stroke="#0a0a06" stroke-width="3.4" stroke-linecap="round"/>
<line x1="1371.90" y1="1929.60" x2="1758.40" y2="1929.60" stroke="#0a0a06" stroke-width="3.4" stroke-linecap="round"/>
<line x1="1371.90" y1="1929.60" x2="1379.80" y2="1929.60" stroke="#0a0a06" stroke-width="3.4" stroke-linecap="round"/>
<text x="1352.44" y="1937.53" style="font-family:'Liberation Sans', Arial, Helvetica, sans-serif;font-size:23.00px" fill="#000">0</text>
<line x1="1371.90" y1="1871.28" x2="1379.80" y2="1871.28" stroke="#0a0a06" stroke-width="3.4" stroke-linecap="round"/>
<text x="1339.68" y="1879.21" style="font-family:'Liberation Sans', Arial, Helvetica, sans-serif;font-size:23.00px" fill="#000">20</text>
<line x1="1371.90" y1="1812.96" x2="1379.80" y2="1812.96" stroke="#0a0a06" stroke-width="3.4" stroke-linecap="round"/>
<text x="1339.68" y="1820.89" style="font-family:'Liberation Sans', Arial, Helvetica, sans-serif;font-size:23.00px" fill="#000">40</text>
<line x1="1371.90" y1="1754.64" x2="1379.80" y2="1754.64" stroke="#0a0a06" stroke-width="3.4" stroke-linecap="round"/>
<text x="1339.68" y="1762.57" style="font-family:'Liberation Sans', Arial, Helvetica, sans-serif;font-size:23.00px" fill="#000">60</text>
<line x1="1371.90" y1="1696.32" x2="1379.80" y2="1696.32" stroke="#0a0a06" stroke-width="3.4" stroke-linecap="round"/>
<text x="1339.68" y="1704.25" style="font-family:'Liberation Sans', Arial, Helvetica, sans-serif;font-size:23.00px" fill="#000">80</text>
<line x1="1371.90" y1="1638.00" x2="1379.80" y2="1638.00" stroke="#0a0a06" stroke-width="3.4" stroke-linecap="round"/>
<text x="1330.11" y="1645.93" style="font-family:'Liberation Sans', Arial, Helvetica, sans-serif;font-size:23.00px" fill="#000">100</text>
<line x1="1443.00" y1="1929.60" x2="1443.00" y2="1937.80" stroke="#0a0a06" stroke-width="3.4" stroke-linecap="round"/>
<line x1="1568.60" y1="1929.60" x2="1568.60" y2="1937.80" stroke="#0a0a06" stroke-width="3.4" stroke-linecap="round"/>
<line x1="1693.80" y1="1929.60" x2="1693.80" y2="1937.80" stroke="#0a0a06" stroke-width="3.4" stroke-linecap="round"/>
<text transform="translate(1462.60,1784.87) scale(0.67,1)" x="-23.37" y="0" style="font-family:'Liberation Serif', 'Times New Roman', serif;font-size:28.50px;letter-spacing:2.0px" fill="#000">***</text>
<text transform="translate(1587.80,1757.27) scale(0.67,1)" x="-15.25" y="0" style="font-family:'Liberation Serif', 'Times New Roman', serif;font-size:28.50px;letter-spacing:2.0px" fill="#000">**</text>
<text transform="translate(1714.60,1790.67) scale(0.67,1)" x="-23.37" y="0" style="font-family:'Liberation Serif', 'Times New Roman', serif;font-size:28.50px;letter-spacing:2.0px" fill="#000">***</text>
<rect x="1441.40" y="1603.40" width="40.50" height="15.40" fill="#0a0a06"/>
<rect x="1592.20" y="1604.90" width="35.90" height="12.40" fill="#fff" stroke="#0a0a06" stroke-width="3" stroke-linejoin="round"/>
<text x="1492.86" y="1616.20" style="font-family:'Liberation Sans', Arial, Helvetica, sans-serif;font-size:23.00px" fill="#000">NC</text>
<text x="1644.81" y="1616.20" style="font-family:'Liberation Sans', Arial, Helvetica, sans-serif;font-size:23.00px" fill="#000">miR-93</text>
<text x="1497.58" y="1576.40" style="font-family:'Liberation Sans', Arial, Helvetica, sans-serif;font-size:32.70px" fill="#000">Bads-200</text>
<text transform="translate(1315.23,1779.65) rotate(-90)" x="-133.48" y="0" style="font-family:'Liberation Sans', Arial, Helvetica, sans-serif;font-size:23.90px" fill="#000">Realtive Cell Viability (%)</text>
<text x="1414.77" y="1961.60" style="font-family:'Liberation Sans', Arial, Helvetica, sans-serif;font-size:23.30px" fill="#000">5-FU</text>
<text x="1546.44" y="1961.60" style="font-family:'Liberation Sans', Arial, Helvetica, sans-serif;font-size:23.30px" fill="#000">DOX</text>
<text x="1672.88" y="1961.60" style="font-family:'Liberation Sans', Arial, Helvetica, sans-serif;font-size:23.30px" fill="#000">VNB</text>
<line x1="350.30" y1="2407.00" x2="350.30" y2="2400.60" stroke="#0a0a06" stroke-width="3" stroke-linecap="butt"/>
<line x1="336.80" y1="2400.60" x2="363.80" y2="2400.60" stroke="#0a0a06" stroke-width="3" stroke-linecap="round"/>
<line x1="407.30" y1="2386.50" x2="407.30" y2="2378.10" stroke="#0a0a06" stroke-width="3" stroke-linecap="butt"/>
<line x1="393.80" y1="2378.10" x2="420.80" y2="2378.10" stroke="#0a0a06" stroke-width="3" stroke-linecap="round"/>
<rect x="321.40" y="2406.00" width="57.80" height="20.30" fill="#0a0a06"/>
<rect x="377.70" y="2387.00" width="56.20" height="39.30" fill="#fff" stroke="#0a0a06" stroke-width="3" stroke-linejoin="round"/>
<line x1="518.80" y1="2290.80" x2="518.80" y2="2278.60" stroke="#0a0a06" stroke-width="3" stroke-linecap="butt"/>
<line x1="505.30" y1="2278.60" x2="532.30" y2="2278.60" stroke="#0a0a06" stroke-width="3" stroke-linecap="round"/>
<line x1="575.80" y1="2235.60" x2="575.80" y2="2224.00" stroke="#0a0a06" stroke-width="3" stroke-linecap="butt"/>
<line x1="562.30" y1="2224.00" x2="589.30" y2="2224.00" stroke="#0a0a06" stroke-width="3" stroke-linecap="round"/>
<rect x="489.90" y="2289.80" width="57.80" height="136.50" fill="#0a0a06"/>
<rect x="546.20" y="2236.10" width="56.20" height="190.20" fill="#fff" stroke="#0a0a06" stroke-width="3" stroke-linejoin="round"/>
<line x1="294.70" y1="2134.10" x2="294.70" y2="2428.60" stroke="#0a0a06" stroke-width="3.4" stroke-linecap="round"/>
<line x1="286.20" y1="2426.30" x2="632.10" y2="2426.30" stroke="#0a0a06" stroke-width="3.4" stroke-linecap="round"/>
<line x1="286.20" y1="2426.30" x2="294.70" y2="2426.30" stroke="#0a0a06" stroke-width="3.4" stroke-linecap="round"/>
<text x="266.04" y="2434.24" style="font-family:'Liberation Sans', Arial, Helvetica, sans-serif;font-size:23.00px" fill="#000">0</text>
<line x1="286.20" y1="2353.25" x2="294.70" y2="2353.25" stroke="#0a0a06" stroke-width="3.4" stroke-linecap="round"/>
<text x="253.28" y="2361.18" style="font-family:'Liberation Sans', Arial, Helvetica, sans-serif;font-size:23.00px" fill="#000">20</text>
<line x1="286.20" y1="2280.20" x2="294.70" y2="2280.20" stroke="#0a0a06" stroke-width="3.4" stroke-linecap="round"/>
<text x="253.28" y="2288.13" style="font-family:'Liberation Sans', Arial, Helvetica, sans-serif;font-size:23.00px" fill="#000">40</text>
<line x1="286.20" y1="2207.15" x2="294.70" y2="2207.15" stroke="#0a0a06" stroke-width="3.4" stroke-linecap="round"/>
<text x="253.28" y="2215.09" style="font-family:'Liberation Sans', Arial, Helvetica, sans-serif;font-size:23.00px" fill="#000">60</text>
<line x1="286.20" y1="2134.10" x2="294.70" y2="2134.10" stroke="#0a0a06" stroke-width="3.4" stroke-linecap="round"/>
<text x="253.28" y="2142.03" style="font-family:'Liberation Sans', Arial, Helvetica, sans-serif;font-size:23.00px" fill="#000">80</text>
<line x1="378.20" y1="2426.30" x2="378.20" y2="2434.30" stroke="#0a0a06" stroke-width="3.4" stroke-linecap="round"/>
<line x1="546.80" y1="2426.30" x2="546.80" y2="2434.30" stroke="#0a0a06" stroke-width="3.4" stroke-linecap="round"/>
<text transform="translate(407.10,2377.97) scale(0.67,1)" x="-7.12" y="0" style="font-family:'Liberation Serif', 'Times New Roman', serif;font-size:28.50px;letter-spacing:2.0px" fill="#000">*</text>
<text transform="translate(576.00,2222.27) scale(0.67,1)" x="-15.25" y="0" style="font-family:'Liberation Serif', 'Times New Roman', serif;font-size:28.50px;letter-spacing:2.0px" fill="#000">**</text>
<rect x="348.70" y="2103.60" width="40.10" height="16.10" fill="#0a0a06"/>
<rect x="498.80" y="2105.10" width="36.80" height="13.10" fill="#fff" stroke="#0a0a06" stroke-width="3" stroke-linejoin="round"/>
<text x="397.56" y="2117.10" style="font-family:'Liberation Sans', Arial, Helvetica, sans-serif;font-size:23.00px" fill="#000">NC</text>
<text x="548.80" y="2117.10" style="font-family:'Liberation Sans', Arial, Helvetica, sans-serif;font-size:23.00px" fill="#000">miR-93</text>
<text x="415.06" y="2077.30" style="font-family:'Liberation Sans', Arial, Helvetica, sans-serif;font-size:33.00px;letter-spacing:1.40px" fill="#000">BCap37</text>
<text transform="translate(233.80,2275.35) rotate(-90)" x="-73.92" y="0" style="font-family:'Liberation Sans', Arial, Helvetica, sans-serif;font-size:24.00px" fill="#000">Apoptosis (%)</text>
<text x="368.86" y="2460.00" style="font-family:'Liberation Sans', Arial, Helvetica, sans-serif;font-size:23.00px" fill="#000">0</text>
<text x="533.17" y="2460.00" style="font-family:'Liberation Sans', Arial, Helvetica, sans-serif;font-size:23.00px" fill="#000">10</text>
<text x="415.83" y="2488.20" style="font-family:'Liberation Sans', Arial, Helvetica, sans-serif;font-size:23.40px" fill="#000">PTX (nM)</text>
<line x1="893.80" y1="2401.00" x2="893.80" y2="2389.40" stroke="#0a0a06" stroke-width="3" stroke-linecap="butt"/>
<line x1="880.30" y1="2389.40" x2="907.30" y2="2389.40" stroke="#0a0a06" stroke-width="3" stroke-linecap="round"/>
<line x1="950.80" y1="2373.70" x2="950.80" y2="2360.50" stroke="#0a0a06" stroke-width="3" stroke-linecap="butt"/>
<line x1="937.30" y1="2360.50" x2="964.30" y2="2360.50" stroke="#0a0a06" stroke-width="3" stroke-linecap="round"/>
<rect x="864.60" y="2400.00" width="58.40" height="26.30" fill="#0a0a06"/>
<rect x="921.50" y="2374.20" width="55.60" height="52.10" fill="#fff" stroke="#0a0a06" stroke-width="3" stroke-linejoin="round"/>
<line x1="1062.10" y1="2242.00" x2="1062.10" y2="2227.20" stroke="#0a0a06" stroke-width="3" stroke-linecap="butt"/>
<line x1="1048.60" y1="2227.20" x2="1075.60" y2="2227.20" stroke="#0a0a06" stroke-width="3" stroke-linecap="round"/>
<line x1="1118.75" y1="2192.30" x2="1118.75" y2="2181.60" stroke="#0a0a06" stroke-width="3" stroke-linecap="butt"/>
<line x1="1105.25" y1="2181.60" x2="1132.25" y2="2181.60" stroke="#0a0a06" stroke-width="3" stroke-linecap="round"/>
<rect x="1033.20" y="2241.00" width="57.80" height="185.30" fill="#0a0a06"/>
<rect x="1089.50" y="2192.80" width="55.50" height="233.50" fill="#fff" stroke="#0a0a06" stroke-width="3" stroke-linejoin="round"/>
<line x1="838.90" y1="2134.10" x2="838.90" y2="2428.60" stroke="#0a0a06" stroke-width="3.4" stroke-linecap="round"/>
<line x1="831.00" y1="2426.30" x2="1177.50" y2="2426.30" stroke="#0a0a06" stroke-width="3.4" stroke-linecap="round"/>
<line x1="831.00" y1="2426.30" x2="838.90" y2="2426.30" stroke="#0a0a06" stroke-width="3.4" stroke-linecap="round"/>
<text x="810.24" y="2434.24" style="font-family:'Liberation Sans', Arial, Helvetica, sans-serif;font-size:23.00px" fill="#000">0</text>
<line x1="831.00" y1="2353.25" x2="838.90" y2="2353.25" stroke="#0a0a06" stroke-width="3.4" stroke-linecap="round"/>
<text x="797.48" y="2361.18" style="font-family:'Liberation Sans', Arial, Helvetica, sans-serif;font-size:23.00px" fill="#000">20</text>
<line x1="831.00" y1="2280.20" x2="838.90" y2="2280.20" stroke="#0a0a06" stroke-width="3.4" stroke-linecap="round"/>
<text x="797.48" y="2288.13" style="font-family:'Liberation Sans', Arial, Helvetica, sans-serif;font-size:23.00px" fill="#000">40</text>
<line x1="831.00" y1="2207.15" x2="838.90" y2="2207.15" stroke="#0a0a06" stroke-width="3.4" stroke-linecap="round"/>
<text x="797.48" y="2215.09" style="font-family:'Liberation Sans', Arial, Helvetica, sans-serif;font-size:23.00px" fill="#000">60</text>
<line x1="831.00" y1="2134.10" x2="838.90" y2="2134.10" stroke="#0a0a06" stroke-width="3.4" stroke-linecap="round"/>
<text x="797.48" y="2142.03" style="font-family:'Liberation Sans', Arial, Helvetica, sans-serif;font-size:23.00px" fill="#000">80</text>
<line x1="923.00" y1="2426.30" x2="923.00" y2="2434.30" stroke="#0a0a06" stroke-width="3.4" stroke-linecap="round"/>
<line x1="1091.00" y1="2426.30" x2="1091.00" y2="2434.30" stroke="#0a0a06" stroke-width="3.4" stroke-linecap="round"/>
<text transform="translate(949.00,2361.87) scale(0.67,1)" x="-7.12" y="0" style="font-family:'Liberation Serif', 'Times New Roman', serif;font-size:28.50px;letter-spacing:2.0px" fill="#000">*</text>
<text transform="translate(1118.20,2180.47) scale(0.67,1)" x="-15.25" y="0" style="font-family:'Liberation Serif', 'Times New Roman', serif;font-size:28.50px;letter-spacing:2.0px" fill="#000">**</text>
<rect x="893.50" y="2103.60" width="40.10" height="16.10" fill="#0a0a06"/>
<rect x="1044.30" y="2105.10" width="36.20" height="13.10" fill="#fff" stroke="#0a0a06" stroke-width="3" stroke-linejoin="round"/>
<text x="942.36" y="2117.10" style="font-family:'Liberation Sans', Arial, Helvetica, sans-serif;font-size:23.00px" fill="#000">NC</text>
<text x="1093.31" y="2117.10" style="font-family:'Liberation Sans', Arial, Helvetica, sans-serif;font-size:23.00px" fill="#000">miR-93</text>
<text x="963.07" y="2077.30" style="font-family:'Liberation Sans', Arial, Helvetica, sans-serif;font-size:32.90px" fill="#000">Bats-72</text>
<text transform="translate(785.70,2275.35) rotate(-90)" x="-73.92" y="0" style="font-family:'Liberation Sans', Arial, Helvetica, sans-serif;font-size:24.00px" fill="#000">Apoptosis (%)</text>
<text x="913.66" y="2460.00" style="font-family:'Liberation Sans', Arial, Helvetica, sans-serif;font-size:23.00px" fill="#000">0</text>
<text x="1070.68" y="2460.00" style="font-family:'Liberation Sans', Arial, Helvetica, sans-serif;font-size:23.00px" fill="#000">200</text>
<text x="955.83" y="2488.20" style="font-family:'Liberation Sans', Arial, Helvetica, sans-serif;font-size:23.40px" fill="#000">PTX (nM)</text>
<line x1="1434.30" y1="2401.00" x2="1434.30" y2="2394.20" stroke="#0a0a06" stroke-width="3" stroke-linecap="butt"/>
<line x1="1420.80" y1="2394.20" x2="1447.80" y2="2394.20" stroke="#0a0a06" stroke-width="3" stroke-linecap="round"/>
<line x1="1491.25" y1="2341.60" x2="1491.25" y2="2328.40" stroke="#0a0a06" stroke-width="3" stroke-linecap="butt"/>
<line x1="1477.75" y1="2328.40" x2="1504.75" y2="2328.40" stroke="#0a0a06" stroke-width="3" stroke-linecap="round"/>
<rect x="1405.60" y="2400.00" width="57.40" height="26.30" fill="#0a0a06"/>
<rect x="1461.50" y="2342.10" width="56.50" height="84.20" fill="#fff" stroke="#0a0a06" stroke-width="3" stroke-linejoin="round"/>
<line x1="1603.30" y1="2274.10" x2="1603.30" y2="2268.30" stroke="#0a0a06" stroke-width="3" stroke-linecap="butt"/>
<line x1="1589.80" y1="2268.30" x2="1616.80" y2="2268.30" stroke="#0a0a06" stroke-width="3" stroke-linecap="round"/>
<line x1="1660.15" y1="2226.00" x2="1660.15" y2="2221.80" stroke="#0a0a06" stroke-width="3" stroke-linecap="butt"/>
<line x1="1646.65" y1="2221.80" x2="1673.65" y2="2221.80" stroke="#0a0a06" stroke-width="3" stroke-linecap="round"/>
<rect x="1574.10" y="2273.10" width="58.40" height="153.20" fill="#0a0a06"/>
<rect x="1631.00" y="2226.50" width="55.30" height="199.80" fill="#fff" stroke="#0a0a06" stroke-width="3" stroke-linejoin="round"/>
<line x1="1380.50" y1="2134.10" x2="1380.50" y2="2428.60" stroke="#0a0a06" stroke-width="3.4" stroke-linecap="round"/>
<line x1="1372.00" y1="2426.30" x2="1718.50" y2="2426.30" stroke="#0a0a06" stroke-width="3.4" stroke-linecap="round"/>
<line x1="1372.00" y1="2426.30" x2="1380.50" y2="2426.30" stroke="#0a0a06" stroke-width="3.4" stroke-linecap="round"/>
<text x="1351.84" y="2434.24" style="font-family:'Liberation Sans', Arial, Helvetica, sans-serif;font-size:23.00px" fill="#000">0</text>
<line x1="1372.00" y1="2353.25" x2="1380.50" y2="2353.25" stroke="#0a0a06" stroke-width="3.4" stroke-linecap="round"/>
<text x="1339.08" y="2361.18" style="font-family:'Liberation Sans', Arial, Helvetica, sans-serif;font-size:23.00px" fill="#000">20</text>
<line x1="1372.00" y1="2280.20" x2="1380.50" y2="2280.20" stroke="#0a0a06" stroke-width="3.4" stroke-linecap="round"/>
<text x="1339.08" y="2288.13" style="font-family:'Liberation Sans', Arial, Helvetica, sans-serif;font-size:23.00px" fill="#000">40</text>
<line x1="1372.00" y1="2207.15" x2="1380.50" y2="2207.15" stroke="#0a0a06" stroke-width="3.4" stroke-linecap="round"/>
<text x="1339.08" y="2215.09" style="font-family:'Liberation Sans', Arial, Helvetica, sans-serif;font-size:23.00px" fill="#000">60</text>
<line x1="1372.00" y1="2134.10" x2="1380.50" y2="2134.10" stroke="#0a0a06" stroke-width="3.4" stroke-linecap="round"/>
<text x="1339.08" y="2142.03" style="font-family:'Liberation Sans', Arial, Helvetica, sans-serif;font-size:23.00px" fill="#000">80</text>
<line x1="1464.60" y1="2426.30" x2="1464.60" y2="2434.30" stroke="#0a0a06" stroke-width="3.4" stroke-linecap="round"/>
<line x1="1632.50" y1="2426.30" x2="1632.50" y2="2434.30" stroke="#0a0a06" stroke-width="3.4" stroke-linecap="round"/>
<text transform="translate(1491.30,2329.77) scale(0.67,1)" x="-15.25" y="0" style="font-family:'Liberation Serif', 'Times New Roman', serif;font-size:28.50px;letter-spacing:2.0px" fill="#000">**</text>
<text transform="translate(1661.40,2219.07) scale(0.67,1)" x="-23.37" y="0" style="font-family:'Liberation Serif', 'Times New Roman', serif;font-size:28.50px;letter-spacing:2.0px" fill="#000">***</text>
<rect x="1434.50" y="2103.60" width="40.70" height="16.10" fill="#0a0a06"/>
<rect x="1585.90" y="2105.10" width="36.20" height="13.10" fill="#fff" stroke="#0a0a06" stroke-width="3" stroke-linejoin="round"/>
<text x="1483.96" y="2117.10" style="font-family:'Liberation Sans', Arial, Helvetica, sans-serif;font-size:23.00px" fill="#000">NC</text>
<text x="1634.91" y="2117.10" style="font-family:'Liberation Sans', Arial, Helvetica, sans-serif;font-size:23.00px" fill="#000">miR-93</text>
<text x="1493.48" y="2077.30" style="font-family:'Liberation Sans', Arial, Helvetica, sans-serif;font-size:32.70px" fill="#000">Bads-200</text>
<text transform="translate(1317.00,2275.35) rotate(-90)" x="-73.92" y="0" style="font-family:'Liberation Sans', Arial, Helvetica, sans-serif;font-size:24.00px" fill="#000">Apoptosis (%)</text>
<text x="1454.96" y="2460.00" style="font-family:'Liberation Sans', Arial, Helvetica, sans-serif;font-size:23.00px" fill="#000">0</text>
<text x="1606.14" y="2460.00" style="font-family:'Liberation Sans', Arial, Helvetica, sans-serif;font-size:23.00px" fill="#000">2000</text>
<text x="1497.43" y="2488.20" style="font-family:'Liberation Sans', Arial, Helvetica, sans-serif;font-size:23.40px" fill="#000">PTX (nM)</text>
</svg>
</body></html>
